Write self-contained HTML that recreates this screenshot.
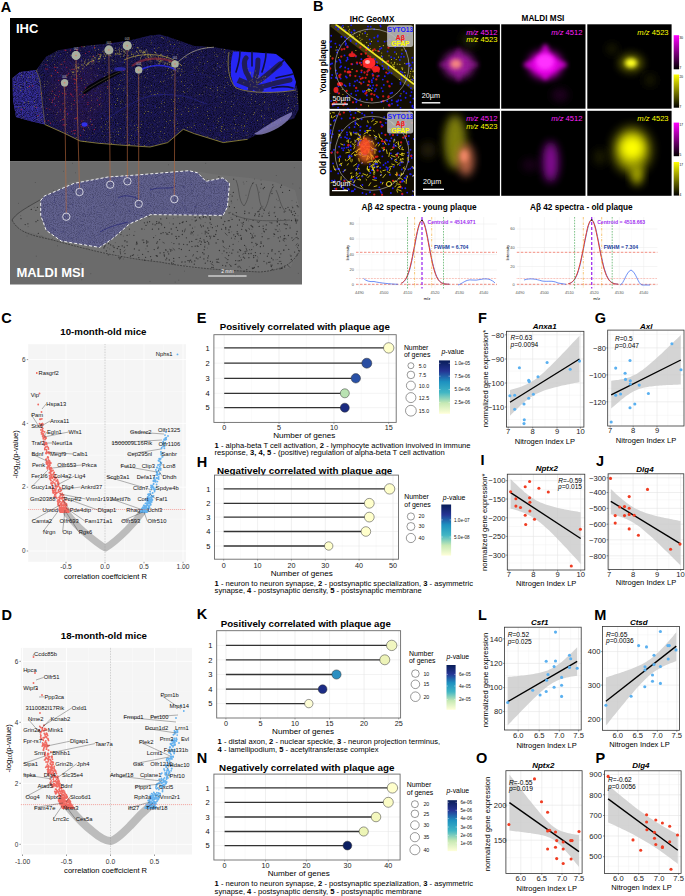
<!DOCTYPE html>
<html><head><meta charset="utf-8"><title>Figure</title>
<style>
html,body{margin:0;padding:0;background:#fff;width:685px;height:896px;overflow:hidden}
svg{display:block;font-family:"Liberation Sans",sans-serif}
</style></head><body>
<svg width="685" height="896" viewBox="0 0 685 896">
<defs>
<filter id="blur1" x="-50%" y="-50%" width="200%" height="200%"><feGaussianBlur stdDeviation="0.6"/></filter>
<filter id="blur2" x="-50%" y="-50%" width="200%" height="200%"><feGaussianBlur stdDeviation="2"/></filter>
<filter id="blur4" x="-50%" y="-50%" width="200%" height="200%"><feGaussianBlur stdDeviation="4"/></filter>
<filter id="blur6" x="-50%" y="-50%" width="200%" height="200%"><feGaussianBlur stdDeviation="6"/></filter>
<filter id="texb" x="0" y="0" width="100%" height="100%" color-interpolation-filters="sRGB"><feTurbulence type="fractalNoise" baseFrequency="0.9" numOctaves="2" seed="3"/><feColorMatrix type="matrix" values="0 0 0 0 0.12  0 0 0 0 0.10  0 0 0 0 0.40  2.2 0 0 0 -1.0"/></filter>
<filter id="texy" x="0" y="0" width="100%" height="100%" color-interpolation-filters="sRGB"><feTurbulence type="fractalNoise" baseFrequency="1.3" numOctaves="1" seed="8"/><feColorMatrix type="matrix" values="0 0 0 0 0.50  0 0 0 0 0.46  0 0 0 0 0.20  0 14 0 0 -9.4"/></filter>
<filter id="texd" x="0" y="0" width="100%" height="100%" color-interpolation-filters="sRGB"><feTurbulence type="fractalNoise" baseFrequency="1.1" numOctaves="1" seed="5"/><feColorMatrix type="matrix" values="0 0 0 0 0.02  0 0 0 0 0.02  0 0 0 0 0.08  0 0 2.5 0 -1.0"/></filter>
<linearGradient id="ylgnbu" x1="0" y1="0" x2="0" y2="1">
<stop offset="0" stop-color="#081d58"/><stop offset="0.2" stop-color="#253494"/><stop offset="0.4" stop-color="#1d91c0"/>
<stop offset="0.6" stop-color="#41b6c4"/><stop offset="0.8" stop-color="#c7e9b4"/><stop offset="1" stop-color="#ffffd9"/>
</linearGradient>
<linearGradient id="magbar" x1="0" y1="0" x2="0" y2="1"><stop offset="0" stop-color="#ff00ff"/><stop offset="0.5" stop-color="#800080"/><stop offset="1" stop-color="#000"/></linearGradient>
<linearGradient id="yelbar" x1="0" y1="0" x2="0" y2="1"><stop offset="0" stop-color="#ffff00"/><stop offset="0.5" stop-color="#808000"/><stop offset="1" stop-color="#000"/></linearGradient>
<radialGradient id="gmag"><stop offset="0" stop-color="#ff40ff"/><stop offset="0.5" stop-color="#c000c0" stop-opacity="0.8"/><stop offset="1" stop-color="#000" stop-opacity="0"/></radialGradient>
<radialGradient id="gyel"><stop offset="0" stop-color="#ffff00"/><stop offset="0.5" stop-color="#c0c000" stop-opacity="0.8"/><stop offset="1" stop-color="#000" stop-opacity="0"/></radialGradient>
</defs>
<text x="0.8" y="12.0" font-size="14.5" font-weight="bold" fill="#000">A</text>
<rect x="10.0" y="18.0" width="292.0" height="143.5" fill="#000" stroke="none" stroke-width="1"/>
<rect x="10.0" y="161.5" width="292.0" height="123.0" fill="#6b6b6b" stroke="none" stroke-width="1"/>
<path d="M12.5,78.0 L20.0,72.0 L36.3,69.9 L46.1,56.7 L58.2,50.2 L86.6,45.8 L108.5,43.6 L130.4,40.3 L150.0,35.5 L160.0,34.5 L172.2,38.3 L194.4,46.1 L214.3,47.2 L234.3,50.5 L256.5,52.7 L274.3,53.8 L283.1,60.5 L292.0,71.6 L297.5,89.3 L298.7,109.3 L294.2,118.2 L283.0,122.0 L262.0,132.0 L247.6,139.3 L223.2,142.6 L194.4,133.7 L183.3,129.3 L167.7,142.6 L150.0,147.0 L119.5,145.0 L97.6,143.2 L80.0,141.0 L64.7,133.4 L45.0,124.6 L40.7,123.5 L30.0,121.0 L16.0,117.0 L13.0,100.0 Z" fill="#1b174e" stroke="none" stroke-width="1"/>
<path d="M12.5,78.0 L20.0,72.0 L36.3,69.9 L40.0,80.0 L42.0,100.0 L45.0,124.6 L40.7,123.5 L30.0,121.0 L16.0,117.0 L13.0,100.0 Z" fill="#3830a0" stroke="none" stroke-width="1"/>
<clipPath id="brainclip"><path d="M12.5,78.0 L20.0,72.0 L36.3,69.9 L46.1,56.7 L58.2,50.2 L86.6,45.8 L108.5,43.6 L130.4,40.3 L150.0,35.5 L160.0,34.5 L172.2,38.3 L194.4,46.1 L214.3,47.2 L234.3,50.5 L256.5,52.7 L274.3,53.8 L283.1,60.5 L292.0,71.6 L297.5,89.3 L298.7,109.3 L294.2,118.2 L283.0,122.0 L262.0,132.0 L247.6,139.3 L223.2,142.6 L194.4,133.7 L183.3,129.3 L167.7,142.6 L150.0,147.0 L119.5,145.0 L97.6,143.2 L80.0,141.0 L64.7,133.4 L45.0,124.6 L40.7,123.5 L30.0,121.0 L16.0,117.0 L13.0,100.0 Z"/></clipPath>
<g clip-path="url(#brainclip)"><rect x="10" y="30" width="292" height="122" filter="url(#texd)"/><rect x="10" y="30" width="292" height="122" filter="url(#texb)"/><rect x="10" y="30" width="292" height="122" filter="url(#texy)" opacity="0.8"/></g>
<ellipse cx="76" cy="95" rx="28" ry="38" fill="#3a1850" opacity="0.3" filter="url(#blur6)"/>
<path d="M32.8 95.1h0M178.9 106.8h0M71.1 111.6h0M102.2 100.8h0M82.1 99.5h0M263.2 117.2h0M102.0 113.3h0M35.1 85.2h0M91.9 81.3h0M79.0 89.3h0M132.2 76.1h0M285.5 112.7h0M241.0 78.7h0M84.4 73.6h0M167.9 37.1h0M211.8 63.8h0M59.9 122.0h0M224.3 59.8h0M236.5 119.5h0M63.2 124.0h0M200.6 73.9h0M290.6 108.1h0M249.1 58.1h0M96.1 61.4h0M273.2 74.3h0M132.7 138.6h0M241.4 53.6h0M220.1 97.4h0M91.5 122.0h0M139.2 103.8h0M159.0 113.0h0M285.4 79.4h0M58.3 83.2h0M109.3 56.3h0M107.1 105.1h0M28.5 112.5h0M259.6 85.7h0M170.7 139.6h0M247.0 83.3h0M251.5 78.8h0M194.5 80.1h0M32.3 118.5h0M92.9 61.6h0M143.9 52.0h0M289.1 69.3h0M78.8 100.8h0M264.3 78.4h0M242.9 128.2h0M191.7 111.6h0M226.8 91.3h0M153.8 77.6h0M95.5 92.9h0M178.9 50.2h0M153.1 85.4h0M52.4 73.2h0M95.2 76.4h0M115.5 82.8h0M83.6 64.3h0M147.5 73.2h0M86.7 108.8h0M227.2 81.1h0M162.4 77.0h0M162.5 100.4h0M287.7 114.3h0M75.6 120.7h0M202.7 77.2h0M269.9 72.7h0M286.9 104.3h0M217.7 70.1h0M122.9 62.6h0M233.8 103.2h0M21.7 97.0h0M155.1 114.9h0M96.3 98.6h0M178.0 71.2h0M118.8 132.7h0M70.5 63.1h0M211.6 80.7h0M100.3 142.7h0M174.6 74.7h0M128.6 134.6h0M37.6 104.9h0M156.8 50.6h0M126.7 93.0h0M99.9 81.9h0M134.2 109.1h0M231.1 122.9h0M222.5 122.7h0M27.6 91.4h0M71.8 64.0h0M164.3 106.5h0M262.5 97.3h0M297.0 105.8h0M180.1 109.7h0M54.9 104.2h0M236.5 79.8h0M15.3 107.5h0M112.5 107.6h0M62.1 69.3h0M254.4 119.0h0M88.3 97.1h0M238.3 93.6h0M283.1 119.1h0M20.9 81.1h0M13.3 90.0h0M240.7 55.0h0M111.6 128.8h0M192.2 74.5h0M79.0 86.5h0M178.2 48.4h0M240.1 117.6h0M155.6 106.1h0M52.7 102.8h0M224.7 137.5h0M176.7 119.4h0M207.0 107.1h0M192.7 62.5h0M142.6 104.9h0M161.0 45.5h0M167.3 115.8h0M195.5 128.5h0M224.8 141.2h0M74.8 125.4h0M244.3 106.3h0M246.2 87.4h0M113.8 131.0h0M120.0 62.9h0M98.6 88.7h0M194.9 109.2h0M68.6 113.0h0M146.1 50.5h0M253.2 76.7h0M109.2 132.2h0M72.5 83.6h0M171.0 128.2h0M249.6 80.0h0M199.9 124.3h0M103.0 68.1h0M219.4 135.0h0M274.3 108.8h0M248.1 123.7h0M86.0 68.4h0M293.5 88.2h0M192.4 114.9h0M151.6 40.8h0M53.6 124.9h0M197.1 105.8h0M237.2 98.6h0M213.8 128.3h0M250.6 102.5h0M135.0 135.2h0M87.5 82.2h0M111.5 43.7h0M233.6 60.5h0M161.8 88.3h0M213.2 75.4h0M238.0 51.8h0M260.6 89.4h0M87.1 122.8h0M30.4 102.2h0M286.5 110.3h0M206.3 68.1h0M192.3 85.6h0M261.9 64.4h0M108.0 53.1h0M149.0 66.6h0M28.5 116.8h0M163.1 55.2h0M273.7 58.9h0M37.1 103.4h0M215.1 126.5h0M148.8 133.4h0M65.4 128.8h0M58.9 76.3h0M13.3 93.3h0M246.3 132.7h0M285.8 90.4h0M17.1 102.3h0M47.3 90.3h0M92.3 47.9h0M21.9 107.1h0M206.7 65.2h0M277.3 104.8h0M159.5 64.6h0M49.7 67.5h0M215.9 86.5h0M187.9 87.5h0M81.5 59.3h0M171.8 90.0h0M231.7 100.8h0M288.3 99.2h0M120.9 85.6h0M219.5 67.4h0M171.4 77.8h0M237.9 130.9h0M139.4 55.0h0M53.6 99.6h0M25.6 98.4h0M276.1 122.2h0M160.5 112.1h0M114.7 101.8h0M284.0 111.1h0M40.4 76.7h0M288.8 89.5h0M132.8 51.8h0M130.1 123.8h0M99.4 130.0h0M203.7 56.4h0M104.6 115.6h0M271.4 100.4h0M173.2 47.1h0M86.8 136.6h0M159.2 95.9h0M174.9 69.4h0M43.3 98.1h0M217.7 66.2h0M207.1 109.7h0M83.3 130.5h0M58.5 56.6h0M251.4 122.5h0M212.4 82.8h0M213.7 125.9h0M29.0 74.8h0M81.4 92.8h0M280.6 74.1h0M203.3 102.2h0M68.6 114.0h0M44.4 71.0h0M173.8 46.4h0M136.6 55.6h0M234.3 129.7h0M103.9 76.0h0M283.2 90.4h0M57.2 68.2h0M159.7 82.0h0M96.9 84.5h0M206.1 103.4h0M150.0 107.8h0M66.2 111.4h0M36.5 109.3h0M178.7 81.5h0M164.3 62.7h0M171.0 59.8h0M44.4 92.5h0M138.1 132.4h0M182.6 58.3h0M185.3 45.4h0M277.6 111.0h0M65.2 97.2h0M60.7 75.2h0M177.6 78.2h0M13.7 100.0h0M204.6 65.1h0M155.5 63.9h0M194.1 75.4h0M112.6 96.8h0M29.3 72.4h0M295.7 88.9h0M81.9 60.8h0M262.0 85.7h0M100.5 116.8h0M114.5 122.3h0M151.1 136.5h0M244.3 133.8h0M51.2 55.5h0M191.8 72.1h0M183.6 63.3h0M245.6 82.2h0M292.5 85.7h0M29.3 91.2h0M155.2 106.5h0M241.8 86.5h0M29.2 98.3h0M192.0 59.5h0M259.7 133.1h0M227.7 127.8h0M58.4 111.8h0M72.2 134.7h0M156.9 60.4h0M151.9 49.5h0M265.5 117.4h0M24.4 92.0h0M209.5 108.5h0M262.9 115.8h0M123.1 77.9h0M256.9 92.2h0M192.7 118.7h0" stroke="#2e2aa8" stroke-width="1.0" stroke-linecap="round" stroke-opacity="0.8" fill="none"/>
<path d="M104.9 51.2h0M76.1 105.5h0M177.6 79.2h0M98.0 124.6h0M152.3 38.5h0M231.4 99.3h0M178.4 86.0h0M283.1 88.0h0M29.4 114.0h0M93.7 78.0h0M83.1 78.6h0M265.5 127.4h0M270.2 122.9h0M110.3 64.2h0M256.7 125.9h0M86.4 112.9h0M140.4 140.8h0M253.2 88.7h0M125.6 79.8h0M280.0 83.5h0M160.8 97.3h0M173.2 120.6h0M165.1 88.5h0M212.7 133.9h0M86.5 97.8h0M204.1 123.4h0M56.3 115.6h0M133.2 137.9h0M86.2 51.0h0M101.5 68.8h0M110.4 128.9h0M253.4 133.2h0M227.4 109.0h0M251.7 135.7h0M162.3 91.5h0M268.2 111.9h0M251.9 97.7h0M208.2 121.4h0M54.3 62.9h0M204.9 112.9h0M145.8 47.5h0M143.7 127.5h0M247.4 92.0h0M213.9 60.4h0M277.9 115.3h0M251.6 66.6h0M66.5 76.6h0M265.8 126.6h0M222.2 85.4h0M58.4 57.7h0M154.7 59.1h0M86.1 98.9h0M156.5 105.8h0M126.7 84.8h0M21.3 114.9h0M124.4 139.7h0M161.9 111.8h0M219.1 107.8h0M236.5 60.5h0M84.3 106.5h0M98.5 86.5h0M18.3 90.8h0M132.5 63.3h0M109.0 81.9h0M68.8 124.9h0M156.9 57.4h0M76.1 81.5h0M124.9 58.3h0M29.3 78.8h0M265.6 117.5h0M92.3 74.1h0M71.5 74.7h0M147.9 76.5h0M67.4 75.5h0M20.7 80.8h0M276.1 63.3h0M275.0 106.3h0M148.4 143.1h0M242.3 118.2h0M103.7 75.3h0M79.2 81.5h0M205.5 119.3h0M202.7 47.8h0M82.4 51.5h0M244.0 108.5h0M41.4 88.1h0M291.2 100.5h0M86.6 122.7h0M42.4 102.0h0M101.6 57.2h0M125.5 96.7h0M116.4 56.5h0M270.8 82.3h0M170.3 107.0h0M152.8 125.7h0M150.5 40.1h0M123.3 137.1h0M248.6 52.3h0M75.7 80.1h0M47.3 62.2h0M184.1 96.7h0M293.8 90.1h0M269.3 65.3h0M53.2 91.3h0M64.3 52.4h0M240.9 64.2h0M177.7 75.1h0M138.9 54.2h0M84.8 106.9h0M39.5 106.8h0M15.5 96.8h0M52.8 56.7h0M157.5 107.1h0M23.1 72.2h0M211.5 130.4h0M86.7 60.9h0M272.5 105.9h0M146.7 129.7h0M258.1 83.8h0M210.8 106.3h0M181.5 75.4h0M245.0 106.3h0M85.7 66.2h0M117.6 70.6h0M156.6 131.1h0M233.9 73.5h0M166.4 58.7h0M70.0 120.9h0M238.1 113.5h0M71.2 64.0h0M155.8 77.2h0M228.5 119.8h0M254.0 109.5h0M60.7 84.0h0M98.5 114.2h0M106.2 55.6h0M126.5 124.2h0M77.6 116.3h0M234.2 113.8h0M132.4 123.2h0M64.5 108.6h0M123.6 89.8h0M208.4 78.7h0M132.1 81.9h0M72.8 48.7h0M173.3 59.8h0M113.3 106.8h0M169.4 48.3h0M53.0 60.6h0M111.4 51.4h0M239.2 53.1h0M186.6 123.1h0M268.6 123.8h0M224.9 84.0h0M155.0 95.5h0M146.3 98.1h0M187.0 111.8h0M158.5 89.3h0M21.7 115.9h0M148.2 93.9h0M90.0 91.7h0M276.5 103.4h0M238.5 137.7h0M189.0 105.5h0M203.4 86.2h0M103.4 83.1h0M123.1 101.5h0M218.5 61.6h0M234.1 115.3h0M279.6 63.0h0M16.2 108.2h0M221.3 52.9h0M177.0 84.0h0M122.7 123.6h0M208.5 102.6h0M251.1 126.5h0M176.1 65.2h0M243.6 112.0h0M240.9 56.8h0M279.4 60.7h0M85.1 119.6h0M143.9 44.0h0M119.3 46.1h0M283.6 121.5h0M26.6 97.5h0M143.5 142.0h0M85.8 98.4h0M140.7 52.2h0M113.0 136.9h0M237.7 114.9h0M53.6 120.1h0M278.2 59.1h0M248.2 88.4h0M56.7 64.9h0M69.9 75.5h0M40.0 67.0h0M51.6 54.5h0M90.6 57.5h0M222.3 80.5h0M108.2 130.0h0M153.5 35.8h0M160.0 47.8h0M216.1 77.5h0M51.3 101.5h0M54.3 99.3h0M59.2 128.2h0M123.6 81.9h0M162.9 79.1h0M108.2 83.7h0M242.9 138.1h0M160.5 143.2h0M83.5 82.1h0M234.9 140.8h0M244.3 134.8h0M161.3 83.4h0M94.5 68.8h0M46.5 101.7h0M168.8 129.7h0M123.3 84.1h0M108.7 74.2h0M188.9 130.9h0M160.6 118.2h0M230.0 88.2h0M236.9 133.5h0M104.9 130.1h0M173.1 99.4h0M110.5 94.4h0M61.0 70.3h0M268.7 112.6h0M64.4 105.8h0M170.8 64.3h0M162.0 127.8h0M267.6 100.4h0M257.3 69.9h0M246.2 68.6h0M287.5 90.5h0M81.7 78.4h0M75.5 69.2h0M139.2 129.3h0M57.7 74.2h0M141.9 48.9h0M117.6 62.1h0M233.5 77.9h0M256.2 70.6h0M272.9 122.3h0M130.4 109.1h0M273.9 117.7h0M252.9 99.0h0M85.1 83.6h0M82.2 46.7h0M211.4 78.9h0M283.6 82.3h0M210.5 118.2h0M173.7 72.0h0M197.0 105.6h0M65.3 106.7h0M237.2 128.7h0M105.8 55.0h0M23.8 98.6h0M247.3 114.4h0M253.3 131.5h0M134.1 66.3h0M137.9 109.9h0M104.9 86.5h0M169.3 46.8h0M124.5 53.5h0M215.0 82.6h0M261.9 53.2h0M110.0 121.1h0M119.1 118.0h0M67.4 84.9h0M263.2 95.4h0M55.3 91.2h0M64.3 127.3h0M254.5 78.8h0M106.5 58.7h0M17.9 86.4h0M163.6 143.1h0M21.8 97.9h0M262.4 122.3h0M240.3 133.5h0M207.5 68.7h0M224.2 92.0h0M281.0 72.8h0M59.2 64.6h0M198.0 56.4h0M263.3 106.9h0M72.9 71.2h0M198.2 80.2h0M28.1 104.0h0M180.9 97.3h0M184.7 71.7h0M86.0 115.1h0M234.7 69.3h0M14.6 88.2h0M234.2 75.3h0M197.2 79.8h0M70.3 120.5h0M107.1 89.4h0M142.0 100.0h0M109.4 138.7h0M113.5 90.6h0M112.3 58.5h0M169.5 112.7h0M103.3 81.8h0M277.8 63.0h0M211.2 71.0h0M169.5 70.0h0" stroke="#0e0c30" stroke-width="1.0" stroke-linecap="round" stroke-opacity="0.8" fill="none"/>
<path d="M28.6 91.8h0M136.5 42.0h0M133.8 128.3h0M95.1 50.4h0M100.5 127.0h0M169.2 41.2h0M132.0 120.3h0M18.5 86.6h0M55.3 54.1h0M189.2 111.1h0M41.7 106.3h0M58.6 72.8h0M41.1 75.5h0M262.9 104.0h0M150.9 43.8h0M284.9 94.2h0M235.6 71.6h0M286.1 75.6h0M77.1 56.4h0M220.0 53.4h0M86.4 81.8h0M164.6 93.7h0M138.3 54.9h0M42.5 97.9h0M46.9 84.4h0M171.0 84.2h0M42.1 64.3h0M235.6 64.8h0M175.8 113.8h0M194.1 125.4h0M49.1 94.1h0M95.2 91.0h0M222.4 96.8h0M148.3 140.5h0M291.1 96.4h0M148.2 91.3h0M219.8 107.3h0M222.6 126.6h0M50.2 75.1h0M223.5 62.8h0M88.2 117.1h0M99.4 98.7h0M141.0 64.6h0M151.5 36.8h0M227.5 129.7h0M169.6 116.0h0M197.0 66.6h0M172.0 79.0h0M52.1 55.9h0M110.1 44.4h0M74.0 64.9h0M255.6 133.5h0M147.8 100.9h0M83.3 46.4h0M143.3 96.9h0M197.3 68.6h0M76.2 102.5h0M148.4 60.8h0M277.5 59.9h0M101.5 127.5h0M285.2 90.5h0M279.4 71.5h0M280.6 119.1h0M107.2 53.3h0M247.9 83.3h0M153.6 139.8h0M228.1 62.2h0M223.8 56.7h0M296.8 91.8h0M74.5 76.0h0M199.0 57.2h0M105.9 111.3h0M169.3 41.2h0M161.6 139.5h0M250.0 54.9h0M173.4 120.4h0M189.6 89.8h0M63.5 87.9h0M48.9 83.1h0M138.8 92.2h0M222.1 126.9h0M238.3 140.1h0M112.7 120.2h0M207.1 136.1h0M159.1 136.1h0M77.2 108.5h0M42.5 74.7h0M179.5 101.2h0M191.1 88.1h0M280.8 61.8h0M281.0 117.6h0M164.5 80.3h0M236.7 115.6h0M224.9 85.6h0M74.3 134.3h0M264.6 71.5h0M175.7 69.1h0M278.6 73.3h0M247.2 135.6h0M193.3 66.8h0M40.1 120.3h0M103.6 82.3h0M282.9 66.3h0M212.8 90.8h0M125.3 135.5h0M112.0 71.2h0M266.0 61.1h0M56.4 51.8h0M105.7 93.5h0M68.3 106.7h0M71.2 78.3h0M101.8 105.6h0M22.9 95.9h0M129.8 142.1h0M90.7 79.6h0M113.1 64.2h0M219.2 66.1h0M272.0 123.4h0M250.6 106.2h0M200.3 62.5h0M171.3 64.2h0M52.0 90.2h0M194.8 106.5h0M194.2 123.4h0M183.1 111.6h0M41.3 107.5h0M243.7 66.3h0M246.2 135.2h0M206.5 87.0h0M66.3 55.9h0M127.5 93.0h0M111.0 93.2h0M105.0 63.3h0M150.1 53.2h0M53.1 111.3h0M217.8 56.2h0M52.1 85.0h0M53.0 59.3h0M216.8 97.1h0M103.3 137.0h0M268.9 110.2h0M243.6 72.9h0M216.2 56.4h0M164.3 95.3h0M83.9 127.2h0M39.7 113.7h0M162.1 114.1h0M261.6 115.7h0M235.0 72.6h0M116.6 94.5h0M136.3 91.5h0M165.2 50.9h0M94.7 61.7h0M175.6 108.1h0M122.0 100.8h0M113.2 132.3h0M233.6 52.1h0M262.1 84.2h0M287.3 118.2h0M215.4 138.3h0M134.4 137.8h0M249.1 92.4h0M158.8 91.6h0M176.9 80.9h0M57.0 120.6h0M60.6 64.4h0M141.1 78.0h0M138.2 104.7h0M151.0 124.4h0M61.8 74.9h0M122.7 80.0h0M112.8 61.9h0M93.4 61.0h0M202.6 72.9h0M89.4 129.2h0M120.2 143.3h0M284.9 91.6h0M73.0 133.5h0M155.6 67.9h0M101.3 59.8h0M192.5 54.7h0M101.2 106.8h0M249.8 66.1h0M192.3 85.6h0M195.0 96.0h0M69.8 69.4h0M214.9 110.4h0M169.4 120.7h0M231.9 128.8h0M95.0 75.1h0M116.2 53.2h0M199.3 62.7h0M118.0 128.8h0M35.0 112.4h0M139.2 144.6h0M23.5 84.1h0M111.9 56.3h0M189.9 126.5h0M110.6 134.9h0M174.1 79.2h0M35.0 80.5h0M217.1 120.3h0M173.6 122.3h0M80.0 76.4h0M178.9 46.9h0M209.2 77.4h0M124.7 88.2h0M175.2 68.5h0M179.4 43.1h0M74.7 79.6h0M288.4 102.5h0M106.5 44.7h0M52.9 121.5h0M162.2 141.3h0M77.5 120.3h0M116.9 51.0h0M223.7 139.0h0M87.3 83.5h0M74.2 98.9h0M235.8 132.4h0M55.3 117.9h0M60.4 111.8h0M239.3 112.6h0M63.4 112.1h0M223.9 91.1h0M62.9 64.2h0M171.7 75.3h0M120.2 61.4h0M237.0 137.6h0" stroke="#8a7e30" stroke-width="0.8" stroke-linecap="round" stroke-opacity="0.6" fill="none"/>
<path d="M65.8 93.9h0M52.5 102.0h0M63.0 103.5h0M55.8 95.5h0M74.1 69.6h0M94.4 129.5h0M41.6 93.6h0M74.8 89.3h0M71.8 131.2h0M79.8 94.2h0M48.2 120.6h0M66.7 67.2h0M85.7 87.8h0M99.5 104.6h0M87.8 125.7h0M45.0 121.1h0M93.1 56.4h0M77.8 54.6h0M81.3 78.2h0M77.2 87.1h0M21.4 109.6h0M107.4 86.8h0M38.1 115.6h0M74.4 58.9h0M62.7 93.4h0M54.4 67.1h0M58.7 80.4h0M81.9 46.7h0M77.1 50.4h0M92.3 61.6h0M67.1 75.1h0M55.9 67.5h0M74.0 104.2h0M63.2 124.9h0M75.6 118.7h0M88.0 102.5h0M66.3 86.2h0M73.9 79.1h0M66.5 82.9h0M55.4 105.3h0M76.3 80.8h0M54.4 98.8h0M80.5 135.3h0M64.7 111.2h0M51.5 75.6h0M89.1 51.6h0M70.7 93.9h0M52.4 91.2h0M94.6 47.4h0M52.4 100.1h0M50.5 123.1h0M74.7 83.6h0M32.7 85.9h0M76.2 90.7h0M36.5 107.3h0M67.5 113.9h0M65.8 108.2h0M73.0 96.5h0M73.7 56.0h0M99.4 54.5h0M85.5 53.2h0M70.5 50.1h0M46.8 108.3h0M65.0 50.1h0M49.9 109.3h0M81.8 121.0h0M77.0 76.1h0M62.7 93.2h0M123.8 70.5h0M72.0 69.4h0M64.7 124.9h0M82.7 96.7h0M68.7 73.3h0M91.7 124.7h0M45.9 68.9h0M71.7 94.9h0M75.6 79.8h0M49.7 99.3h0M74.6 79.0h0M73.8 130.5h0M58.6 96.7h0M84.8 94.6h0M74.9 83.0h0M55.4 70.4h0M63.7 119.0h0M62.7 119.6h0M97.4 100.1h0M29.6 86.4h0M81.8 126.7h0M87.9 104.5h0M76.8 49.6h0M74.5 100.5h0M64.7 61.8h0M90.4 119.5h0M59.2 91.3h0M57.6 72.4h0M46.0 64.6h0M75.3 130.4h0M61.4 64.2h0M76.5 117.9h0M74.8 133.4h0M47.3 69.0h0M83.5 129.2h0M65.9 50.3h0M60.4 109.7h0" stroke="#d02030" stroke-width="1.1" stroke-linecap="round" stroke-opacity="0.85" fill="none"/>
<path d="M77.6 67.4h0M95.2 57.7h0M135.7 57.0h0M107.8 53.8h0M160.8 58.5h0M73.0 72.7h0M95.1 59.0h0M121.8 49.1h0M148.9 57.6h0M92.6 60.3h0M171.4 66.6h0M109.6 51.1h0M174.8 68.2h0M162.8 60.3h0M82.8 68.3h0M169.5 62.4h0M175.2 66.8h0M173.1 74.5h0M145.0 54.3h0M120.6 56.8h0M91.8 59.2h0M78.5 67.3h0M132.4 48.2h0M124.8 52.8h0M81.7 64.9h0M133.0 54.2h0M144.4 55.1h0M171.3 71.9h0M164.9 63.1h0M83.1 65.3h0M124.4 51.5h0M124.1 55.0h0M125.6 53.1h0M116.0 54.4h0M99.9 56.2h0M174.1 64.6h0M125.6 48.3h0M146.9 59.0h0M88.5 63.6h0M112.4 52.9h0M171.0 65.8h0M93.6 56.1h0M150.5 55.9h0M137.4 52.2h0M137.1 47.8h0M110.0 51.7h0M177.4 66.3h0M115.6 53.5h0M98.1 54.1h0M87.6 64.3h0M93.8 63.0h0M181.8 69.4h0M119.5 52.0h0M170.1 61.0h0M90.1 56.7h0M160.3 60.7h0M113.1 60.6h0M144.6 52.4h0M166.5 58.0h0M154.7 52.0h0M131.5 54.3h0M158.2 56.4h0M169.9 67.1h0M88.8 64.0h0M100.2 56.3h0M91.6 61.1h0M128.4 49.5h0M145.3 58.2h0M155.3 52.5h0M160.3 60.9h0M143.6 51.2h0M138.5 48.0h0M72.0 71.8h0M84.9 62.6h0M135.1 53.1h0M92.1 64.1h0M138.6 53.8h0M100.5 54.3h0M143.8 52.3h0M150.3 55.6h0M91.0 68.2h0M112.0 59.8h0M139.9 50.8h0M128.8 50.9h0M180.5 75.3h0M89.5 62.4h0M93.5 60.7h0M159.4 62.0h0M78.2 64.1h0M123.4 56.2h0M168.0 63.1h0M133.5 55.2h0M109.2 50.6h0M108.9 53.0h0M167.6 65.0h0M181.9 71.4h0M143.3 53.2h0M156.2 53.8h0M155.1 57.2h0M91.8 62.1h0M84.8 61.5h0M73.8 72.0h0M140.5 57.8h0M100.9 55.6h0M175.0 65.6h0M140.4 58.9h0M147.9 53.0h0M85.3 60.1h0M156.9 59.8h0M128.8 50.6h0M152.8 58.3h0M77.1 71.3h0M178.0 68.5h0M107.0 55.0h0M105.5 55.8h0M98.2 59.3h0M175.9 70.5h0M165.6 66.7h0M141.2 50.6h0M88.5 59.8h0M130.3 47.8h0M98.1 61.8h0M128.3 55.6h0M100.1 56.9h0M159.1 59.2h0M173.3 69.1h0M75.6 66.3h0M141.4 56.7h0M82.8 69.0h0M173.9 65.7h0M151.0 61.8h0M150.8 58.7h0M158.1 60.6h0M163.2 62.1h0M145.4 52.9h0M110.9 55.9h0M128.4 48.4h0M131.7 54.1h0M104.0 53.0h0M164.7 64.3h0M148.1 56.8h0M168.9 59.2h0M143.0 52.3h0M147.1 51.2h0M104.8 58.6h0M160.8 62.0h0M99.3 61.6h0M178.0 66.9h0M151.8 57.1h0M110.6 55.2h0M86.8 64.7h0M115.9 50.5h0M76.8 68.4h0M94.7 57.4h0M106.2 54.1h0M158.9 63.7h0M158.7 59.2h0M159.0 58.4h0M121.0 54.1h0M148.1 54.2h0M125.8 50.7h0M170.2 62.4h0M172.3 75.7h0M78.4 67.8h0M119.4 48.1h0M120.2 53.7h0M115.2 54.8h0M148.8 55.7h0M92.9 58.8h0M97.1 55.8h0M177.0 62.5h0M170.7 61.4h0M78.9 68.6h0M164.6 58.4h0M99.6 58.8h0M142.4 52.8h0M77.8 71.6h0M170.0 61.5h0M84.2 66.8h0M148.5 59.4h0M171.3 62.2h0M161.6 61.0h0M131.1 51.8h0M104.6 58.8h0M155.3 52.4h0M118.9 49.6h0M160.4 58.2h0M74.1 74.8h0M117.6 53.9h0M156.2 58.4h0M167.1 63.6h0M103.2 51.1h0M123.2 50.4h0M100.3 56.8h0M82.1 64.9h0M90.4 61.5h0M140.0 50.1h0M79.2 66.9h0M119.8 54.4h0M149.3 59.3h0M145.4 54.8h0M169.4 64.5h0M99.6 58.4h0M115.5 48.2h0M140.4 52.2h0M86.6 65.5h0M77.9 70.3h0M173.2 70.6h0M168.9 61.6h0M100.7 58.0h0M159.1 61.5h0M150.4 59.8h0M88.4 62.3h0M161.3 54.3h0M74.1 69.0h0M157.2 59.9h0M136.5 51.2h0M75.9 68.0h0M119.0 53.3h0M76.8 66.0h0M124.1 54.9h0M93.3 60.7h0M175.2 68.8h0M81.6 60.9h0M165.5 63.0h0M104.8 54.4h0M141.7 51.8h0M73.8 72.2h0M144.3 52.5h0M118.3 54.2h0M145.6 51.0h0M162.1 55.9h0M153.1 56.1h0M159.1 63.9h0M93.9 60.4h0M148.3 57.3h0M109.1 55.5h0M123.4 51.8h0M173.0 61.2h0M179.4 68.6h0M98.5 58.4h0M101.2 54.8h0M108.1 50.2h0M169.0 60.6h0M84.3 63.5h0M137.6 55.4h0M177.9 71.7h0M136.5 51.7h0M119.3 50.7h0M177.9 70.0h0M103.4 56.3h0M98.5 49.4h0M87.5 63.3h0M146.5 49.8h0M98.8 58.8h0M147.1 56.6h0M174.1 65.8h0M139.7 51.0h0M105.7 56.3h0M72.7 72.3h0" stroke="#c8b848" stroke-width="0.9" stroke-linecap="round" stroke-opacity="0.75" fill="none"/>
<path d="M132,66 C142,58 160,56 176,63" fill="none" stroke="#8a2a3a" stroke-width="2.2" opacity="0.7"/>
<path d="M140,70 C152,64 166,64 176,70" fill="none" stroke="#2a2ae0" stroke-width="1.6" opacity="0.9"/>
<path d="M124,60 C140,52 168,52 182,66" fill="none" stroke="#c8b040" stroke-width="0.8" opacity="0.8"/>
<path d="M82.0,93.0 L88.0,86.0 L100.0,79.0 L114.0,72.5 L122.0,70.5 L120.0,73.5 L106.0,81.0 L92.0,89.0 L85.0,94.0 Z" fill="#020208" stroke="none" stroke-width="1"/>
<path d="M82,93 C95,84 110,76 122,71" fill="none" stroke="#a09860" stroke-width="0.5" opacity="0.6"/>
<ellipse cx="84.5" cy="124.5" rx="3" ry="2.2" fill="#3030e8"/>
<ellipse cx="120" cy="69" rx="6" ry="2" fill="#3030d0" opacity="0.6"/>
<path d="M45,124.6 L64.7,133.4 L80,141 L97.6,143.2 L119.5,145 L150,147 L167.7,142.6 L183.3,129.3 L194.4,133.7 L223.2,142.6 L247.6,139.3" fill="none" stroke="#c8b840" stroke-width="0.7" opacity="0.85"/>
<path d="M36.3,69.9 L40,80 L42,100 L45,124.6" fill="none" stroke="#a89830" stroke-width="0.6" opacity="0.7"/>
<path d="M176,64 C186,54 196,48 214,47.2" fill="none" stroke="#d8d0a0" stroke-width="0.7" opacity="0.8"/>
<path d="M105,120 C118,112 130,102 150,96 C170,92 190,96 205,104" fill="none" stroke="#2a2890" stroke-width="1" opacity="0.6"/>
<path d="M233,51.5 L256,52.5 L276,54 L284,60 L292,70 L296,82 L294,90 L280,92 L262,92.5 L244,90 L234,86 L231,76 L231,62 Z" fill="#2626f6"/>
<path d="M250,92 C252,84 250,78 246,72 C244,66 244,60 246,58 M252,86 C256,78 258,70 258,60 M254,84 C262,80 270,72 280,64 M256,88 C266,86 278,82 290,80" fill="none" stroke="#201c58" stroke-width="5" stroke-linecap="round"/>
<path d="M238,80 C246,84 256,86 262,92" fill="none" stroke="#201c58" stroke-width="6"/>
<path d="M240,51 C240,58 238,66 236,72 M252,52 C252,56 252,62 252,66 M266,53 C266,60 264,66 262,72 M284,60 C280,64 276,68 272,72 M293,74 C288,76 282,76 276,78 M293,88 C286,86 280,86 272,88" fill="none" stroke="#101040" stroke-width="1.6" stroke-linecap="round"/>
<path d="M263.1 85.3h0M268.0 78.0h0M254.0 91.9h0M257.6 82.9h0M253.3 86.8h0M252.8 72.9h0M255.5 76.9h0M262.7 77.4h0M257.0 78.5h0M258.7 75.6h0M264.8 70.0h0M252.9 75.0h0M261.2 80.3h0M259.9 77.7h0M250.3 72.2h0M253.3 76.3h0M258.2 82.5h0M263.8 79.3h0M250.0 72.6h0M256.5 82.5h0M271.6 81.3h0M270.1 93.1h0M247.6 88.5h0M265.1 89.4h0M255.9 86.7h0M252.2 79.5h0M256.2 92.5h0M254.3 86.7h0M256.5 75.0h0M257.9 84.6h0M250.3 84.4h0M250.3 73.9h0M257.8 78.4h0M248.1 68.6h0M256.2 81.7h0M252.3 81.3h0M243.8 82.7h0M259.3 81.9h0M251.1 80.6h0M257.0 87.5h0M258.2 81.8h0M250.2 86.0h0M265.4 76.5h0M261.1 82.2h0M255.6 71.0h0M270.1 66.9h0M258.4 77.4h0M265.2 77.0h0M256.3 84.3h0M259.6 76.4h0M261.4 82.7h0M263.9 76.4h0M255.6 77.3h0M249.3 81.8h0M259.3 89.9h0M253.4 82.7h0M265.1 79.2h0M256.5 80.9h0M250.5 73.1h0M264.9 81.2h0" stroke="#a09030" stroke-width="0.8" stroke-linecap="round" stroke-opacity="0.7" fill="none"/>
<path d="M229,52 C227,64 228,80 236,88 C250,94 280,93 296,90" fill="none" stroke="#a09040" stroke-width="0.7"/>
<path d="M254,134 C266,126 282,116 292,112 C293,116 286,124 274,130 C266,134 258,136 254,134 Z" fill="#8a82c0" opacity="0.8"/>
<circle cx="64.6" cy="82.8" r="3.60" fill="#aab0a0" stroke="none" stroke-width="1" opacity="0.9"/>
<circle cx="64.6" cy="82.8" r="0.80" fill="#d88070" stroke="none" stroke-width="1"/>
<text x="64.6" y="78.0" font-size="2.8" text-anchor="middle" fill="#ccc">006</text>
<circle cx="76.0" cy="55.5" r="4.40" fill="#aab0a0" stroke="none" stroke-width="1" opacity="0.9"/>
<circle cx="76.0" cy="55.5" r="0.80" fill="#d88070" stroke="none" stroke-width="1"/>
<text x="76.0" y="49.9" font-size="2.8" text-anchor="middle" fill="#ccc">002</text>
<circle cx="108.9" cy="50.0" r="4.40" fill="#aab0a0" stroke="none" stroke-width="1" opacity="0.9"/>
<circle cx="108.9" cy="50.0" r="0.80" fill="#d88070" stroke="none" stroke-width="1"/>
<text x="108.9" y="44.4" font-size="2.8" text-anchor="middle" fill="#ccc">005</text>
<circle cx="127.2" cy="45.7" r="4.40" fill="#aab0a0" stroke="none" stroke-width="1" opacity="0.9"/>
<circle cx="127.2" cy="45.7" r="0.80" fill="#d88070" stroke="none" stroke-width="1"/>
<text x="127.2" y="40.1" font-size="2.8" text-anchor="middle" fill="#ccc">003</text>
<circle cx="138.7" cy="70.0" r="3.60" fill="#aab0a0" stroke="none" stroke-width="1" opacity="0.9"/>
<circle cx="138.7" cy="70.0" r="0.80" fill="#d88070" stroke="none" stroke-width="1"/>
<text x="138.7" y="65.2" font-size="2.8" text-anchor="middle" fill="#ccc">004</text>
<circle cx="175.0" cy="64.0" r="3.60" fill="#aab0a0" stroke="none" stroke-width="1" opacity="0.9"/>
<circle cx="175.0" cy="64.0" r="0.80" fill="#d88070" stroke="none" stroke-width="1"/>
<text x="175.0" y="59.2" font-size="2.8" text-anchor="middle" fill="#ccc">001</text>
<path d="M12.0,220.0 L20.0,212.0 L40.0,200.0 L70.0,182.0 L110.0,176.0 L150.0,174.0 L190.0,170.0 L212.0,174.0 L230.0,176.0 L250.0,178.0 L275.0,182.0 L295.0,190.0 L300.0,210.0 L300.0,250.0 L290.0,268.0 L260.0,272.0 L220.0,270.0 L190.0,268.0 L160.0,262.0 L120.0,258.0 L90.0,250.0 L60.0,242.0 L40.0,235.0 L20.0,230.0 Z" fill="#717171" stroke="none" stroke-width="1"/>
<path d="M225.7 227.5h0M225.7 265.9h0M272.8 184.8h0M217.4 179.5h0M59.6 233.3h0M284.2 211.9h0M159.7 177.0h0M128.8 213.5h0M114.1 247.5h0M61.9 220.8h0M207.0 182.3h0M181.8 186.8h0M166.1 250.1h0M162.5 201.4h0M149.9 194.0h0M192.0 246.6h0M240.6 250.5h0M38.3 233.3h0M174.9 179.6h0M80.9 194.0h0M165.6 249.9h0M221.1 189.5h0M272.5 187.6h0M203.1 194.3h0M25.2 224.6h0M281.2 268.3h0M164.5 256.1h0M31.3 209.4h0M84.3 243.2h0M234.4 207.6h0M190.6 199.0h0M228.7 255.5h0M35.9 210.3h0M233.7 179.2h0M252.6 183.3h0M232.8 214.1h0M288.4 235.5h0M82.9 193.6h0M110.1 185.5h0M257.1 261.3h0M117.1 208.0h0M120.7 176.2h0M268.3 253.7h0M84.4 241.7h0M207.3 241.3h0M263.3 228.7h0M263.3 188.7h0M68.5 218.4h0M271.9 251.0h0M264.4 231.8h0M204.0 188.0h0M248.9 257.7h0M280.6 187.2h0M106.4 250.9h0M173.7 258.4h0M133.9 235.3h0M207.5 180.1h0M233.3 192.4h0M98.9 182.4h0M157.3 185.0h0M285.0 219.6h0M182.7 180.4h0M128.0 205.5h0M113.1 245.9h0M127.5 214.9h0M170.3 211.3h0M196.4 220.2h0M86.6 207.5h0M260.0 209.3h0M193.7 176.5h0M137.0 209.9h0M215.7 184.0h0M185.3 203.4h0M173.6 180.1h0M122.2 245.9h0M280.4 236.8h0M298.3 245.6h0M280.8 253.8h0M139.1 250.2h0M222.8 240.8h0M154.2 249.6h0M200.8 196.3h0M167.9 251.8h0M195.7 208.2h0M21.0 218.7h0M219.4 250.5h0M281.5 185.2h0M156.0 203.4h0M258.9 216.2h0M227.0 190.8h0M128.5 183.1h0M147.4 222.2h0M122.7 228.7h0M286.0 245.3h0M261.1 243.4h0M182.0 261.9h0M266.3 224.9h0M191.8 241.4h0M221.6 229.2h0M272.0 193.6h0M177.6 230.3h0M37.8 220.3h0M108.3 254.8h0M205.3 263.2h0M282.6 192.3h0M215.8 214.5h0M27.9 223.8h0M136.7 242.3h0M126.5 186.8h0M88.2 243.5h0M127.2 245.6h0M156.7 221.6h0M148.3 180.0h0M218.4 259.1h0M117.3 248.5h0M294.7 215.6h0M218.9 176.8h0M68.0 225.2h0M181.5 189.7h0M156.8 223.5h0M237.5 225.1h0M279.4 224.3h0M72.7 217.2h0M223.7 187.9h0M195.2 246.2h0M291.3 259.5h0M224.8 221.5h0M138.4 213.5h0M192.1 185.6h0M206.6 236.3h0M37.4 207.3h0M159.1 222.2h0M174.4 197.1h0M288.0 207.3h0M201.4 226.8h0M203.8 216.6h0M208.9 244.1h0M148.0 186.7h0M198.1 246.3h0M60.8 224.1h0M170.7 179.1h0M189.8 179.2h0M237.2 231.6h0M229.4 206.7h0M251.1 225.5h0M57.3 198.1h0M223.3 190.3h0M145.6 257.3h0M227.0 262.7h0M212.6 210.5h0M158.9 223.2h0M114.5 188.2h0M223.3 242.0h0M195.3 220.9h0M178.8 189.1h0M207.7 260.8h0M123.5 180.9h0M178.5 185.8h0M176.3 227.5h0M118.8 220.6h0M197.6 246.0h0M170.7 251.0h0M254.3 267.4h0M36.0 221.7h0M98.0 218.4h0M239.7 249.7h0M124.8 200.5h0M285.9 224.5h0M149.0 184.4h0M194.3 264.2h0M201.5 241.9h0M169.3 260.0h0M125.0 253.6h0M264.4 187.4h0M232.2 196.1h0M67.4 225.1h0M249.1 213.0h0M181.4 249.5h0M155.1 185.4h0M92.7 233.3h0M90.7 240.1h0M243.3 222.5h0M219.7 207.9h0M245.8 230.0h0M261.4 184.1h0M189.7 186.3h0M289.4 209.9h0M252.7 268.5h0M239.4 220.0h0M255.9 243.3h0M56.1 231.2h0M88.6 210.4h0M137.3 208.6h0M260.8 208.0h0M289.5 190.4h0M179.8 223.5h0M88.1 210.9h0M246.6 231.0h0M280.1 207.5h0M236.6 216.5h0M231.3 201.1h0M190.7 260.1h0M50.4 222.2h0M241.0 238.8h0M80.0 199.6h0M69.7 203.3h0M119.9 222.0h0M291.9 237.8h0M80.0 208.7h0M160.6 209.3h0M106.6 181.7h0M235.3 264.4h0M211.2 224.3h0M146.6 243.0h0M277.3 222.0h0M237.9 252.1h0M252.1 226.4h0M115.1 224.7h0M253.2 237.7h0M262.1 216.2h0M116.8 229.4h0M275.4 216.3h0M113.7 251.7h0M112.1 222.3h0M231.0 266.2h0M178.9 236.5h0M101.4 228.8h0M144.6 260.2h0M241.4 259.9h0M204.0 254.0h0M121.1 232.0h0M155.1 224.8h0M246.5 220.0h0M161.7 224.8h0M272.1 249.7h0M193.5 231.6h0M187.2 244.7h0M271.8 222.9h0M197.9 258.8h0M127.1 235.3h0M298.1 238.7h0M173.4 263.8h0M277.9 231.3h0M120.3 249.6h0M246.8 269.6h0M230.3 226.5h0M200.6 225.1h0M186.4 237.8h0M282.0 268.4h0M284.9 238.5h0M292.7 214.7h0M283.8 249.8h0M273.9 233.9h0M298.1 206.8h0M268.8 262.4h0M171.7 263.0h0M138.8 257.7h0M191.0 233.8h0M244.8 211.2h0M295.5 220.5h0M171.9 234.0h0M213.2 267.3h0M288.8 249.3h0M109.1 241.3h0M214.6 236.3h0M296.4 234.0h0M167.0 234.3h0M216.1 243.0h0M182.3 222.5h0M159.7 239.6h0M210.4 219.5h0M106.0 216.1h0M165.9 259.8h0M277.3 221.5h0M255.0 235.9h0M205.2 242.3h0M231.8 253.2h0M263.1 226.1h0M108.7 243.7h0M229.1 220.7h0M104.0 239.1h0M223.2 224.5h0M186.4 221.3h0M133.1 217.7h0M262.2 236.7h0M241.7 229.3h0M260.4 246.7h0M229.1 232.5h0M210.2 218.3h0M294.6 252.1h0M204.2 249.7h0M115.5 228.4h0M97.6 236.1h0M273.1 259.8h0M242.4 226.1h0M142.6 254.3h0M156.2 255.6h0M166.7 258.2h0M212.5 262.1h0M297.1 231.5h0M297.2 205.7h0M274.8 207.1h0M206.8 232.2h0M252.8 227.1h0M207.8 257.9h0M253.1 220.3h0M148.1 251.6h0M251.7 249.6h0M185.9 256.3h0M232.1 219.4h0M204.7 246.9h0M244.4 218.8h0M158.7 229.0h0M114.7 229.4h0M244.6 245.4h0M130.5 256.2h0M118.9 257.6h0M146.6 241.0h0M287.4 224.8h0M248.7 253.7h0M210.0 222.8h0M97.7 228.1h0M160.8 218.9h0M279.4 224.1h0M131.8 222.5h0M213.6 236.2h0M157.5 241.8h0M253.7 255.7h0M257.2 244.3h0M192.5 228.1h0M284.7 267.1h0M143.8 242.5h0M266.0 229.5h0M197.2 251.6h0M134.4 248.9h0M133.5 254.8h0M103.4 224.2h0M203.3 217.2h0M257.9 211.7h0M222.7 265.3h0M120.9 220.2h0M251.8 237.9h0M286.1 228.7h0M277.7 219.0h0M253.7 257.5h0M291.5 212.2h0M255.6 255.6h0M160.1 252.9h0M179.2 257.6h0M173.8 261.2h0M191.7 261.9h0M156.7 243.2h0M100.2 239.2h0M233.8 234.8h0M291.1 210.8h0M239.3 255.9h0M284.4 235.7h0M217.0 262.0h0M284.3 223.9h0M279.0 251.5h0M95.7 234.3h0M267.4 256.2h0M196.1 239.4h0M124.8 240.9h0M259.4 214.2h0M274.6 234.4h0M149.6 221.7h0M189.3 250.3h0M211.8 267.3h0M199.9 240.9h0M297.7 220.1h0M98.4 228.0h0M283.8 238.9h0M275.2 253.8h0M244.6 258.1h0M156.8 256.0h0M137.2 243.8h0M217.0 259.3h0M129.4 229.1h0M264.0 261.3h0M295.5 213.3h0M243.4 257.2h0M227.9 259.6h0M200.8 244.4h0M283.8 250.4h0M229.5 246.2h0M196.3 258.0h0M182.3 234.5h0M183.6 244.3h0M169.2 232.4h0M182.5 231.0h0M294.2 211.3h0M176.0 236.4h0M216.3 230.7h0M153.6 237.6h0M278.0 263.6h0M144.4 222.8h0M238.1 260.8h0M191.3 232.1h0M272.0 265.1h0M118.4 246.6h0M297.0 255.1h0M231.5 238.1h0M215.7 234.5h0M244.7 213.5h0M141.9 229.0h0M212.4 227.7h0M185.1 261.9h0M132.3 255.4h0M290.1 227.9h0M179.1 248.6h0M225.8 229.0h0M209.9 217.0h0M157.8 248.3h0M279.6 241.1h0M147.2 246.0h0M151.5 259.8h0M127.0 223.3h0M128.9 218.5h0M122.0 220.0h0M163.1 232.7h0M250.7 233.3h0M192.4 232.8h0M253.7 268.2h0M202.7 252.7h0M173.2 224.0h0M168.7 253.9h0M189.5 241.9h0M137.4 217.4h0M163.9 252.7h0M240.7 235.3h0M109.1 223.2h0M207.8 227.9h0M146.0 225.4h0M152.4 229.2h0M257.1 260.2h0M238.1 266.9h0M229.1 212.9h0M104.1 216.5h0M147.9 242.0h0M263.5 246.0h0M183.1 221.9h0M296.3 222.9h0M268.8 213.2h0M228.9 229.9h0M277.2 225.8h0M115.7 218.9h0M226.8 252.7h0M152.8 224.1h0M103.9 247.9h0M166.7 218.1h0M145.8 216.5h0M224.0 251.0h0M199.7 217.6h0M274.2 212.8h0M130.7 221.9h0M200.3 238.3h0M208.5 255.9h0M278.3 237.8h0M98.8 227.3h0M124.3 247.2h0M255.3 214.0h0M236.3 212.6h0M235.7 260.6h0M230.1 227.3h0M122.4 216.5h0M173.9 243.6h0M208.2 233.3h0M259.0 211.1h0M272.2 269.5h0M251.9 242.5h0M256.4 245.1h0M119.1 222.9h0M161.0 233.5h0M239.7 260.7h0M258.2 266.7h0M251.1 253.5h0M171.2 229.0h0M189.4 261.8h0M164.6 227.5h0M200.2 257.2h0M276.0 229.7h0M237.2 233.3h0M271.6 258.2h0M208.8 230.4h0M259.2 226.4h0M112.4 218.7h0M292.7 207.7h0M261.0 242.0h0M208.6 242.8h0M179.1 244.0h0M232.9 249.9h0M260.4 253.5h0M285.8 208.6h0M97.2 221.6h0M254.7 215.7h0M203.9 258.9h0M127.0 241.9h0M279.7 257.3h0M176.6 238.5h0M255.4 252.6h0M157.4 256.2h0M194.8 260.9h0M235.4 236.5h0M210.4 261.3h0M241.4 239.3h0M269.2 215.4h0M164.2 255.0h0M263.8 231.1h0M298.8 250.4h0M110.7 244.9h0M161.0 223.3h0M281.3 263.7h0M209.5 236.1h0M158.2 247.2h0M291.0 255.9h0M264.3 210.3h0M120.4 229.2h0M120.9 234.6h0M291.5 220.5h0M203.3 226.0h0M233.1 244.3h0M217.5 226.0h0M245.6 253.2h0M241.4 238.0h0M190.1 225.0h0M103.2 237.6h0M221.3 218.0h0M271.3 266.5h0M270.0 262.1h0M195.1 217.3h0M150.6 256.6h0" stroke="#262626" stroke-width="1.3" stroke-linecap="round" stroke-opacity="0.85" fill="none"/>
<path d="M155.7 235.6h0M184.4 271.2h0M78.6 220.2h0M286.0 222.1h0M191.2 189.0h0M129.0 204.2h0M85.8 217.5h0M50.8 225.7h0M276.3 175.5h0M95.0 197.7h0M263.4 213.4h0M257.2 259.8h0M201.9 233.4h0M79.6 207.0h0M192.0 219.6h0M207.6 248.1h0M78.5 214.7h0M71.1 212.1h0M272.0 190.9h0M115.3 242.6h0M290.1 255.0h0M197.2 239.2h0M98.2 193.7h0M185.3 265.0h0M87.9 248.3h0M35.3 182.5h0M153.6 185.6h0M211.9 209.2h0M216.3 259.5h0M179.9 175.9h0M196.5 245.9h0M100.8 200.9h0M27.1 236.1h0M162.2 206.5h0M103.3 220.2h0M41.4 217.7h0M145.9 248.9h0M104.2 183.7h0M249.3 266.6h0M274.8 212.3h0M277.7 259.5h0M222.1 253.6h0M254.5 179.0h0M255.7 264.7h0M181.4 262.5h0M151.4 213.0h0M47.2 272.7h0M182.4 214.9h0M136.7 208.7h0M169.6 223.0h0M275.0 229.2h0M262.9 206.4h0M52.7 238.7h0M91.0 213.4h0M146.8 174.1h0M109.7 249.0h0M79.7 193.7h0M61.9 235.4h0M69.6 233.3h0M228.3 248.5h0M57.8 212.2h0M113.8 238.6h0M171.7 242.5h0M258.0 257.9h0M207.4 203.8h0M154.8 206.6h0M112.5 226.8h0M123.3 236.1h0M91.0 202.9h0M57.5 245.8h0M53.6 190.4h0M136.9 186.2h0M264.1 253.4h0M294.3 167.6h0M63.5 236.1h0M292.2 206.3h0M55.2 205.1h0M28.1 226.6h0M20.7 215.7h0M177.9 217.2h0M284.6 266.1h0M243.6 257.3h0M205.1 231.4h0M120.2 195.3h0M240.7 257.6h0M230.7 194.5h0M90.8 273.7h0M231.7 231.8h0M181.1 214.3h0M36.3 256.2h0M134.8 231.6h0M231.0 217.7h0M280.7 219.9h0M273.9 236.5h0M234.6 238.7h0M276.0 259.7h0M117.6 229.5h0M181.9 182.5h0M51.7 232.9h0M93.4 238.5h0M286.3 239.1h0M186.4 199.0h0M81.8 279.7h0M158.2 177.2h0M205.0 245.1h0M298.7 244.4h0M292.0 200.6h0M69.8 184.5h0M291.3 211.6h0M53.9 206.7h0M243.3 182.2h0M168.6 164.8h0M133.6 191.4h0M63.5 171.3h0M133.8 200.0h0M99.5 201.9h0M198.9 181.8h0M159.1 183.2h0M298.3 273.4h0M205.2 222.5h0M178.7 280.2h0M220.7 204.8h0M195.7 181.6h0M205.7 163.4h0M261.9 233.6h0M108.8 207.8h0M203.6 185.3h0M95.2 211.2h0M248.4 220.9h0M99.9 206.1h0M238.5 241.6h0M28.7 206.3h0M290.0 226.0h0M89.3 221.5h0M270.7 264.9h0M134.9 186.1h0M119.6 177.3h0M138.5 210.7h0M231.8 203.0h0M78.7 233.3h0M197.9 235.2h0M131.8 206.6h0M259.4 192.2h0M246.0 195.3h0M150.0 281.4h0M121.3 190.3h0M236.6 264.1h0M123.3 259.0h0M72.6 163.3h0M158.3 197.7h0M260.7 188.1h0M114.8 203.3h0M127.6 182.4h0M252.3 208.0h0M197.9 179.3h0M207.8 228.5h0M292.2 261.7h0M41.9 236.4h0M269.2 215.8h0M210.7 226.9h0M18.6 203.4h0M298.0 215.8h0M279.3 229.3h0M261.0 180.2h0M229.5 252.4h0M163.1 181.5h0M147.8 223.8h0M251.9 229.3h0M192.6 178.1h0M40.2 212.4h0M166.9 215.8h0M237.5 199.8h0M77.2 231.7h0M299.8 188.1h0M230.5 212.4h0M137.8 255.2h0M269.5 211.9h0M173.3 218.4h0M82.1 229.9h0M34.2 207.3h0M49.0 199.0h0M222.2 187.5h0M139.1 202.0h0M108.6 178.4h0M63.1 210.4h0M131.3 177.7h0M137.2 190.4h0M104.3 240.6h0M161.6 214.0h0M271.2 191.6h0M276.5 199.3h0M42.7 199.2h0M75.5 172.8h0M80.9 263.8h0M129.4 234.7h0M44.3 224.1h0M269.8 195.9h0M41.3 220.1h0M119.6 246.5h0M199.6 211.3h0M160.5 185.6h0M290.8 256.3h0M226.4 248.8h0M218.9 189.8h0M245.8 246.5h0M246.7 181.5h0M216.4 231.8h0M193.2 234.9h0M107.7 247.8h0M198.2 242.5h0M292.8 183.9h0M257.4 256.6h0M125.6 240.5h0M104.7 235.8h0M253.6 246.7h0M253.7 233.3h0M191.0 170.9h0M184.5 176.9h0M270.6 192.7h0M120.9 198.5h0M189.8 202.8h0M280.2 231.0h0M175.2 282.1h0M144.4 229.3h0M194.9 227.0h0M215.4 226.5h0M105.4 233.4h0M244.0 184.0h0M235.5 275.3h0M89.5 222.2h0M169.9 274.4h0M99.0 247.1h0M235.2 239.0h0M296.6 202.3h0M278.1 200.6h0" stroke="#484848" stroke-width="0.9" stroke-linecap="round" stroke-opacity="0.8" fill="none"/>
<path d="M295.0 221.3l2.4 0.0M169.2 249.1l3.4 1.2M165.2 232.4l3.3 2.1M216.7 262.1l2.8 0.6M245.1 271.1l-1.7 0.3M150.2 216.5l-2.1 0.4M211.0 235.6l-0.9 3.7M287.5 265.0l2.5 2.6M103.6 238.7l-2.1 0.4M172.7 248.2l2.4 2.2M229.2 220.4l-1.6 0.4M237.9 234.9l1.5 0.7M190.8 260.3l-3.8 0.4M205.4 230.7l-0.2 3.9M244.6 253.2l-2.2 1.2M210.7 263.4l3.0 2.1M104.9 245.6l-0.4 1.8M282.6 240.0l2.1 1.4M217.1 239.5l1.7 0.0M241.2 222.5l2.4 2.5M270.6 265.3l1.3 0.8M249.3 249.1l0.6 1.4M185.4 228.5l-1.1 3.8M141.5 219.3l-1.0 1.4M144.1 240.0l-2.3 0.1M162.5 242.1l2.2 1.2M238.7 233.5l-1.6 1.2M120.1 250.7l0.6 3.8M120.8 257.5l-1.2 2.1M125.4 249.9l-1.9 1.8M193.6 254.1l-0.9 2.4M136.8 241.4l-0.6 3.7M297.0 246.7l1.1 1.8M224.8 257.1l2.3 2.3M297.8 237.3l-2.5 0.5M229.1 264.4l1.9 1.4M294.9 218.7l1.5 2.2M247.5 250.9l-3.1 0.7M100.3 219.1l2.6 0.3M105.4 245.0l-0.8 1.8M269.5 238.6l-2.4 0.3M222.8 245.9l2.3 2.5M100.8 229.2l2.0 3.1M199.1 217.1l1.8 2.4M260.1 221.2l-1.9 1.6M203.8 239.0l0.8 3.9M282.0 267.3l-2.2 2.4M128.0 217.0l-2.7 1.6M224.9 232.8l2.5 2.8M205.3 216.1l1.1 2.1M278.8 261.4l2.5 0.0M122.1 256.4l-2.9 2.0M256.8 221.9l1.7 0.1M266.8 262.3l-0.1 2.1M269.7 221.9l0.8 1.3M294.6 238.7l-2.6 2.3M253.4 267.8l-1.7 0.2M248.6 227.9l1.2 2.0M295.7 218.4l0.4 1.8M297.5 243.3l-1.7 2.3M251.9 234.2l0.9 3.2M239.1 265.6l2.0 3.0M246.0 247.7l0.8 2.8M115.2 220.5l1.0 1.5" stroke="#303030" stroke-width="0.8" fill="none" opacity="0.8"/>
<path d="M12,220 C20,236 40,236 60,242 C90,250 120,258 160,262 C190,268 220,270 260,272 C280,270 292,266 300,250" fill="none" stroke="#2a2a2a" stroke-width="0.8" opacity="0.8" stroke-dasharray="2,1"/>
<path d="M12,220 C16,214 22,210 40,200" fill="none" stroke="#2a2a2a" stroke-width="0.7" opacity="0.8"/>
<g fill="none" stroke="#4a4a4a" stroke-width="0.8" opacity="0.9"><path d="M236,180 C240,190 238,200 244,206 C250,198 248,188 254,182"/><path d="M256,184 C260,194 258,204 264,210 C270,202 268,192 274,186"/><path d="M276,190 C280,198 280,206 286,212"/><path d="M232,214 C244,220 262,222 290,220"/></g>
<path d="M40.7,200.5 L44.1,196.2 L73.9,183.4 L108.0,177.0 L137.9,174.9 L189.0,170.7 L197.6,172.8 L206.0,181.3 L223.0,177.9 L229.5,183.4 L227.4,206.9 L223.1,215.4 L150.7,214.6 L129.4,224.0 L112.3,238.9 L99.5,247.4 L61.2,241.0 L46.2,230.3 L40.7,215.4 Z" fill="#62628f" stroke="none" stroke-width="1"/>
<clipPath id="regclip"><path d="M40.7,200.5 L44.1,196.2 L73.9,183.4 L108.0,177.0 L137.9,174.9 L189.0,170.7 L197.6,172.8 L206.0,181.3 L223.0,177.9 L229.5,183.4 L227.4,206.9 L223.1,215.4 L150.7,214.6 L129.4,224.0 L112.3,238.9 L99.5,247.4 L61.2,241.0 L46.2,230.3 L40.7,215.4 Z"/></clipPath>
<g clip-path="url(#regclip)"><rect x="38" y="168" width="195" height="82" filter="url(#texd)" opacity="0.3"/></g>
<path d="M49.3 225.9h0M79.1 226.3h0M83.2 214.0h0M115.0 191.0h0M68.2 237.5h0M72.7 190.6h0M97.4 212.1h0M82.2 221.3h0M89.2 199.8h0M89.4 189.0h0M101.6 202.3h0M108.4 195.3h0M180.3 208.4h0M211.1 205.7h0M79.0 234.0h0M135.2 213.8h0M62.3 194.9h0M54.4 230.0h0M72.6 197.0h0M78.1 237.1h0M89.4 214.8h0M167.9 188.2h0M112.5 177.8h0M191.4 184.4h0M65.8 191.7h0M183.0 186.4h0M141.6 183.2h0M85.9 181.5h0M54.6 197.3h0M152.4 211.3h0M55.3 230.3h0M85.7 216.0h0M140.6 196.5h0M219.8 200.9h0M120.4 212.1h0M186.2 212.0h0M184.4 186.9h0M148.0 204.3h0M83.9 231.0h0M82.0 225.4h0M133.0 203.3h0M192.0 190.6h0M167.1 208.7h0M218.7 204.9h0M129.3 211.5h0M132.0 175.5h0M72.6 204.6h0M106.1 209.0h0M140.7 200.3h0M93.4 197.4h0M100.7 227.9h0M79.2 198.8h0M115.9 200.1h0M223.5 204.3h0M197.4 196.1h0M141.5 215.4h0M52.7 228.1h0M111.0 220.2h0M93.9 241.6h0M110.1 191.5h0M209.8 187.4h0M91.5 208.0h0M80.0 232.1h0M54.3 202.3h0M190.7 179.1h0M209.1 197.8h0M194.7 206.8h0M209.4 207.3h0M89.0 181.8h0M71.2 238.2h0M68.7 207.5h0M129.0 178.4h0M90.1 241.9h0M177.5 209.7h0M71.3 188.7h0M66.0 209.9h0M150.7 205.9h0M129.3 181.0h0M176.4 211.9h0M98.7 235.0h0M113.8 205.1h0M88.8 228.0h0M211.9 180.8h0M208.9 205.2h0M59.9 205.6h0M75.3 191.8h0M156.1 177.4h0M182.6 203.0h0M215.8 187.4h0M206.7 187.8h0M54.5 200.3h0M224.7 197.7h0M176.2 172.7h0M138.0 212.1h0M58.6 215.2h0M124.8 195.5h0M63.6 231.8h0M184.8 206.9h0M64.6 217.6h0M224.8 190.4h0M90.2 237.6h0M61.2 231.8h0M210.4 213.9h0M186.5 210.3h0M164.1 176.2h0M60.3 189.6h0M191.3 212.6h0M150.4 188.6h0M110.0 203.9h0M161.3 184.1h0M150.6 195.1h0M43.8 209.6h0M99.7 216.7h0M195.9 206.4h0M159.7 192.5h0M88.6 209.8h0M141.2 187.4h0M185.4 209.0h0M107.6 189.8h0M218.3 189.3h0M53.5 219.3h0M169.0 196.3h0M123.9 223.3h0M70.4 198.5h0M151.2 178.1h0M81.3 190.0h0M46.0 219.9h0M129.1 210.4h0M93.4 206.2h0M218.0 208.0h0M77.6 218.6h0M136.8 207.1h0M164.0 209.0h0M46.8 205.2h0M211.9 212.5h0M71.3 225.1h0" stroke="#34346e" stroke-width="1.1" stroke-linecap="round" stroke-opacity="0.8" fill="none"/>
<path d="M118,198 C124,194 134,196 140,200 M150,190 C160,186 170,190 176,186 M100,232 C110,226 120,224 128,222" fill="none" stroke="#2a2a78" stroke-width="1" opacity="0.8"/>
<path d="M40.7,200.5 L44.1,196.2 L73.9,183.4 L108.0,177.0 L137.9,174.9 L189.0,170.7 L197.6,172.8 L206.0,181.3 L223.0,177.9 L229.5,183.4 L227.4,206.9 L223.1,215.4 L150.7,214.6 L129.4,224.0 L112.3,238.9 L99.5,247.4 L61.2,241.0 L46.2,230.3 L40.7,215.4 Z" fill="none" stroke="#ffffff" stroke-width="0.9" stroke-dasharray="3,2"/>
<line x1="64.6" y1="86.4" x2="66.3" y2="213.1" stroke="#bc6a3c" stroke-width="0.6"/>
<line x1="76.0" y1="59.9" x2="79.5" y2="188.4" stroke="#bc6a3c" stroke-width="0.6"/>
<line x1="108.9" y1="54.4" x2="110.2" y2="181.1" stroke="#bc6a3c" stroke-width="0.6"/>
<line x1="127.2" y1="50.1" x2="127.4" y2="177.7" stroke="#bc6a3c" stroke-width="0.6"/>
<line x1="138.7" y1="73.6" x2="138.7" y2="200.3" stroke="#bc6a3c" stroke-width="0.6"/>
<line x1="175.0" y1="67.6" x2="174.3" y2="195.6" stroke="#bc6a3c" stroke-width="0.6"/>
<circle cx="66.3" cy="216.7" r="3.70" fill="none" stroke="#ffffff" stroke-width="0.7"/>
<circle cx="79.5" cy="192.0" r="3.70" fill="none" stroke="#ffffff" stroke-width="0.7"/>
<circle cx="110.2" cy="184.7" r="3.70" fill="none" stroke="#ffffff" stroke-width="0.7"/>
<circle cx="127.4" cy="181.3" r="3.70" fill="none" stroke="#ffffff" stroke-width="0.7"/>
<circle cx="138.7" cy="203.9" r="3.70" fill="none" stroke="#ffffff" stroke-width="0.7"/>
<circle cx="174.3" cy="199.2" r="3.70" fill="none" stroke="#ffffff" stroke-width="0.7"/>
<circle cx="64.6" cy="82.8" r="3.60" fill="#aab0a0" stroke="none" stroke-width="1" opacity="0.9"/>
<circle cx="64.6" cy="82.8" r="0.80" fill="#d88070" stroke="none" stroke-width="1"/>
<circle cx="76.0" cy="55.5" r="4.40" fill="#aab0a0" stroke="none" stroke-width="1" opacity="0.9"/>
<circle cx="76.0" cy="55.5" r="0.80" fill="#d88070" stroke="none" stroke-width="1"/>
<circle cx="108.9" cy="50.0" r="4.40" fill="#aab0a0" stroke="none" stroke-width="1" opacity="0.9"/>
<circle cx="108.9" cy="50.0" r="0.80" fill="#d88070" stroke="none" stroke-width="1"/>
<circle cx="127.2" cy="45.7" r="4.40" fill="#aab0a0" stroke="none" stroke-width="1" opacity="0.9"/>
<circle cx="127.2" cy="45.7" r="0.80" fill="#d88070" stroke="none" stroke-width="1"/>
<circle cx="138.7" cy="70.0" r="3.60" fill="#aab0a0" stroke="none" stroke-width="1" opacity="0.9"/>
<circle cx="138.7" cy="70.0" r="0.80" fill="#d88070" stroke="none" stroke-width="1"/>
<circle cx="175.0" cy="64.0" r="3.60" fill="#aab0a0" stroke="none" stroke-width="1" opacity="0.9"/>
<circle cx="175.0" cy="64.0" r="0.80" fill="#d88070" stroke="none" stroke-width="1"/>
<text x="15.9" y="32.6" font-size="13" font-weight="bold" fill="#fff">IHC</text>
<text x="16.4" y="276.8" font-size="13" font-weight="bold" fill="#fff">MALDI MSI</text>
<line x1="208.2" y1="276.0" x2="246.6" y2="276.0" stroke="#fff" stroke-width="1.2"/>
<text x="227.4" y="273.2" font-size="5" text-anchor="middle" fill="#fff">2 mm</text>
<text x="313.0" y="11.2" font-size="14.5" font-weight="bold" fill="#000">B</text>
<text x="349.8" y="21.5" font-size="8.2" font-weight="bold" fill="#000">IHC GeoMX</text>
<text x="543.0" y="21.3" font-size="8.2" font-weight="bold" text-anchor="middle" fill="#000">MALDI MSI</text>
<text transform="translate(326.3,66.5) rotate(-90)" font-size="8.2" font-weight="bold" text-anchor="middle">Young plaque</text>
<text transform="translate(326.3,153.5) rotate(-90)" font-size="8.2" font-weight="bold" text-anchor="middle">Old plaque</text>
<defs><clipPath id="clt00"><rect x="329.6" y="24.3" width="84.4" height="84.4"/></clipPath><clipPath id="clt01"><rect x="415.6" y="24.3" width="84.3" height="84.4"/></clipPath><clipPath id="clt02"><rect x="501.2" y="24.3" width="84.3" height="84.4"/></clipPath><clipPath id="clt03"><rect x="587.3" y="24.3" width="84.3" height="84.4"/></clipPath><clipPath id="clt10"><rect x="329.6" y="110.8" width="84.4" height="85.0"/></clipPath><clipPath id="clt11"><rect x="415.6" y="110.8" width="84.3" height="85.0"/></clipPath><clipPath id="clt12"><rect x="501.2" y="110.8" width="84.3" height="85.0"/></clipPath><clipPath id="clt13"><rect x="587.3" y="110.8" width="84.3" height="85.0"/></clipPath></defs>
<rect x="329.6" y="24.3" width="84.4" height="84.4" fill="#000" stroke="none" stroke-width="1"/>
<rect x="415.6" y="24.3" width="84.3" height="84.4" fill="#000" stroke="none" stroke-width="1"/>
<rect x="501.2" y="24.3" width="84.3" height="84.4" fill="#000" stroke="none" stroke-width="1"/>
<rect x="587.3" y="24.3" width="84.3" height="84.4" fill="#000" stroke="none" stroke-width="1"/>
<rect x="329.6" y="110.8" width="84.4" height="85.0" fill="#000" stroke="none" stroke-width="1"/>
<rect x="415.6" y="110.8" width="84.3" height="85.0" fill="#000" stroke="none" stroke-width="1"/>
<rect x="501.2" y="110.8" width="84.3" height="85.0" fill="#000" stroke="none" stroke-width="1"/>
<rect x="587.3" y="110.8" width="84.3" height="85.0" fill="#000" stroke="none" stroke-width="1"/>
<g clip-path="url(#clt00)">
<rect x="329.6" y="24.3" width="84.4" height="84.4" fill="#120d04" stroke="none" stroke-width="1"/>
<path d="M335.6,24.3 L414.0,84.3 L414.0,24.3 Z" fill="#2a2408"/>
<path d="M331.6,24.3 L414.0,88.3" stroke="#6a6014" stroke-width="5" fill="none" opacity="0.6" filter="url(#blur1)"/>
<path d="M367.8 71.5h0M407.6 63.6h0M372.5 73.9h0M345.2 67.5h0M382.8 91.2h0M337.5 49.9h0M337.3 92.6h0M388.1 27.8h0M412.5 105.7h0M384.8 76.3h0M342.9 25.6h0M374.2 29.3h0M345.7 44.7h0M332.1 63.5h0M366.8 95.4h0M373.4 78.3h0M371.8 80.2h0M368.2 47.8h0M413.8 108.3h0M400.5 84.0h0M356.2 43.7h0M354.0 30.2h0M394.3 58.1h0M401.1 56.9h0M410.5 95.8h0M329.6 42.0h0M406.4 64.0h0M412.3 57.8h0M335.8 77.4h0M395.3 47.1h0M337.0 52.4h0M411.0 88.3h0M339.6 45.1h0M338.1 29.4h0M396.9 39.3h0M376.8 62.1h0M345.7 86.1h0M340.7 78.6h0M339.4 59.8h0M347.6 47.1h0M411.5 92.1h0M355.3 99.0h0M347.4 57.6h0M401.7 78.5h0M338.1 107.8h0M347.6 46.1h0M394.8 52.1h0M354.6 30.5h0M337.2 73.5h0M350.1 75.0h0M361.0 62.6h0M410.6 65.1h0M378.1 97.4h0M345.0 37.3h0M406.3 93.3h0M350.7 40.3h0M392.0 103.7h0M346.2 104.5h0M404.1 75.2h0M365.2 33.1h0M332.9 105.6h0M349.7 83.8h0M351.3 93.8h0M379.9 49.1h0M344.4 85.1h0M335.4 43.6h0M376.8 96.2h0M381.4 48.0h0M407.0 41.5h0M331.0 47.0h0M367.2 29.4h0M344.5 55.4h0M377.9 35.4h0M360.2 99.5h0M412.4 79.7h0M387.9 73.6h0M341.4 27.3h0M331.1 101.1h0M388.8 105.6h0M331.4 78.0h0M370.3 86.0h0M356.5 108.6h0M336.0 70.4h0M391.8 100.3h0M391.8 83.7h0M396.6 101.5h0M359.3 82.1h0M405.6 97.8h0M364.8 91.0h0M402.5 72.6h0M382.3 56.6h0M378.8 75.7h0M336.4 78.3h0M413.4 98.6h0M391.1 57.1h0M391.6 73.3h0M366.8 95.1h0M336.7 87.6h0M332.1 75.0h0M370.2 43.7h0M388.5 66.3h0M381.5 102.0h0M351.2 25.3h0M355.0 81.5h0M346.7 38.6h0M406.0 80.0h0M366.9 99.6h0M357.2 80.5h0M346.4 60.7h0M397.6 101.5h0M403.9 56.7h0M378.8 51.0h0M341.1 66.2h0M400.3 95.9h0M389.6 104.5h0M353.0 38.6h0M367.6 47.5h0M347.7 59.2h0M382.4 66.0h0M356.2 95.1h0M412.5 62.5h0M335.9 27.0h0M403.3 27.8h0M389.4 72.5h0M355.7 91.1h0M331.2 35.8h0M368.0 26.4h0M399.6 44.3h0M341.5 28.3h0M382.7 62.0h0M382.8 79.6h0M397.7 105.2h0M387.4 41.1h0M369.7 39.4h0M330.5 64.2h0M389.9 39.4h0M352.6 53.5h0M388.5 68.2h0M381.5 88.1h0M362.8 91.1h0M406.1 31.7h0M408.3 85.3h0M340.6 62.6h0M382.4 101.1h0M361.4 72.3h0M403.8 91.5h0M409.3 63.4h0M384.6 41.6h0M390.5 93.4h0M383.8 84.9h0M347.6 100.3h0M412.4 106.8h0M374.9 91.0h0M356.6 101.1h0M401.8 53.7h0M336.6 61.5h0M376.0 89.1h0M370.7 26.7h0M397.9 29.7h0M397.1 38.9h0M357.9 90.8h0M341.5 36.8h0M373.2 85.4h0M400.5 82.5h0M409.4 65.9h0M409.7 31.6h0M348.3 68.8h0M354.1 85.8h0M383.5 68.4h0M400.8 71.6h0M355.9 56.5h0M400.9 100.3h0M347.2 96.1h0M411.3 68.5h0M378.0 41.3h0M374.8 66.8h0M380.7 26.6h0M411.4 67.9h0M363.4 91.9h0M377.1 65.7h0M387.9 29.9h0M375.1 59.2h0M410.4 102.2h0M352.3 64.2h0M340.3 60.9h0M398.4 100.3h0M369.8 51.1h0M345.8 76.5h0M407.7 35.2h0M395.4 26.2h0M346.0 43.5h0M387.6 51.5h0M359.6 76.6h0M338.5 86.0h0M340.0 67.4h0M350.7 41.0h0M374.4 61.2h0M361.3 59.2h0M374.3 37.8h0M346.8 77.6h0M383.5 69.0h0M401.4 75.9h0M401.9 43.9h0M392.1 92.7h0M405.8 51.0h0M356.2 102.2h0M348.0 108.6h0M404.5 35.6h0M349.8 85.6h0M351.5 32.5h0M399.8 59.9h0M396.3 34.9h0M363.6 82.1h0M331.1 41.3h0M387.2 101.2h0M411.3 34.0h0M372.3 88.3h0M372.0 82.2h0M345.6 30.3h0M338.6 27.5h0M376.2 67.8h0M377.6 36.7h0M345.2 41.5h0M400.5 107.9h0M407.8 32.3h0M334.8 104.6h0M368.6 88.8h0M357.2 63.7h0M373.1 60.6h0M380.3 25.4h0" stroke="#1c1cf0" stroke-width="1.9" stroke-linecap="round" fill="none"/>
<path d="M371.7 99.0h0M340.5 74.6h0M374.0 71.6h0M341.3 56.6h0M360.4 47.3h0M383.2 96.3h0M371.9 100.0h0M367.4 71.5h0M365.6 77.8h0M388.6 96.5h0M345.1 103.2h0M374.3 94.8h0M378.5 71.6h0M383.4 101.2h0M371.3 94.2h0M375.5 71.6h0M373.0 50.7h0M350.1 75.6h0M330.2 68.5h0M367.9 85.2h0M343.5 105.2h0M369.6 67.4h0M369.2 81.8h0M361.6 70.6h0M389.6 86.4h0M371.7 93.8h0M388.4 47.7h0M366.5 92.4h0M345.0 71.4h0M332.6 58.5h0M352.1 52.4h0M344.7 102.8h0M362.6 78.0h0M387.6 81.7h0M389.3 86.1h0M378.2 51.1h0M365.5 93.7h0M332.3 104.3h0M339.2 75.7h0M339.7 77.2h0M366.3 50.0h0M386.3 72.6h0M361.2 83.6h0M351.5 64.1h0M368.9 81.3h0M346.6 91.0h0M347.4 47.2h0M344.3 49.0h0M339.0 93.4h0M353.0 102.3h0M374.5 49.4h0M388.9 105.2h0M334.0 102.8h0M355.4 76.1h0M388.0 61.5h0M361.0 104.8h0M373.0 75.5h0M388.3 97.3h0M365.8 53.5h0M367.1 74.7h0M341.8 49.5h0M361.3 54.1h0M356.2 88.0h0M356.9 62.7h0M364.5 72.5h0M376.3 79.4h0M389.5 105.7h0M373.7 61.2h0M336.4 102.0h0M376.7 85.3h0M363.6 61.1h0M371.7 68.4h0M369.4 70.1h0M373.4 59.0h0M360.8 78.8h0M377.5 76.3h0M355.6 55.8h0M361.4 64.9h0M370.2 56.9h0M368.1 56.1h0M356.8 71.2h0M368.4 70.1h0M363.9 66.3h0M359.9 62.9h0M373.2 75.3h0" stroke="#e01a1a" stroke-width="2.3" stroke-linecap="round" stroke-opacity="0.9" fill="none"/>
<path d="M335.6,24.3 L414.0,84.3" stroke="#f0e828" stroke-width="1.8" fill="none"/>
<path d="M346.2 22.4h0M389.0 55.8h0M396.7 69.3h0M359.5 34.9h0M402.7 68.1h0M417.0 78.5h0M366.8 36.2h0M409.6 77.2h0M370.2 48.5h0M405.4 75.2h0M345.8 23.6h0M375.9 50.3h0M391.2 62.9h0M347.5 21.0h0M353.1 36.1h0M360.7 40.8h0M393.5 66.5h0M349.6 29.2h0M364.2 45.1h0M348.2 26.8h0M398.5 57.1h0M412.7 76.2h0M413.2 71.1h0M362.0 39.3h0M367.3 34.3h0M410.7 71.4h0M357.3 36.2h0M366.7 42.6h0M368.4 45.6h0M381.3 56.1h0M404.7 63.3h0M381.4 55.8h0M349.9 34.3h0M365.1 31.3h0M341.8 19.6h0M380.5 57.8h0M415.1 77.2h0M345.9 21.1h0M378.8 56.6h0M343.5 27.2h0M394.6 66.9h0M386.2 61.2h0M347.0 32.7h0M360.1 32.1h0M353.3 37.0h0M399.9 64.4h0M371.5 41.4h0M396.4 53.9h0M379.9 46.5h0M392.5 65.0h0M413.0 71.6h0M391.5 59.5h0M404.9 72.4h0M411.7 69.1h0M413.5 78.0h0M394.7 62.4h0M401.8 68.0h0M348.8 30.7h0M397.2 64.1h0M348.9 34.1h0M354.3 33.0h0M413.0 80.7h0M340.9 27.0h0M388.1 61.0h0M397.0 70.1h0M372.7 50.3h0M382.2 58.2h0M344.6 30.1h0M350.6 34.7h0M394.4 63.9h0M382.6 59.5h0M359.9 38.1h0M349.3 34.5h0M381.7 53.0h0M402.4 69.6h0M405.5 77.1h0M409.8 75.9h0M414.4 76.7h0M373.6 53.0h0M411.0 79.6h0M401.7 68.0h0M379.0 51.4h0M362.4 33.8h0M354.6 38.1h0M339.9 20.4h0M398.7 71.3h0M393.2 64.9h0M349.2 32.0h0M361.3 43.0h0M383.3 45.6h0M383.4 108.1h0M352.1 69.4h0M342.3 89.3h0M329.7 93.6h0M401.0 93.7h0M336.6 47.1h0M390.1 32.5h0M370.1 63.9h0M410.2 73.8h0M402.0 49.9h0M396.2 59.5h0M407.0 32.0h0M399.3 41.9h0M375.5 68.7h0M342.9 94.5h0M355.9 50.5h0M336.0 50.1h0M369.0 84.7h0M360.0 82.3h0M338.5 57.6h0M368.6 105.9h0M399.6 79.5h0M330.6 56.1h0M389.5 44.3h0M377.2 63.0h0" stroke="#d8d020" stroke-width="1.1" stroke-linecap="round" fill="none"/>
<ellipse cx="369" cy="63" rx="6.5" ry="5.5" fill="#ff2a2a"/><ellipse cx="367.5" cy="62" rx="2.5" ry="2" fill="#ffc0c0"/><ellipse cx="376" cy="69" rx="4" ry="3" fill="#f02020"/><ellipse cx="352" cy="55" rx="3.5" ry="2" fill="#e02020"/><ellipse cx="349" cy="72" rx="2.5" ry="1.6" fill="#e02020"/><ellipse cx="340" cy="84" rx="3" ry="2" fill="#e02020"/><ellipse cx="336" cy="90" rx="2.5" ry="3" fill="#e02020"/><path d="M366,91 l3,-2 l3,2 M369,89 l0,3" stroke="#d8d020" stroke-width="0.9" fill="none"/><circle cx="372" cy="66" r="37" fill="none" stroke="#e0e0e0" stroke-width="0.5"/><rect x="387.1" y="25.3" width="26" height="21.7" rx="2.5" fill="#c0c0c0" opacity="0.85"/><text x="400.4" y="32.1" font-size="6.8" font-weight="bold" fill="#2020ff" text-anchor="middle">SYTO13</text><text x="400.4" y="39.6" font-size="6.8" font-weight="bold" fill="#ff1010" text-anchor="middle">Aβ</text><text x="400.4" y="46.3" font-size="6.8" font-weight="bold" fill="#ffff00" text-anchor="middle">GFAP</text><text x="332.4" y="100.5" font-size="7.2" fill="#fff">50µm</text><line x1="332" y1="104.1" x2="348" y2="104.1" stroke="#fff" stroke-width="1.4"/></g>
<g clip-path="url(#clt10)">
<rect x="329.6" y="110.8" width="84.4" height="85.0" fill="#120d04" stroke="none" stroke-width="1"/>
<path d="M369.7 166.7h0M385.8 122.9h0M330.5 142.7h0M352.7 179.7h0M387.9 161.9h0M376.7 167.0h0M341.9 148.2h0M343.3 187.8h0M334.6 180.4h0M335.9 169.2h0M358.0 145.2h0M400.7 112.4h0M334.7 188.6h0M372.6 118.5h0M412.9 191.3h0M339.1 146.8h0M341.0 137.4h0M382.1 124.7h0M388.4 115.2h0M344.1 180.1h0M363.4 146.4h0M379.9 151.3h0M362.1 113.4h0M390.9 193.0h0M412.0 167.2h0M359.7 141.7h0M387.8 168.1h0M339.2 130.8h0M360.3 154.3h0M398.0 153.3h0M332.0 180.7h0M365.9 154.9h0M348.4 147.1h0M362.4 176.4h0M338.3 157.5h0M344.6 170.0h0M332.7 134.3h0M358.6 164.9h0M334.0 149.8h0M347.2 134.8h0M369.8 192.3h0M370.2 192.1h0M343.7 189.4h0M360.3 126.9h0M392.8 188.3h0M330.2 133.6h0M394.6 139.9h0M350.0 111.5h0M333.0 163.4h0M412.6 195.7h0M372.1 112.8h0M356.8 177.7h0M399.8 165.1h0M349.0 155.6h0M369.9 164.1h0M351.8 191.3h0M405.1 124.6h0M354.2 185.0h0M353.1 191.0h0M373.1 170.0h0M389.1 129.0h0M353.7 132.5h0M387.3 169.8h0M340.7 186.1h0M365.1 131.3h0M366.3 194.1h0M376.9 163.9h0M407.2 192.6h0M393.8 146.3h0M379.3 187.4h0M396.2 160.1h0M358.9 142.1h0M391.7 158.7h0M331.0 171.2h0M405.9 178.6h0M405.3 188.2h0M374.7 177.9h0M361.6 119.2h0M359.4 137.3h0M408.4 169.4h0M375.3 163.7h0M340.1 156.2h0M388.7 144.3h0M350.3 145.4h0M356.9 169.0h0M341.6 118.5h0M356.0 169.9h0M393.7 166.8h0M408.5 141.9h0M332.1 152.3h0M367.0 126.0h0M385.9 139.8h0M349.7 138.6h0M409.3 111.5h0M360.0 134.6h0M346.6 147.6h0M348.2 188.9h0M371.9 170.1h0M343.3 150.3h0M380.8 182.4h0M350.7 149.9h0M401.7 181.5h0M348.8 156.5h0M393.9 144.4h0M386.4 167.2h0M411.7 157.9h0M387.1 140.6h0M391.4 138.2h0M371.8 141.5h0M355.5 122.4h0M348.6 157.1h0M350.9 114.7h0M397.4 135.1h0M408.6 161.7h0M362.4 185.0h0M405.3 138.1h0M340.2 165.3h0M400.7 162.5h0M395.8 145.9h0M381.7 133.2h0M363.9 143.1h0M362.1 144.8h0M397.7 125.2h0M346.9 132.4h0M411.6 155.2h0M334.1 181.8h0M403.3 180.6h0M359.9 173.2h0M355.4 122.5h0M402.6 181.6h0M347.4 185.6h0M331.7 137.0h0M330.7 125.3h0M343.4 171.6h0M354.6 127.0h0M345.1 137.3h0M402.4 162.4h0M338.2 169.0h0M374.9 148.9h0M374.1 166.2h0M397.2 153.7h0M383.2 150.5h0M383.1 143.8h0M364.6 154.7h0M389.9 134.5h0M407.7 152.6h0M401.8 169.5h0M410.3 168.8h0M365.6 145.3h0M380.9 174.9h0M400.4 121.8h0M334.9 120.0h0M336.7 115.6h0M330.3 132.0h0M339.2 169.0h0M381.6 192.9h0M410.7 174.3h0M409.7 113.2h0M348.8 189.5h0M369.7 128.4h0M393.5 146.8h0M375.4 137.7h0M350.0 118.2h0M380.8 191.8h0M412.9 175.8h0M408.4 141.6h0M354.8 189.3h0M380.3 167.7h0M330.7 130.2h0M370.3 172.9h0M399.3 175.2h0M358.3 143.2h0M402.4 194.9h0M370.5 127.4h0M382.3 156.4h0M360.1 130.4h0M362.1 162.9h0M340.3 156.8h0M410.0 174.1h0M350.9 146.4h0M338.2 173.4h0M382.9 125.5h0M375.9 161.4h0M378.3 143.0h0M355.8 141.0h0M413.8 138.9h0M372.0 149.9h0M344.2 144.8h0M346.9 138.2h0M360.6 140.5h0M408.8 136.0h0M357.7 166.7h0M363.1 154.6h0M384.3 117.1h0M386.3 119.4h0M350.7 179.6h0M413.1 168.1h0M344.1 148.1h0M353.5 182.3h0M349.3 127.5h0M383.5 165.0h0M379.4 151.5h0M410.5 149.8h0M408.7 144.1h0M368.9 141.3h0M390.0 174.7h0M349.8 155.5h0M390.9 153.4h0M385.5 163.2h0M389.9 141.0h0M355.5 112.9h0M404.7 177.9h0M362.5 193.0h0M405.8 123.7h0M400.2 146.6h0M356.1 132.8h0M364.5 115.2h0M333.9 120.7h0M355.5 124.3h0M339.9 181.5h0M361.6 152.5h0M380.3 190.1h0M341.9 130.2h0M402.2 188.1h0M408.2 155.7h0M360.6 126.8h0M406.5 175.9h0M376.2 178.1h0M351.6 156.2h0M406.1 120.0h0" stroke="#1c1cf0" stroke-width="1.9" stroke-linecap="round" fill="none"/>
<path d="M381.7 126.6h0M400.3 182.1h0M384.0 147.9h0M331.4 152.8h0M359.9 144.8h0M336.2 189.0h0M373.7 158.5h0M400.7 187.0h0M376.0 157.0h0M401.1 142.5h0M405.6 112.9h0M396.8 155.7h0M382.1 195.0h0M348.2 145.4h0M397.1 174.3h0M373.8 176.8h0M386.8 184.7h0M384.5 141.7h0M353.8 117.8h0M340.0 114.4h0M411.9 122.8h0M380.5 122.2h0M411.1 156.1h0M344.5 181.1h0M402.2 193.9h0M348.5 145.0h0M385.4 134.8h0M377.6 170.4h0M393.0 180.8h0M393.0 135.1h0M393.4 147.7h0M343.9 112.6h0M382.1 141.2h0M337.5 152.5h0M364.6 138.4h0M377.4 156.6h0M374.3 194.7h0M406.0 136.2h0M403.2 137.6h0M408.7 115.7h0" stroke="#e01a1a" stroke-width="2.3" stroke-linecap="round" stroke-opacity="0.9" fill="none"/>
<path d="M355.4 179.8L353.5 183.2M368.6 158.7L366.8 159.0M373.3 164.2L370.2 166.3M386.4 149.5L387.3 154.0M366.6 155.9L362.2 156.4M357.7 137.8L359.6 139.2M370.7 152.3L371.0 156.8M379.9 143.7L378.3 146.4M371.2 130.3L366.9 130.5M357.6 134.4L360.3 136.0M358.2 153.8L360.6 155.5M372.3 167.5L374.8 171.5M359.9 135.1L360.5 137.9M377.2 185.7L373.7 186.7M362.2 144.6L361.9 146.7M357.8 168.0L359.8 169.2M365.3 135.6L363.3 136.4M390.7 167.7L389.4 171.2M361.2 149.1L358.0 149.4M370.6 146.5L372.8 149.0M365.7 179.1L367.0 180.4M373.1 161.2L368.8 161.9M357.8 138.8L362.0 139.4M371.2 156.5L372.1 160.8M368.5 156.4L367.0 156.8M364.7 143.4L366.0 145.2M342.4 163.0L339.4 164.6M371.1 154.9L373.6 158.2M367.2 148.4L369.5 152.4M367.4 155.0L370.3 158.3M362.7 173.6L366.1 175.0M375.4 166.8L372.3 170.0M333.4 165.6L334.7 170.1M402.1 125.5L404.5 126.3M356.3 123.0L359.1 126.0M364.2 152.0L365.7 152.4M370.9 182.4L368.6 186.1M377.4 143.5L375.3 146.5M365.1 145.9L363.1 146.6M350.2 157.7L347.3 160.7M362.7 162.2L361.6 163.5M372.9 142.1L373.7 144.5M363.5 143.2L365.1 143.9M378.2 166.3L376.6 166.4M354.3 154.0L355.8 156.2M375.2 160.6L376.4 161.9M385.7 174.2L382.7 177.9M372.9 130.3L374.4 131.5M384.8 149.1L383.5 150.7M368.8 134.9L370.9 135.6M381.5 147.8L383.3 148.3M366.0 137.9L366.1 140.0M371.9 165.7L372.4 167.8M372.8 164.0L374.5 164.6M363.5 151.2L360.8 154.3M356.6 118.2L359.1 119.6M362.8 154.4L361.2 155.1M384.8 149.7L383.0 149.8M391.6 128.5L388.9 130.7M359.3 138.3L356.2 139.9M355.0 146.2L353.6 149.4M384.2 141.5L386.2 144.8M367.6 166.0L367.2 169.9M370.6 154.5L373.6 156.4M374.7 167.2L372.0 168.3M368.3 169.2L369.1 172.1M372.8 169.0L375.0 173.2M350.1 151.9L345.5 153.0M391.1 155.5L395.5 157.0M369.3 140.2L367.2 142.9M349.6 156.0L350.2 159.6M366.4 148.9L364.8 152.3M376.1 138.1L375.8 140.1M372.3 179.6L376.7 180.5M374.7 160.9L374.1 162.4M345.3 159.2L346.1 161.2M391.4 163.9L394.9 165.1M360.0 141.5L359.4 145.2M369.4 161.9L367.2 162.4M354.5 151.7L351.2 154.5M367.6 131.5L367.3 133.4M355.6 144.3L353.6 146.3M375.9 160.8L373.1 162.4M363.1 147.1L364.9 148.6M361.3 152.5L358.7 152.9M374.9 150.3L374.9 153.8M370.2 146.3L365.9 146.7M348.2 149.3L349.3 151.0M398.0 153.8L395.1 154.8M355.6 141.7L354.5 143.3M366.7 141.6L365.7 145.0M373.8 135.1L377.3 137.3M357.1 163.4L353.2 166.2M375.3 159.6L377.7 163.2M346.1 169.5L343.7 171.3M366.3 130.5L368.7 131.4M380.5 170.7L381.3 173.1M357.1 111.0L360.5 112.6M370.3 175.1L367.4 178.0M361.6 148.0L359.8 148.9M338.4 133.8L340.5 136.1M357.5 132.7L359.0 135.2M379.5 137.5L382.7 139.5M376.9 136.4L374.6 137.2M359.4 178.5L360.8 179.9M381.8 174.6L379.9 175.8M365.9 142.0L365.3 143.5M348.3 139.4L348.3 143.0M376.9 161.6L374.7 163.3M367.0 132.0L363.7 134.2M359.7 175.6L357.2 177.2M363.9 136.5L363.3 139.1M357.7 154.3L354.3 155.4M354.9 139.8L355.1 141.9M357.4 138.4L358.9 141.3M378.9 165.9L376.8 167.7M383.1 182.0L382.2 184.4M377.5 160.4L380.9 163.2M363.7 140.1L364.3 141.9M369.8 169.1L367.1 170.2M372.9 148.8L377.0 150.2M358.7 158.1L359.3 161.6M367.6 156.8L366.5 160.3M360.8 148.3L358.1 149.6M340.4 143.7L343.3 145.0M349.9 160.4L351.7 162.0M366.9 167.9L369.6 171.6M378.7 133.6L379.9 137.7M348.2 140.9L346.3 141.2M367.5 120.5L368.3 123.1M390.4 157.4L391.7 158.4M379.5 159.1L377.0 162.8M365.3 146.0L361.0 146.9M376.7 122.9L373.4 124.8M367.1 149.0L365.5 149.0M352.1 158.9L352.1 161.5M356.0 150.6L355.1 152.1M356.1 168.0L356.3 169.7M339.5 158.2L339.2 162.1M341.2 176.3L340.9 180.4M349.8 131.6L351.3 135.9M392.9 149.4L390.2 150.2M354.1 176.2L351.1 178.0M364.4 150.3L364.1 152.1M357.9 149.4L357.2 151.4M356.6 172.2L356.1 174.2M368.0 149.9L369.0 153.6M351.7 141.8L349.9 142.4M357.3 150.0L356.4 152.9M351.2 132.3L351.2 135.2M396.6 189.6L397.7 192.6M401.0 185.9L396.9 188.3M399.8 162.9L397.0 165.2M394.4 138.8L393.7 142.4M395.2 181.1L392.9 182.0M407.6 175.7L407.0 178.4M398.5 185.8L400.2 187.9M402.3 152.7L401.8 155.8M403.2 158.2L399.6 160.2M398.1 141.2L398.9 145.9M403.9 180.9L404.8 182.4M397.2 189.3L401.6 191.2M392.6 166.1L388.8 167.3M401.9 149.6L404.0 149.7M397.8 143.3L398.4 144.9M399.0 156.1L398.0 158.3M400.3 158.4L401.6 162.5M397.0 142.1L395.5 143.2M406.3 180.1L406.2 183.9M397.8 178.0L399.8 179.0M401.0 153.3L404.9 153.9M395.9 183.9L400.3 184.4M403.5 167.8L405.3 169.7M404.8 166.7L402.9 168.3M399.3 154.1L403.7 155.6M412.3 190.8L414.9 192.9M402.1 159.1L404.1 159.1M396.8 171.8L396.9 176.2M394.8 161.4L397.7 162.7M399.9 177.8L402.8 179.7M408.2 156.9L407.3 158.7M401.5 145.0L398.3 147.2M396.9 158.8L394.0 160.4M396.4 185.2L394.6 187.2M403.9 173.4L399.8 175.6M394.9 174.2L396.6 175.4M402.4 146.8L401.7 149.6M394.9 180.6L397.6 182.3M402.6 160.8L403.3 162.7M398.2 146.7L400.1 149.5M340.7 163.6L341.7 165.9M401.2 172.7L401.6 175.1M374.0 164.6L371.3 167.2M331.4 124.3L328.0 124.3M374.6 119.2L371.3 121.8M354.5 133.6L357.0 134.1M371.9 148.8L373.8 148.8M351.7 181.2L347.3 181.7M373.1 141.0L369.3 142.3M385.8 170.0L382.5 170.7M352.3 172.9L350.0 173.4M362.8 175.1L361.3 176.1M396.9 131.1L398.5 131.8M366.9 148.2L370.2 150.4M346.6 189.7L343.9 189.7M331.6 115.4L331.3 118.1M394.6 144.8L396.1 146.3M413.9 174.8L412.7 176.7M367.6 173.9L366.5 176.2M357.4 179.4L361.0 180.1M389.6 152.4L388.8 156.9M358.2 173.2L355.7 176.2M334.9 168.8L335.7 170.7M406.1 132.1L406.4 134.7M339.7 133.8L338.4 137.3M391.3 122.1L394.1 125.4M373.7 172.1L374.1 175.1M334.2 181.7L330.5 182.9M348.5 163.3L347.2 165.4M360.2 185.1L362.6 187.7M332.3 112.6L334.8 112.9M408.0 158.9L408.1 160.9M375.3 121.5L378.0 122.1M351.7 175.5L351.0 179.1M351.9 143.7L354.3 144.6M412.5 166.1L414.3 169.3M406.6 178.7L406.4 180.8M335.7 115.7L332.3 117.9M387.1 171.5L390.3 173.0M330.7 112.7L330.1 114.3" stroke="#f0e020" stroke-width="0.8" fill="none"/><ellipse cx="366" cy="150" rx="9" ry="13" fill="#ff6a20" opacity="0.7" filter="url(#blur2)"/><ellipse cx="365" cy="147" rx="5" ry="8" fill="#ff4a2a" opacity="0.7" filter="url(#blur1)"/><ellipse cx="389" cy="184" rx="2.5" ry="2.5" fill="#000" stroke="#e8e020" stroke-width="1"/><path d="M340,110.8 C334,122 331,136 330,150" stroke="#ddd" stroke-width="0.5" fill="none"/><circle cx="372" cy="153.3" r="37" fill="none" stroke="#e0e0e0" stroke-width="0.5"/><rect x="387.1" y="111.8" width="26" height="21.7" rx="2.5" fill="#c0c0c0" opacity="0.85"/><text x="400.4" y="118.6" font-size="6.8" font-weight="bold" fill="#2020ff" text-anchor="middle">SYTO13</text><text x="400.4" y="126.1" font-size="6.8" font-weight="bold" fill="#ff1010" text-anchor="middle">Aβ</text><text x="400.4" y="132.8" font-size="6.8" font-weight="bold" fill="#ffff00" text-anchor="middle">GFAP</text><text x="332.4" y="185.7" font-size="7.2" fill="#fff">50µm</text><line x1="332" y1="190.6" x2="348" y2="190.6" stroke="#fff" stroke-width="1.4"/></g>
<g clip-path="url(#clt01)"><ellipse cx="458.6" cy="64.7" rx="15" ry="13" fill="#b020b0" opacity="0.95" filter="url(#blur4)"/></g>
<g clip-path="url(#clt01)"><ellipse cx="458.6" cy="64.7" rx="20" ry="4" fill="#901890" opacity="0.7" filter="url(#blur2)"/></g>
<g clip-path="url(#clt01)"><ellipse cx="458.6" cy="64.7" rx="4" ry="17" fill="#901890" opacity="0.7" filter="url(#blur2)"/></g>
<g clip-path="url(#clt01)"><ellipse cx="456" cy="64" rx="6" ry="5" fill="#ff9080" opacity="0.9" filter="url(#blur2)"/></g>
<g clip-path="url(#clt01)"><ellipse cx="470" cy="40" rx="8" ry="8" fill="#303010" opacity="0.6" filter="url(#blur4)"/></g>
<g clip-path="url(#clt02)"><ellipse cx="545.3" cy="64.7" rx="16" ry="13" fill="#ff00ff" opacity="1.0" filter="url(#blur4)"/></g>
<g clip-path="url(#clt02)"><ellipse cx="545.3" cy="64.7" rx="22" ry="5" fill="#e000e0" opacity="0.8" filter="url(#blur2)"/></g>
<g clip-path="url(#clt02)"><ellipse cx="545.3" cy="62" rx="5" ry="18" fill="#e000e0" opacity="0.8" filter="url(#blur2)"/></g>
<g clip-path="url(#clt02)"><ellipse cx="545" cy="62" rx="9" ry="8" fill="#ff30ff" opacity="1.0" filter="url(#blur2)"/></g>
<g clip-path="url(#clt02)"><ellipse cx="560" cy="95" rx="8" ry="6" fill="#300030" opacity="0.8" filter="url(#blur4)"/></g>
<g clip-path="url(#clt03)"><ellipse cx="631" cy="63" rx="12" ry="9" fill="#707000" opacity="0.9" filter="url(#blur4)"/></g>
<g clip-path="url(#clt03)"><ellipse cx="631" cy="63" rx="6" ry="4.5" fill="#ffff20" opacity="1.0" filter="url(#blur2)"/></g>
<g clip-path="url(#clt03)"><ellipse cx="612" cy="49" rx="5" ry="5" fill="#303000" opacity="0.7" filter="url(#blur4)"/></g>
<g clip-path="url(#clt03)"><ellipse cx="650" cy="80" rx="6" ry="6" fill="#282800" opacity="0.7" filter="url(#blur4)"/></g>
<g clip-path="url(#clt11)"><ellipse cx="455" cy="142" rx="11" ry="27" fill="#8a8a10" opacity="0.9" filter="url(#blur4)"/></g>
<g clip-path="url(#clt11)"><ellipse cx="466" cy="160" rx="8" ry="16" fill="#d07050" opacity="0.9" filter="url(#blur4)"/></g>
<g clip-path="url(#clt11)"><ellipse cx="428" cy="150" rx="8" ry="8" fill="#302a08" opacity="0.7" filter="url(#blur4)"/></g>
<g clip-path="url(#clt11)"><ellipse cx="464" cy="156" rx="4" ry="6" fill="#ff9070" opacity="0.8" filter="url(#blur2)"/></g>
<g clip-path="url(#clt12)"><ellipse cx="550.6" cy="161.9" rx="8" ry="20" fill="#9010a0" opacity="0.9" filter="url(#blur4)"/></g>
<g clip-path="url(#clt12)"><ellipse cx="530" cy="165" rx="8" ry="6" fill="#300030" opacity="0.6" filter="url(#blur4)"/></g>
<g clip-path="url(#clt13)"><ellipse cx="632" cy="150" rx="18" ry="22" fill="#b0b000" opacity="0.95" filter="url(#blur6)"/></g>
<g clip-path="url(#clt13)"><ellipse cx="632" cy="148" rx="11" ry="11" fill="#ffff00" opacity="1.0" filter="url(#blur4)"/></g>
<g clip-path="url(#clt13)"><ellipse cx="637" cy="175" rx="6" ry="10" fill="#c0c000" opacity="0.9" filter="url(#blur4)"/></g>
<g clip-path="url(#clt13)"><ellipse cx="600" cy="157" rx="6" ry="8" fill="#303000" opacity="0.6" filter="url(#blur4)"/></g>
<text x="497.4" y="34.8" font-size="7.6" fill="#ff20ff" text-anchor="end"><tspan font-style="italic">m/z</tspan> 4512</text>
<text x="497.4" y="42.2" font-size="7.6" fill="#ffff00" text-anchor="end"><tspan font-style="italic">m/z</tspan> 4523</text>
<text x="582.5" y="34.8" font-size="7.6" fill="#ff20ff" text-anchor="end"><tspan font-style="italic">m/z</tspan> 4512</text>
<text x="668.6" y="34.8" font-size="7.6" fill="#ffff00" text-anchor="end"><tspan font-style="italic">m/z</tspan> 4523</text>
<text x="421.8" y="97.5" font-size="7.2" fill="#fff">20µm</text>
<line x1="421.8" y1="102.8" x2="440.3" y2="102.8" stroke="#fff" stroke-width="1.4"/>
<text x="497.4" y="121.3" font-size="7.6" fill="#ff20ff" text-anchor="end"><tspan font-style="italic">m/z</tspan> 4512</text>
<text x="497.4" y="128.7" font-size="7.6" fill="#ffff00" text-anchor="end"><tspan font-style="italic">m/z</tspan> 4523</text>
<text x="582.5" y="121.3" font-size="7.6" fill="#ff20ff" text-anchor="end"><tspan font-style="italic">m/z</tspan> 4512</text>
<text x="668.6" y="121.3" font-size="7.6" fill="#ffff00" text-anchor="end"><tspan font-style="italic">m/z</tspan> 4523</text>
<text x="423.0" y="184.0" font-size="7.2" fill="#fff">20µm</text>
<line x1="423.0" y1="189.3" x2="444.0" y2="189.3" stroke="#fff" stroke-width="1.4"/>
<rect x="673.7" y="35.2" width="5.4" height="34.1" fill="url(#magbar)" stroke="none" stroke-width="1"/>
<text x="679.6" y="38.7" font-size="3.2" fill="#000">30</text>
<text x="679.6" y="69.3" font-size="3.2" fill="#000">7</text>
<rect x="673.7" y="74.5" width="5.4" height="33.2" fill="url(#yelbar)" stroke="none" stroke-width="1"/>
<text x="679.6" y="78.0" font-size="3.2" fill="#000">20</text>
<text x="679.6" y="107.7" font-size="3.2" fill="#000">7</text>
<rect x="673.7" y="122.6" width="5.4" height="33.6" fill="url(#magbar)" stroke="none" stroke-width="1"/>
<text x="679.6" y="126.1" font-size="3.2" fill="#000">17</text>
<text x="679.6" y="156.2" font-size="3.2" fill="#000">5</text>
<rect x="673.7" y="162.0" width="5.4" height="33.6" fill="url(#yelbar)" stroke="none" stroke-width="1"/>
<text x="679.6" y="165.5" font-size="3.2" fill="#000">17</text>
<text x="679.6" y="195.6" font-size="3.2" fill="#000">4</text>
<text x="361.5" y="209.6" font-size="8.25" font-weight="bold" fill="#000">Aβ 42 spectra - young plaque</text>
<rect x="356.0" y="217.0" width="141.0" height="71.5" fill="#fff" stroke="none" stroke-width="1"/>
<line x1="359.4" y1="217.0" x2="359.4" y2="288.5" stroke="#ebebeb" stroke-width="0.5"/>
<line x1="384.0" y1="217.0" x2="384.0" y2="288.5" stroke="#ebebeb" stroke-width="0.5"/>
<line x1="407.8" y1="217.0" x2="407.8" y2="288.5" stroke="#ebebeb" stroke-width="0.5"/>
<line x1="435.0" y1="217.0" x2="435.0" y2="288.5" stroke="#ebebeb" stroke-width="0.5"/>
<line x1="459.5" y1="217.0" x2="459.5" y2="288.5" stroke="#ebebeb" stroke-width="0.5"/>
<line x1="483.7" y1="217.0" x2="483.7" y2="288.5" stroke="#ebebeb" stroke-width="0.5"/>
<line x1="371.7" y1="217.0" x2="371.7" y2="288.5" stroke="#f4f4f4" stroke-width="0.3"/>
<line x1="395.9" y1="217.0" x2="395.9" y2="288.5" stroke="#f4f4f4" stroke-width="0.3"/>
<line x1="421.4" y1="217.0" x2="421.4" y2="288.5" stroke="#f4f4f4" stroke-width="0.3"/>
<line x1="447.2" y1="217.0" x2="447.2" y2="288.5" stroke="#f4f4f4" stroke-width="0.3"/>
<line x1="471.6" y1="217.0" x2="471.6" y2="288.5" stroke="#f4f4f4" stroke-width="0.3"/>
<line x1="356.0" y1="285.0" x2="497.0" y2="285.0" stroke="#ebebeb" stroke-width="0.5"/>
<line x1="356.0" y1="270.0" x2="497.0" y2="270.0" stroke="#ebebeb" stroke-width="0.5"/>
<line x1="356.0" y1="254.6" x2="497.0" y2="254.6" stroke="#ebebeb" stroke-width="0.5"/>
<line x1="356.0" y1="239.0" x2="497.0" y2="239.0" stroke="#ebebeb" stroke-width="0.5"/>
<line x1="356.0" y1="224.0" x2="497.0" y2="224.0" stroke="#ebebeb" stroke-width="0.5"/>
<text x="359.4" y="294.3" font-size="4.0" text-anchor="middle" fill="#555">4490</text>
<text x="384.0" y="294.3" font-size="4.0" text-anchor="middle" fill="#555">4500</text>
<text x="407.8" y="294.3" font-size="4.0" text-anchor="middle" fill="#555">4510</text>
<text x="435.0" y="294.3" font-size="4.0" text-anchor="middle" fill="#555">4520</text>
<text x="459.5" y="294.3" font-size="4.0" text-anchor="middle" fill="#555">4530</text>
<text x="483.7" y="294.3" font-size="4.0" text-anchor="middle" fill="#555">4540</text>
<text x="354.0" y="286.4" font-size="4.0" text-anchor="end" fill="#555">0</text>
<text x="354.0" y="271.4" font-size="4.0" text-anchor="end" fill="#555">20</text>
<text x="354.0" y="256.0" font-size="4.0" text-anchor="end" fill="#555">40</text>
<text x="354.0" y="240.4" font-size="4.0" text-anchor="end" fill="#555">60</text>
<text x="354.0" y="225.4" font-size="4.0" text-anchor="end" fill="#555">80</text>
<line x1="356.0" y1="252.3" x2="497.0" y2="252.3" stroke="#e8402a" stroke-width="0.6" stroke-dasharray="2.5,1.5"/>
<line x1="356.0" y1="284.3" x2="497.0" y2="284.3" stroke="#e8402a" stroke-width="0.6" stroke-dasharray="2.5,1.5"/>
<line x1="356.0" y1="278.5" x2="497.0" y2="278.5" stroke="#e8402a" stroke-width="0.5" stroke-dasharray="0.6,0.9"/>
<path d="M363.6,278.5 C366,281 370,282 374,281.5 C380,283 390,284 398,284.3" fill="none" stroke="#3060f0" stroke-width="0.7"/>
<path d="M458,285 C462,284 466,279 472,280 C478,281 482,278 488,279 C492,280 494,282 495,283" fill="none" stroke="#3060f0" stroke-width="0.7"/>
<path d="M401.5,283.2 L402.3,282.8 L403.1,282.3 L403.9,281.6 L404.7,280.7 L405.5,279.7 L406.3,278.4 L407.1,276.8 L407.9,274.9 L408.7,272.7 L409.5,270.2 L410.3,267.3 L411.1,264.0 L411.9,260.4 L412.7,256.6 L413.5,252.5 L414.3,248.3 L415.1,244.0 L415.9,239.7 L416.7,235.6 L417.5,231.8 L418.3,228.4 L419.1,225.5 L419.9,223.2 L420.7,221.5 L421.5,220.7 L422.3,220.6 L423.1,221.2 L423.9,222.7 L424.7,224.8 L425.5,227.6 L426.3,230.9 L427.1,234.7 L427.9,238.7 L428.7,242.9 L429.5,247.2 L430.3,251.5 L431.1,255.6 L431.9,259.5 L432.7,263.2 L433.5,266.5 L434.3,269.5 L435.1,272.1 L435.9,274.4 L436.7,276.4 L437.5,278.0 L438.3,279.4 L439.1,280.5 L439.9,281.4 L440.7,282.1 L441.5,282.7 L442.3,283.1 L443.1,283.4 L443.9,283.7 L444.7,283.9 L445.5,284.0 L446.3,284.1 L447.1,284.2 L447.9,284.2 L448.7,284.2 L449.5,284.3" fill="none" stroke="#3060f0" stroke-width="0.8"/>
<path d="M401.2,283.2 L402.0,282.8 L402.8,282.3 L403.6,281.6 L404.4,280.7 L405.2,279.7 L406.0,278.4 L406.8,276.8 L407.6,274.9 L408.4,272.7 L409.2,270.2 L410.0,267.3 L410.8,264.0 L411.6,260.4 L412.4,256.6 L413.2,252.5 L414.0,248.3 L414.8,244.0 L415.6,239.7 L416.4,235.6 L417.2,231.8 L418.0,228.4 L418.8,225.5 L419.6,223.2 L420.4,221.5 L421.2,220.7 L422.0,220.6 L422.8,221.2 L423.6,222.7 L424.4,224.8 L425.2,227.6 L426.0,230.9 L426.8,234.7 L427.6,238.7 L428.4,242.9 L429.2,247.2 L430.0,251.5 L430.8,255.6 L431.6,259.5 L432.4,263.2 L433.2,266.5 L434.0,269.5 L434.8,272.1 L435.6,274.4 L436.4,276.4 L437.2,278.0 L438.0,279.4 L438.8,280.5 L439.6,281.4 L440.4,282.1 L441.2,282.7 L442.0,283.1 L442.8,283.4 L443.6,283.7 L444.4,283.9 L445.2,284.0 L446.0,284.1 L446.8,284.2 L447.6,284.2 L448.4,284.2 L449.2,284.3" fill="none" stroke="#e8402a" stroke-width="1.0"/>
<line x1="407.5" y1="217.0" x2="407.5" y2="288.5" stroke="#2a9a3a" stroke-width="0.6" stroke-dasharray="1.6,1.2"/>
<line x1="443.5" y1="217.0" x2="443.5" y2="288.5" stroke="#2a9a3a" stroke-width="0.6" stroke-dasharray="1.6,1.2"/>
<line x1="414.6" y1="217.0" x2="414.6" y2="288.5" stroke="#f0a020" stroke-width="0.6" stroke-dasharray="2.5,1.2,0.6,1.2"/>
<line x1="431.7" y1="217.0" x2="431.7" y2="288.5" stroke="#f0a020" stroke-width="0.6" stroke-dasharray="2.5,1.2,0.6,1.2"/>
<line x1="422.0" y1="217.0" x2="422.0" y2="288.5" stroke="#a030f0" stroke-width="1.3" stroke-dasharray="3,2"/>
<circle cx="422.0" cy="220.5" r="0.80" fill="#000" stroke="none" stroke-width="1"/>
<text x="427.5" y="224.1" font-size="5.1" font-weight="bold" fill="#a030f0">Centroid = 4514.971</text>
<text x="434.0" y="249.2" font-size="5.1" font-weight="bold" fill="#2040a0">FWHM = 6.704</text>
<text transform="translate(348.5,252.8) rotate(-90)" font-size="4.2" text-anchor="middle">Intensity</text>
<text x="427.0" y="299.5" font-size="4.2" text-anchor="middle" fill="#000">m/z</text>
<text x="530.0" y="209.6" font-size="8.25" font-weight="bold" fill="#000">Aβ 42 spectra - old plaque</text>
<rect x="516.8" y="217.0" width="140.6" height="71.5" fill="#fff" stroke="none" stroke-width="1"/>
<line x1="520.0" y1="217.0" x2="520.0" y2="288.5" stroke="#ebebeb" stroke-width="0.5"/>
<line x1="544.4" y1="217.0" x2="544.4" y2="288.5" stroke="#ebebeb" stroke-width="0.5"/>
<line x1="569.4" y1="217.0" x2="569.4" y2="288.5" stroke="#ebebeb" stroke-width="0.5"/>
<line x1="594.3" y1="217.0" x2="594.3" y2="288.5" stroke="#ebebeb" stroke-width="0.5"/>
<line x1="619.3" y1="217.0" x2="619.3" y2="288.5" stroke="#ebebeb" stroke-width="0.5"/>
<line x1="643.7" y1="217.0" x2="643.7" y2="288.5" stroke="#ebebeb" stroke-width="0.5"/>
<line x1="532.2" y1="217.0" x2="532.2" y2="288.5" stroke="#f4f4f4" stroke-width="0.3"/>
<line x1="556.9" y1="217.0" x2="556.9" y2="288.5" stroke="#f4f4f4" stroke-width="0.3"/>
<line x1="581.8" y1="217.0" x2="581.8" y2="288.5" stroke="#f4f4f4" stroke-width="0.3"/>
<line x1="606.8" y1="217.0" x2="606.8" y2="288.5" stroke="#f4f4f4" stroke-width="0.3"/>
<line x1="631.5" y1="217.0" x2="631.5" y2="288.5" stroke="#f4f4f4" stroke-width="0.3"/>
<line x1="516.8" y1="285.0" x2="657.4" y2="285.0" stroke="#ebebeb" stroke-width="0.5"/>
<line x1="516.8" y1="266.5" x2="657.4" y2="266.5" stroke="#ebebeb" stroke-width="0.5"/>
<line x1="516.8" y1="247.5" x2="657.4" y2="247.5" stroke="#ebebeb" stroke-width="0.5"/>
<line x1="516.8" y1="229.0" x2="657.4" y2="229.0" stroke="#ebebeb" stroke-width="0.5"/>
<text x="520.0" y="294.3" font-size="4.0" text-anchor="middle" fill="#555">4490</text>
<text x="544.4" y="294.3" font-size="4.0" text-anchor="middle" fill="#555">4500</text>
<text x="569.4" y="294.3" font-size="4.0" text-anchor="middle" fill="#555">4510</text>
<text x="594.3" y="294.3" font-size="4.0" text-anchor="middle" fill="#555">4520</text>
<text x="619.3" y="294.3" font-size="4.0" text-anchor="middle" fill="#555">4530</text>
<text x="643.7" y="294.3" font-size="4.0" text-anchor="middle" fill="#555">4540</text>
<text x="514.8" y="286.4" font-size="4.0" text-anchor="end" fill="#555">0</text>
<text x="514.8" y="267.9" font-size="4.0" text-anchor="end" fill="#555">20</text>
<text x="514.8" y="248.9" font-size="4.0" text-anchor="end" fill="#555">40</text>
<text x="514.8" y="230.4" font-size="4.0" text-anchor="end" fill="#555">60</text>
<line x1="516.8" y1="252.3" x2="657.4" y2="252.3" stroke="#e8402a" stroke-width="0.6" stroke-dasharray="2.5,1.5"/>
<line x1="516.8" y1="284.3" x2="657.4" y2="284.3" stroke="#e8402a" stroke-width="0.6" stroke-dasharray="2.5,1.5"/>
<line x1="516.8" y1="278.5" x2="657.4" y2="278.5" stroke="#e8402a" stroke-width="0.5" stroke-dasharray="0.6,0.9"/>
<path d="M524,280 C530,278 536,279 542,281 C548,282 552,280 558,283 L566,284.3" fill="none" stroke="#3060f0" stroke-width="0.7"/>
<path d="M620,285 C624,284 626,272 631,270 C636,272 638,284 642,285 L650,285" fill="none" stroke="#3060f0" stroke-width="0.7"/>
<path d="M568.6,283.7 L569.4,283.5 L570.3,283.2 L571.1,282.8 L571.9,282.3 L572.7,281.6 L573.6,280.8 L574.4,279.8 L575.2,278.5 L576.0,276.9 L576.9,275.1 L577.7,273.0 L578.5,270.5 L579.3,267.6 L580.2,264.4 L581.0,260.9 L581.8,257.1 L582.7,253.1 L583.5,248.9 L584.3,244.6 L585.1,240.4 L586.0,236.2 L586.8,232.4 L587.6,228.8 L588.4,225.8 L589.3,223.3 L590.1,221.5 L590.9,220.3 L591.7,220.0 L592.6,220.4 L593.4,221.6 L594.2,223.5 L595.1,226.1 L595.9,229.2 L596.7,232.8 L597.5,236.7 L598.4,240.9 L599.2,245.1 L600.0,249.4 L600.8,253.6 L601.7,257.6 L602.5,261.3 L603.3,264.8 L604.1,268.0 L605.0,270.8 L605.8,273.2 L606.6,275.3 L607.5,277.1 L608.3,278.6 L609.1,279.9 L609.9,280.9 L610.8,281.7 L611.6,282.4 L612.4,282.9 L613.2,283.2 L614.1,283.5 L614.9,283.7 L615.7,283.9 L616.5,284.0 L617.4,284.1 L618.2,284.2" fill="none" stroke="#3060f0" stroke-width="0.8"/>
<path d="M568.3,283.7 L569.1,283.5 L570.0,283.2 L570.8,282.8 L571.6,282.3 L572.4,281.6 L573.3,280.8 L574.1,279.8 L574.9,278.5 L575.7,276.9 L576.6,275.1 L577.4,273.0 L578.2,270.5 L579.0,267.6 L579.9,264.4 L580.7,260.9 L581.5,257.1 L582.4,253.1 L583.2,248.9 L584.0,244.6 L584.8,240.4 L585.7,236.2 L586.5,232.4 L587.3,228.8 L588.1,225.8 L589.0,223.3 L589.8,221.5 L590.6,220.3 L591.4,220.0 L592.3,220.4 L593.1,221.6 L593.9,223.5 L594.8,226.1 L595.6,229.2 L596.4,232.8 L597.2,236.7 L598.1,240.9 L598.9,245.1 L599.7,249.4 L600.5,253.6 L601.4,257.6 L602.2,261.3 L603.0,264.8 L603.8,268.0 L604.7,270.8 L605.5,273.2 L606.3,275.3 L607.2,277.1 L608.0,278.6 L608.8,279.9 L609.6,280.9 L610.5,281.7 L611.3,282.4 L612.1,282.9 L612.9,283.2 L613.8,283.5 L614.6,283.7 L615.4,283.9 L616.2,284.0 L617.1,284.1 L617.9,284.2" fill="none" stroke="#e8402a" stroke-width="1.0"/>
<line x1="574.6" y1="217.0" x2="574.6" y2="288.5" stroke="#2a9a3a" stroke-width="0.6" stroke-dasharray="1.6,1.2"/>
<line x1="612.2" y1="217.0" x2="612.2" y2="288.5" stroke="#2a9a3a" stroke-width="0.6" stroke-dasharray="1.6,1.2"/>
<line x1="583.3" y1="217.0" x2="583.3" y2="288.5" stroke="#f0a020" stroke-width="0.6" stroke-dasharray="2.5,1.2,0.6,1.2"/>
<line x1="601.7" y1="217.0" x2="601.7" y2="288.5" stroke="#f0a020" stroke-width="0.6" stroke-dasharray="2.5,1.2,0.6,1.2"/>
<line x1="591.7" y1="217.0" x2="591.7" y2="288.5" stroke="#a030f0" stroke-width="1.3" stroke-dasharray="3,2"/>
<circle cx="591.7" cy="220.0" r="0.80" fill="#000" stroke="none" stroke-width="1"/>
<text x="597.2" y="223.6" font-size="5.1" font-weight="bold" fill="#a030f0">Centroid = 4518.663</text>
<text x="603.7" y="249.2" font-size="5.1" font-weight="bold" fill="#2040a0">FWHM = 7.304</text>
<text transform="translate(509.3,252.8) rotate(-90)" font-size="4.2" text-anchor="middle">Intensity</text>
<text x="596.7" y="299.5" font-size="4.2" text-anchor="middle" fill="#000">m/z</text>
<text x="1.2" y="323.4" font-size="14.5" font-weight="bold" fill="#000">C</text>
<rect x="28.2" y="344.2" width="157.8" height="217.6" fill="#f5f5f5" stroke="none" stroke-width="1"/>
<line x1="46.5" y1="344.2" x2="46.5" y2="561.8" stroke="#fafafa" stroke-width="0.5"/>
<line x1="85.5" y1="344.2" x2="85.5" y2="561.8" stroke="#fafafa" stroke-width="0.5"/>
<line x1="124.5" y1="344.2" x2="124.5" y2="561.8" stroke="#fafafa" stroke-width="0.5"/>
<line x1="163.5" y1="344.2" x2="163.5" y2="561.8" stroke="#fafafa" stroke-width="0.5"/>
<line x1="28.2" y1="519.1" x2="186.0" y2="519.1" stroke="#fafafa" stroke-width="0.5"/>
<line x1="28.2" y1="455.3" x2="186.0" y2="455.3" stroke="#fafafa" stroke-width="0.5"/>
<line x1="28.2" y1="391.5" x2="186.0" y2="391.5" stroke="#fafafa" stroke-width="0.5"/>
<line x1="66.0" y1="344.2" x2="66.0" y2="561.8" stroke="#ffffff" stroke-width="0.9"/>
<line x1="105.0" y1="344.2" x2="105.0" y2="561.8" stroke="#ffffff" stroke-width="0.9"/>
<line x1="144.0" y1="344.2" x2="144.0" y2="561.8" stroke="#ffffff" stroke-width="0.9"/>
<line x1="183.0" y1="344.2" x2="183.0" y2="561.8" stroke="#ffffff" stroke-width="0.9"/>
<line x1="28.2" y1="551.0" x2="186.0" y2="551.0" stroke="#ffffff" stroke-width="0.9"/>
<line x1="28.2" y1="487.2" x2="186.0" y2="487.2" stroke="#ffffff" stroke-width="0.9"/>
<line x1="28.2" y1="423.4" x2="186.0" y2="423.4" stroke="#ffffff" stroke-width="0.9"/>
<line x1="28.2" y1="359.6" x2="186.0" y2="359.6" stroke="#ffffff" stroke-width="0.9"/>
<text x="60.3" y="335.2" font-size="9.7" font-weight="bold" fill="#000">10-month-old mice</text>
<text x="66.0" y="569.0" font-size="6.7" text-anchor="middle" fill="#333">-0.5</text>
<line x1="66.0" y1="561.8" x2="66.0" y2="563.3" stroke="#333" stroke-width="0.5"/>
<text x="105.0" y="569.0" font-size="6.7" text-anchor="middle" fill="#333">0.0</text>
<line x1="105.0" y1="561.8" x2="105.0" y2="563.3" stroke="#333" stroke-width="0.5"/>
<text x="144.0" y="569.0" font-size="6.7" text-anchor="middle" fill="#333">0.5</text>
<line x1="144.0" y1="561.8" x2="144.0" y2="563.3" stroke="#333" stroke-width="0.5"/>
<text x="183.0" y="569.0" font-size="6.7" text-anchor="middle" fill="#333">1.00</text>
<line x1="183.0" y1="561.8" x2="183.0" y2="563.3" stroke="#333" stroke-width="0.5"/>
<text x="25.6" y="553.2" font-size="6.4" text-anchor="end" fill="#333">0</text>
<line x1="26.7" y1="551.0" x2="28.2" y2="551.0" stroke="#333" stroke-width="0.5"/>
<text x="25.6" y="489.4" font-size="6.4" text-anchor="end" fill="#333">2</text>
<line x1="26.7" y1="487.2" x2="28.2" y2="487.2" stroke="#333" stroke-width="0.5"/>
<text x="25.6" y="425.6" font-size="6.4" text-anchor="end" fill="#333">4</text>
<line x1="26.7" y1="423.4" x2="28.2" y2="423.4" stroke="#333" stroke-width="0.5"/>
<text x="25.6" y="361.8" font-size="6.4" text-anchor="end" fill="#333">6</text>
<line x1="26.7" y1="359.6" x2="28.2" y2="359.6" stroke="#333" stroke-width="0.5"/>
<text x="105.5" y="578.5" font-size="7.6" text-anchor="middle" fill="#000">correlation coeffcicient R</text>
<text transform="translate(18.4,454.4) rotate(-90)" font-size="7.6" text-anchor="middle">-log<tspan font-size="5" dy="1.5">10</tspan><tspan dy="-1.5">(p-value)</tspan></text>
<path d="M66.6,513 C72,520 77,526 83,531 C90,537 98,544 105.4,548 C112,544 120,537 127,530 C133,524 138,518 142.5,512" fill="none" stroke="#bcbcbc" stroke-width="7" stroke-linecap="round" stroke-linejoin="round"/>
<line x1="105.0" y1="344.2" x2="105.0" y2="561.8" stroke="#9a9a9a" stroke-width="0.6" stroke-dasharray="0.8,0.8"/>
<path d="M64.5 510.7h0M64.0 507.2h0M52.5 489.0h0M67.5 512.0h0M61.5 510.4h0M40.4 419.2h0M47.7 457.0h0M52.8 487.5h0M59.7 487.9h0M62.7 498.5h0M51.1 483.5h0M51.5 471.0h0M59.3 509.4h0M46.7 451.1h0M55.6 477.1h0M56.2 477.8h0M65.6 506.2h0M66.3 503.7h0M44.8 448.2h0M61.9 511.8h0M41.6 427.4h0M54.7 488.9h0M59.5 499.7h0M64.0 507.9h0M62.2 493.3h0M58.0 482.2h0M49.1 453.0h0M52.0 483.6h0M48.9 452.1h0M45.7 442.4h0M50.9 477.8h0M48.2 457.9h0M59.8 509.8h0M49.2 453.5h0M67.2 511.9h0M59.0 505.5h0M66.3 509.6h0M44.8 449.5h0M52.7 490.2h0M51.6 477.1h0M48.2 447.7h0M65.9 499.9h0M59.7 509.2h0M53.0 491.7h0M63.4 511.3h0M53.9 490.6h0M67.8 512.0h0M67.9 509.1h0M45.2 444.2h0M61.8 502.8h0M56.8 486.9h0M60.3 495.6h0M43.5 433.8h0M64.3 504.5h0M62.3 510.7h0M41.4 424.1h0M54.4 496.5h0M63.2 505.3h0M65.5 512.0h0M52.2 488.3h0M56.2 488.8h0M53.3 482.5h0M55.2 478.8h0M60.5 512.0h0M58.6 483.0h0M63.6 510.5h0M56.1 492.4h0M61.3 507.5h0M63.9 507.3h0M62.6 509.5h0M47.5 468.7h0M61.1 494.7h0M61.0 509.2h0M47.5 463.2h0M63.7 511.4h0M50.6 480.0h0M62.0 508.9h0M47.6 457.6h0M45.8 453.1h0M64.8 508.4h0M45.9 446.9h0M60.7 510.9h0M56.8 498.0h0M50.3 462.6h0M62.3 511.4h0M49.3 462.6h0M47.9 462.7h0M62.6 511.8h0M47.9 465.0h0M62.5 508.1h0M61.4 505.0h0M43.3 438.7h0M68.5 512.0h0M48.3 447.9h0M66.6 504.3h0M43.1 437.0h0M53.7 473.0h0M55.4 484.6h0M62.3 509.7h0M60.2 510.9h0M55.9 492.8h0M46.4 462.0h0M46.2 442.6h0M46.1 437.9h0M45.9 443.5h0M66.7 512.0h0M62.5 511.5h0M55.4 484.6h0M66.7 505.3h0M55.6 490.4h0M67.4 510.5h0M64.2 501.8h0M60.3 507.9h0M63.1 497.6h0M67.0 511.5h0M45.8 438.4h0M45.9 459.5h0M60.0 488.7h0M62.4 512.0h0M64.2 510.2h0M62.0 504.9h0M47.2 468.0h0M61.1 512.0h0M60.5 511.8h0M42.8 425.0h0M64.5 511.9h0M61.8 509.0h0M64.6 507.9h0M56.8 493.0h0M62.7 511.3h0M64.9 511.8h0M52.1 477.5h0M61.6 512.0h0M64.0 507.1h0M49.0 466.9h0M49.4 463.7h0M60.9 504.4h0M63.0 500.5h0M64.2 505.0h0M59.0 502.8h0M61.8 497.5h0M63.8 512.0h0M66.0 504.7h0M43.2 434.8h0M46.8 444.0h0M63.6 510.3h0M67.3 511.8h0M58.6 484.7h0M49.9 465.2h0M52.6 474.9h0M65.3 511.9h0M61.3 512.0h0M47.5 468.4h0M60.9 511.9h0M45.0 447.8h0M67.6 512.0h0M67.6 511.8h0M57.6 483.3h0M43.0 430.8h0M46.6 464.1h0M50.5 469.5h0M50.1 477.6h0M54.2 472.5h0M62.9 512.0h0M62.2 495.1h0M61.1 510.7h0M65.1 510.5h0M50.5 471.8h0M62.1 507.3h0M62.5 508.0h0M64.5 511.9h0M41.2 425.4h0M49.3 472.8h0M56.1 481.0h0M54.9 483.2h0M62.7 501.4h0M44.3 444.1h0M66.7 511.9h0M45.0 439.6h0M64.1 503.8h0M62.2 511.4h0M65.0 511.3h0M61.1 509.1h0M57.7 481.0h0M65.6 509.6h0M65.9 505.4h0M55.9 493.2h0M59.8 511.0h0M60.1 501.6h0M63.1 511.5h0M66.1 508.9h0M68.9 511.7h0M62.3 501.6h0M64.9 502.4h0M48.5 459.9h0M63.5 501.5h0M46.7 452.9h0M55.3 474.9h0M58.7 502.4h0M66.1 510.8h0M58.6 483.0h0M46.2 453.5h0M62.1 511.4h0M66.2 511.4h0M48.7 452.5h0M67.4 510.4h0M62.9 509.1h0M49.5 475.6h0M67.5 511.9h0M62.4 509.7h0M60.1 493.6h0M63.0 512.0h0M61.9 504.2h0M65.0 511.1h0M42.1 430.0h0M55.7 496.8h0M65.4 510.1h0M67.9 511.9h0M43.6 441.5h0M42.9 433.6h0M51.6 468.7h0M65.4 509.6h0M58.3 485.7h0M66.3 510.2h0M42.8 428.5h0M55.8 497.5h0M59.4 500.7h0M54.2 477.2h0M55.6 494.9h0M57.1 486.7h0M67.9 511.5h0M52.1 485.5h0M42.6 435.9h0M65.5 508.6h0M58.3 492.0h0M55.4 486.5h0M60.6 509.1h0M66.4 512.0h0M51.4 471.6h0M50.9 474.0h0M62.9 510.2h0M44.8 449.6h0M58.1 499.9h0M49.5 469.3h0M62.5 508.5h0M62.4 497.1h0M66.5 507.9h0M62.4 511.9h0M61.0 511.9h0M51.1 467.6h0M61.5 511.4h0M64.8 505.2h0M49.5 461.0h0M54.4 492.5h0M59.7 506.1h0M60.8 498.2h0M62.0 511.2h0M47.1 467.1h0M50.6 463.3h0M42.4 431.6h0M60.1 496.1h0M60.8 488.1h0M52.6 481.6h0M47.0 452.2h0M59.8 491.6h0M66.9 512.0h0M55.2 484.7h0M59.8 498.5h0M64.6 511.3h0M64.5 512.0h0M55.3 486.7h0M63.5 495.0h0M44.4 445.3h0M49.7 465.2h0M63.2 512.0h0M60.3 510.8h0M64.1 497.3h0M67.0 508.8h0M51.0 480.5h0M47.5 452.6h0M45.1 437.1h0M50.8 474.0h0M50.7 462.7h0M46.7 451.9h0M50.9 471.2h0M60.3 511.9h0M61.8 512.0h0M64.4 511.6h0M54.0 479.9h0M63.8 504.9h0M63.3 509.3h0M50.4 471.2h0M67.9 511.4h0M51.8 477.0h0M63.3 507.2h0M55.1 492.1h0M61.9 512.0h0M47.7 466.8h0M58.6 502.9h0M61.2 511.1h0M59.3 505.8h0M61.0 512.0h0M64.3 511.6h0M60.2 512.0h0M60.9 503.5h0M50.1 479.3h0M61.6 505.8h0M68.7 512.0h0M60.5 511.0h0M57.9 502.0h0M55.3 489.3h0M60.4 511.8h0M50.9 475.8h0M49.1 466.0h0M43.1 435.7h0M61.9 510.5h0M49.0 461.2h0M59.4 508.1h0M58.3 482.1h0M53.0 492.5h0M60.8 512.0h0M60.2 511.5h0M65.9 512.0h0M44.4 443.4h0M41.4 425.2h0M50.8 463.2h0M41.6 433.9h0M64.7 509.3h0M41.4 432.3h0M67.0 509.6h0M63.5 511.9h0M65.1 508.5h0M42.9 436.8h0M53.4 473.9h0M48.0 457.1h0M43.9 438.0h0M59.7 505.3h0M49.7 467.5h0M60.9 510.2h0M53.5 476.8h0M52.4 478.3h0M57.5 501.1h0M49.6 478.3h0M64.1 502.4h0M51.2 482.8h0M67.3 510.7h0M59.5 487.1h0M46.4 449.6h0M46.6 444.2h0M62.2 508.5h0M63.6 512.0h0M40.9 429.9h0M54.8 494.7h0M65.8 512.0h0M60.0 510.7h0M65.7 511.7h0M53.3 493.1h0M68.4 510.9h0M64.8 511.0h0M65.1 505.1h0M60.3 491.3h0M56.6 497.6h0M60.5 511.5h0M46.3 459.1h0M68.7 512.0h0M67.8 511.3h0M64.2 511.9h0M67.2 511.0h0M58.4 490.1h0M53.0 470.5h0M64.3 508.1h0M58.0 503.7h0M48.2 457.2h0M47.0 461.2h0M59.4 497.3h0M49.5 475.7h0M63.1 508.1h0M65.0 512.0h0M51.5 474.6h0M56.7 486.4h0M62.8 511.1h0M39.9 419.2h0M58.0 504.5h0M61.1 511.0h0M44.9 436.2h0M48.5 449.1h0M61.3 490.4h0M59.0 497.5h0M44.6 431.9h0M42.8 431.5h0M49.6 468.5h0M41.9 418.8h0M67.8 509.7h0M60.6 511.4h0M51.2 476.6h0M61.8 498.8h0M66.7 512.0h0M63.3 510.0h0M65.6 508.1h0M50.1 472.9h0M62.7 511.9h0M58.3 505.5h0M66.8 511.7h0M57.4 479.7h0M42.7 423.6h0M59.7 507.1h0M63.3 509.1h0M60.6 498.3h0M66.5 507.6h0M63.5 509.8h0M47.3 446.4h0M61.3 509.5h0M46.3 462.7h0M64.7 511.8h0M56.4 497.5h0M61.8 512.0h0M50.1 469.1h0M42.3 423.7h0M39.5 423.7h0M59.9 511.4h0M36.8 373.0h0M39.5 393.5h0M38.2 404.5h0M41.5 412.0h0" stroke="#f06a62" stroke-width="1.85" stroke-linecap="round" fill="none"/>
<path d="M145.5 505.8h0M144.3 512.0h0M142.7 511.9h0M146.6 510.8h0M144.7 506.4h0M143.5 512.0h0M152.7 493.0h0M162.6 453.5h0M141.9 510.8h0M157.7 478.4h0M150.9 501.9h0M147.9 499.1h0M140.8 511.6h0M154.6 491.5h0M161.2 454.7h0M155.4 489.3h0M158.6 470.5h0M146.5 506.5h0M141.9 511.6h0M156.3 487.4h0M148.8 499.4h0M145.1 508.6h0M157.5 472.1h0M162.7 444.0h0M145.2 509.6h0M148.9 506.6h0M160.7 468.4h0M148.0 494.3h0M150.5 497.4h0M146.3 503.1h0M156.6 484.5h0M145.2 511.9h0M145.8 508.1h0M162.6 456.7h0M150.1 491.5h0M160.9 451.9h0M148.3 507.7h0M143.4 509.6h0M164.6 446.0h0M144.3 509.5h0M142.1 510.3h0M147.9 510.8h0M142.1 512.0h0M141.3 511.4h0M150.7 500.8h0M159.7 466.6h0M155.9 469.9h0M148.0 510.3h0M142.4 512.0h0M146.1 503.3h0M146.1 499.5h0M147.7 511.0h0M146.9 511.8h0M147.6 511.6h0M153.9 488.4h0M141.0 511.8h0M154.4 478.3h0M146.5 511.5h0M158.5 460.4h0M163.9 443.7h0M143.1 507.7h0M149.5 507.4h0M142.1 510.3h0M141.5 511.8h0M148.4 508.6h0M141.9 512.0h0M164.4 448.2h0M164.1 439.5h0M148.7 508.6h0M149.3 503.2h0M141.6 509.6h0M147.2 508.8h0M157.3 475.2h0M147.6 504.3h0M147.2 505.3h0M157.5 467.5h0M153.6 495.8h0M158.0 465.0h0M165.0 443.1h0M142.5 511.6h0M141.1 511.4h0M164.5 439.9h0M158.6 460.8h0M146.6 512.0h0M159.9 473.5h0M153.6 487.2h0M154.2 477.4h0M148.9 499.8h0M144.8 511.8h0M145.2 509.4h0M144.5 508.0h0M146.3 508.5h0M166.2 439.4h0M161.3 462.6h0M148.2 510.2h0M142.0 510.5h0M150.0 502.3h0M146.4 508.9h0M148.1 510.3h0M147.0 504.8h0M151.9 500.4h0M165.3 438.1h0M147.8 505.4h0M143.5 512.0h0M160.6 465.1h0M146.5 512.0h0M149.4 507.6h0M143.6 508.2h0M152.3 499.3h0M149.4 505.8h0M153.5 484.3h0M145.0 509.9h0M145.2 507.1h0M154.6 490.7h0M147.9 496.6h0M143.5 511.2h0M148.8 494.1h0M142.8 512.0h0M141.4 510.3h0M152.4 500.0h0M150.9 500.3h0M160.3 468.2h0M161.4 453.4h0M151.0 487.5h0M159.9 459.5h0M150.5 503.7h0M142.6 510.2h0M159.0 469.0h0M140.7 512.0h0M141.9 508.7h0M157.4 467.6h0M143.9 510.4h0M148.0 501.7h0M152.6 492.9h0M143.9 505.6h0M165.4 439.7h0M143.6 512.0h0M158.7 479.0h0M140.6 512.0h0M147.2 503.5h0M162.1 456.9h0M144.6 509.2h0M153.0 496.8h0M143.5 511.4h0M145.0 511.9h0M147.0 512.0h0M149.4 500.9h0M142.1 512.0h0M150.1 504.1h0M147.7 499.9h0M165.5 439.1h0M146.7 500.6h0M147.7 510.0h0M144.3 511.8h0M150.4 493.7h0M158.7 477.0h0M160.7 463.4h0M141.2 511.4h0M145.4 505.8h0M146.9 511.4h0M146.6 511.2h0M161.5 448.5h0M161.3 453.3h0M142.1 511.3h0M144.0 512.0h0M148.4 507.6h0M156.8 467.5h0M145.4 507.0h0M142.4 511.6h0M146.0 510.6h0M142.6 509.0h0M144.0 511.2h0M148.0 498.1h0M152.2 485.6h0M153.6 488.8h0M145.9 511.6h0M146.3 507.3h0M151.6 495.6h0M143.7 505.3h0M159.0 474.5h0M148.6 502.9h0M147.5 510.5h0M151.8 487.2h0M160.6 469.9h0M148.9 508.8h0M145.4 503.3h0M153.6 483.6h0M155.6 481.8h0M144.2 511.9h0M159.4 464.6h0M152.0 499.9h0M146.9 505.1h0M152.6 496.8h0M141.4 511.4h0M156.5 478.0h0M147.7 509.9h0M160.7 458.7h0M166.3 437.6h0M154.5 479.8h0M145.3 512.0h0M154.4 481.4h0M148.2 503.6h0M145.9 510.8h0M149.0 498.3h0M144.4 511.9h0M146.7 509.5h0M143.4 511.6h0M143.6 511.4h0M147.4 497.3h0M143.9 512.0h0M144.3 511.4h0M141.4 511.6h0M152.4 500.0h0M160.1 461.6h0M143.0 507.2h0M143.4 510.4h0M161.7 447.7h0M163.1 446.4h0M145.0 505.7h0M163.0 443.3h0M150.1 497.6h0M142.3 511.4h0M166.0 438.3h0M157.4 481.6h0M145.5 511.9h0M154.3 479.4h0M150.7 504.6h0M147.0 509.3h0M145.3 511.7h0M144.7 510.5h0M148.4 508.0h0M155.6 480.2h0M153.0 487.0h0M156.6 471.9h0M150.0 499.6h0M142.7 507.5h0M145.2 511.6h0M146.1 511.3h0M151.7 502.1h0M160.4 465.1h0M142.5 508.0h0M151.5 498.7h0M161.0 451.8h0M147.5 511.7h0M155.3 480.9h0M153.3 481.0h0M150.6 499.6h0M148.6 495.1h0M145.0 511.8h0M159.2 458.7h0M141.1 512.0h0M156.5 474.7h0M150.8 504.7h0M149.5 494.4h0M151.0 485.5h0M146.2 510.3h0M140.9 511.6h0M147.4 501.3h0M163.2 441.5h0M157.1 472.3h0M157.5 471.8h0M151.8 489.1h0M144.0 511.1h0M156.8 472.5h0M143.8 511.1h0M142.7 511.9h0M150.4 497.5h0M149.3 495.6h0M140.7 512.0h0M143.1 509.0h0M148.3 497.8h0M156.8 477.9h0M154.1 489.6h0M148.2 501.1h0M141.9 509.7h0M157.4 473.4h0M147.0 511.9h0M151.2 496.8h0M144.1 505.5h0M165.0 435.1h0M177.5 354.4h0M166.0 432.0h0M168.0 436.0h0" stroke="#66b2ee" stroke-width="1.85" stroke-linecap="round" fill="none"/>
<line x1="28.2" y1="509.5" x2="186.0" y2="509.5" stroke="#f06a62" stroke-width="0.6" stroke-dasharray="1,1"/>
<line x1="42.0" y1="409.0" x2="46.3" y2="403.7" stroke="#222" stroke-width="0.35"/><line x1="40.0" y1="428.0" x2="31.2" y2="414.5" stroke="#222" stroke-width="0.35"/><line x1="43.0" y1="425.0" x2="50.0" y2="421.0" stroke="#222" stroke-width="0.35"/><line x1="44.0" y1="436.0" x2="47.0" y2="432.0" stroke="#222" stroke-width="0.35"/><line x1="44.0" y1="437.0" x2="68.6" y2="432.0" stroke="#222" stroke-width="0.35"/><line x1="47.0" y1="443.0" x2="52.0" y2="443.0" stroke="#222" stroke-width="0.35"/><line x1="47.0" y1="461.0" x2="31.5" y2="453.9" stroke="#222" stroke-width="0.35"/><line x1="48.0" y1="452.0" x2="72.6" y2="454.0" stroke="#222" stroke-width="0.35"/><line x1="52.0" y1="468.0" x2="81.8" y2="465.0" stroke="#222" stroke-width="0.35"/><line x1="55.0" y1="486.0" x2="74.5" y2="476.0" stroke="#222" stroke-width="0.35"/><line x1="48.0" y1="470.0" x2="31.2" y2="487.4" stroke="#222" stroke-width="0.35"/><line x1="58.0" y1="490.0" x2="80.7" y2="487.0" stroke="#222" stroke-width="0.35"/><line x1="60.0" y1="494.0" x2="85.7" y2="499.0" stroke="#222" stroke-width="0.35"/><line x1="63.0" y1="500.0" x2="69.7" y2="510.0" stroke="#222" stroke-width="0.35"/><line x1="62.0" y1="497.0" x2="97.8" y2="510.0" stroke="#222" stroke-width="0.35"/><line x1="60.0" y1="505.0" x2="31.8" y2="521.0" stroke="#222" stroke-width="0.35"/><line x1="66.0" y1="508.0" x2="84.8" y2="521.0" stroke="#222" stroke-width="0.35"/><line x1="59.0" y1="510.0" x2="42.9" y2="531.8" stroke="#222" stroke-width="0.35"/><line x1="65.0" y1="510.0" x2="62.6" y2="531.8" stroke="#222" stroke-width="0.35"/><line x1="66.0" y1="512.0" x2="78.7" y2="531.8" stroke="#222" stroke-width="0.35"/><line x1="164.0" y1="434.0" x2="130.0" y2="431.7" stroke="#222" stroke-width="0.35"/><line x1="162.0" y1="440.0" x2="111.5" y2="443.0" stroke="#222" stroke-width="0.35"/><line x1="161.0" y1="449.0" x2="127.3" y2="454.4" stroke="#222" stroke-width="0.35"/><line x1="157.0" y1="472.0" x2="120.6" y2="465.5" stroke="#222" stroke-width="0.35"/><line x1="160.0" y1="462.0" x2="163.0" y2="465.5" stroke="#222" stroke-width="0.35"/><line x1="152.0" y1="490.0" x2="106.5" y2="476.5" stroke="#222" stroke-width="0.35"/><line x1="158.0" y1="470.0" x2="162.5" y2="476.5" stroke="#222" stroke-width="0.35"/><line x1="143.0" y1="510.0" x2="111.5" y2="499.0" stroke="#222" stroke-width="0.35"/><line x1="150.0" y1="494.0" x2="155.8" y2="499.0" stroke="#222" stroke-width="0.35"/><line x1="143.0" y1="512.0" x2="121.3" y2="521.4" stroke="#222" stroke-width="0.35"/><line x1="144.0" y1="512.0" x2="147.4" y2="521.4" stroke="#222" stroke-width="0.35"/><text x="155.8" y="355.6" font-size="5.8" fill="#111">Nphs1</text><text x="38.5" y="375.0" font-size="5.8" fill="#111">Rasgrf2</text><text x="30.8" y="396.8" font-size="5.8" fill="#111">Vip</text><text x="46.3" y="405.7" font-size="5.8" fill="#111">Hspa13</text><text x="31.2" y="416.5" font-size="5.8" fill="#111">Pam</text><text x="50.0" y="423.0" font-size="5.8" fill="#111">Anxa11</text><text x="31.2" y="427.6" font-size="5.8" fill="#111">Stx6</text><text x="47.0" y="434.0" font-size="5.8" fill="#111">Egln1</text><text x="68.6" y="434.0" font-size="5.8" fill="#111">Wfs1</text><text x="31.5" y="445.0" font-size="5.8" fill="#111">Traf2</text><text x="52.0" y="445.0" font-size="5.8" fill="#111">Neurl1a</text><text x="31.5" y="455.9" font-size="5.8" fill="#111">Bdnf</text><text x="50.0" y="456.0" font-size="5.8" fill="#111">Megf9</text><text x="72.6" y="456.0" font-size="5.8" fill="#111">Calb1</text><text x="32.0" y="467.3" font-size="5.8" fill="#111">Penk</text><text x="57.2" y="467.0" font-size="5.8" fill="#111">Olfr653</text><text x="81.8" y="467.0" font-size="5.8" fill="#111">Prkca</text><text x="31.2" y="478.2" font-size="5.8" fill="#111">Fer1l6</text><text x="53.2" y="478.0" font-size="5.8" fill="#111">Col4a2</text><text x="74.5" y="478.0" font-size="5.8" fill="#111">Lig4</text><text x="31.2" y="489.4" font-size="5.8" fill="#111">Gucy1a1</text><text x="61.8" y="489.0" font-size="5.8" fill="#111">Dlg4</text><text x="80.7" y="489.0" font-size="5.8" fill="#111">Ankrd37</text><text x="30.0" y="501.0" font-size="5.8" fill="#111">Gm20388</text><text x="63.7" y="501.0" font-size="5.8" fill="#111">Pcp4l2</text><text x="85.7" y="501.0" font-size="5.8" fill="#111">Vmn1r191</text><text x="42.5" y="512.0" font-size="5.8" fill="#111">Umod</text><text x="69.7" y="512.0" font-size="5.8" fill="#111">Pde4dip</text><text x="97.8" y="512.0" font-size="5.8" fill="#111">Dlgap1</text><text x="31.8" y="523.0" font-size="5.8" fill="#111">Camta2</text><text x="59.6" y="523.0" font-size="5.8" fill="#111">Olfr693</text><text x="84.8" y="523.0" font-size="5.8" fill="#111">Fam171a1</text><text x="42.9" y="533.8" font-size="5.8" fill="#111">Nrgn</text><text x="62.6" y="533.8" font-size="5.8" fill="#111">Otp</text><text x="78.7" y="533.8" font-size="5.8" fill="#111">Rgs6</text><text x="130.0" y="433.7" font-size="5.8" fill="#111">Gsdmc2</text><text x="158.0" y="432.0" font-size="5.8" fill="#111">Olfr1325</text><text x="111.5" y="445.0" font-size="5.8" fill="#111">1500009L16Rik</text><text x="158.5" y="445.5" font-size="5.8" fill="#111">Olfr1106</text><text x="127.3" y="456.4" font-size="5.8" fill="#111">Cep295nl</text><text x="161.5" y="456.4" font-size="5.8" fill="#111">Sanbr</text><text x="120.6" y="467.5" font-size="5.8" fill="#111">Fut10</text><text x="141.7" y="467.5" font-size="5.8" fill="#111">Clip3</text><text x="163.0" y="467.5" font-size="5.8" fill="#111">Lcn8</text><text x="106.5" y="478.5" font-size="5.8" fill="#111">Scgb3a1</text><text x="136.7" y="478.5" font-size="5.8" fill="#111">Defa17</text><text x="162.5" y="478.5" font-size="5.8" fill="#111">Dhdh</text><text x="133.0" y="490.3" font-size="5.8" fill="#111">Cldn7</text><text x="155.8" y="490.3" font-size="5.8" fill="#111">Spdye4b</text><text x="111.5" y="501.0" font-size="5.8" fill="#111">Mettl7b</text><text x="137.4" y="501.0" font-size="5.8" fill="#111">Cort</text><text x="155.8" y="501.0" font-size="5.8" fill="#111">Faf1</text><text x="126.3" y="512.4" font-size="5.8" fill="#111">Rhag</text><text x="147.4" y="512.4" font-size="5.8" fill="#111">Uchl3</text><text x="121.3" y="523.4" font-size="5.8" fill="#111">Olfr593</text><text x="147.4" y="523.4" font-size="5.8" fill="#111">Olfr510</text>
<text x="1.5" y="619.7" font-size="14.5" font-weight="bold" fill="#000">D</text>
<rect x="20.9" y="647.9" width="171.1" height="206.6" fill="#f5f5f5" stroke="none" stroke-width="1"/>
<line x1="44.5" y1="647.9" x2="44.5" y2="854.5" stroke="#fafafa" stroke-width="0.5"/>
<line x1="88.5" y1="647.9" x2="88.5" y2="854.5" stroke="#fafafa" stroke-width="0.5"/>
<line x1="132.5" y1="647.9" x2="132.5" y2="854.5" stroke="#fafafa" stroke-width="0.5"/>
<line x1="176.5" y1="647.9" x2="176.5" y2="854.5" stroke="#fafafa" stroke-width="0.5"/>
<line x1="20.9" y1="813.8" x2="192.0" y2="813.8" stroke="#fafafa" stroke-width="0.5"/>
<line x1="20.9" y1="752.8" x2="192.0" y2="752.8" stroke="#fafafa" stroke-width="0.5"/>
<line x1="20.9" y1="691.8" x2="192.0" y2="691.8" stroke="#fafafa" stroke-width="0.5"/>
<line x1="22.5" y1="647.9" x2="22.5" y2="854.5" stroke="#ffffff" stroke-width="0.9"/>
<line x1="66.5" y1="647.9" x2="66.5" y2="854.5" stroke="#ffffff" stroke-width="0.9"/>
<line x1="110.5" y1="647.9" x2="110.5" y2="854.5" stroke="#ffffff" stroke-width="0.9"/>
<line x1="154.5" y1="647.9" x2="154.5" y2="854.5" stroke="#ffffff" stroke-width="0.9"/>
<line x1="20.9" y1="844.3" x2="192.0" y2="844.3" stroke="#ffffff" stroke-width="0.9"/>
<line x1="20.9" y1="783.3" x2="192.0" y2="783.3" stroke="#ffffff" stroke-width="0.9"/>
<line x1="20.9" y1="722.3" x2="192.0" y2="722.3" stroke="#ffffff" stroke-width="0.9"/>
<line x1="20.9" y1="661.3" x2="192.0" y2="661.3" stroke="#ffffff" stroke-width="0.9"/>
<text x="60.8" y="638.7" font-size="9.7" font-weight="bold" fill="#000">18-month-old mice</text>
<text x="22.5" y="863.6" font-size="6.7" text-anchor="middle" fill="#333">-1.00</text>
<line x1="22.5" y1="854.5" x2="22.5" y2="856.0" stroke="#333" stroke-width="0.5"/>
<text x="66.5" y="863.6" font-size="6.7" text-anchor="middle" fill="#333">-0.5</text>
<line x1="66.5" y1="854.5" x2="66.5" y2="856.0" stroke="#333" stroke-width="0.5"/>
<text x="110.5" y="863.6" font-size="6.7" text-anchor="middle" fill="#333">0.0</text>
<line x1="110.5" y1="854.5" x2="110.5" y2="856.0" stroke="#333" stroke-width="0.5"/>
<text x="154.5" y="863.6" font-size="6.7" text-anchor="middle" fill="#333">0.5</text>
<line x1="154.5" y1="854.5" x2="154.5" y2="856.0" stroke="#333" stroke-width="0.5"/>
<text x="18.3" y="846.5" font-size="6.4" text-anchor="end" fill="#333">0</text>
<line x1="19.4" y1="844.3" x2="20.9" y2="844.3" stroke="#333" stroke-width="0.5"/>
<text x="18.3" y="785.5" font-size="6.4" text-anchor="end" fill="#333">2</text>
<line x1="19.4" y1="783.3" x2="20.9" y2="783.3" stroke="#333" stroke-width="0.5"/>
<text x="18.3" y="724.5" font-size="6.4" text-anchor="end" fill="#333">4</text>
<line x1="19.4" y1="722.3" x2="20.9" y2="722.3" stroke="#333" stroke-width="0.5"/>
<text x="18.3" y="663.5" font-size="6.4" text-anchor="end" fill="#333">6</text>
<line x1="19.4" y1="661.3" x2="20.9" y2="661.3" stroke="#333" stroke-width="0.5"/>
<text x="105.6" y="872.5" font-size="7.6" text-anchor="middle" fill="#000">correlation coeffcicient R</text>
<text transform="translate(10.6,748.4) rotate(-90)" font-size="7.6" text-anchor="middle">-log<tspan font-size="5" dy="1.5">10</tspan><tspan dy="-1.5">(p-value)</tspan></text>
<path d="M69,808 C76,816 84,825 92,831 C99,837 105,841 110.5,841 C116,840 123,833 130,826 C137,818 143,812 150,806" fill="none" stroke="#bcbcbc" stroke-width="8" stroke-linecap="round" stroke-linejoin="round"/>
<line x1="110.5" y1="647.9" x2="110.5" y2="854.5" stroke="#9a9a9a" stroke-width="0.6" stroke-dasharray="0.8,0.8"/>
<path d="M57.8 783.8h0M53.3 762.3h0M55.1 770.1h0M67.6 808.0h0M45.3 736.7h0M42.8 744.7h0M59.4 796.4h0M59.7 791.0h0M64.6 808.0h0M71.4 805.0h0M47.1 766.5h0M46.1 762.0h0M51.8 784.3h0M72.5 808.0h0M63.9 806.6h0M45.0 728.7h0M71.8 804.7h0M61.0 791.3h0M72.6 806.7h0M57.6 776.3h0M44.5 746.0h0M61.2 802.1h0M62.5 807.4h0M67.4 804.3h0M70.1 808.0h0M63.3 803.1h0M48.5 758.7h0M65.7 803.9h0M48.3 774.6h0M39.2 730.3h0M54.0 768.7h0M71.5 808.0h0M65.9 801.9h0M62.6 808.0h0M72.9 807.0h0M70.4 806.8h0M48.1 739.3h0M63.7 802.8h0M62.8 792.5h0M70.8 807.7h0M52.5 762.0h0M73.3 808.0h0M66.0 807.8h0M59.9 785.0h0M70.4 803.0h0M56.9 790.9h0M62.1 803.8h0M63.7 807.9h0M57.9 776.5h0M62.2 807.3h0M42.4 727.8h0M61.0 800.0h0M59.5 786.6h0M61.7 797.2h0M73.0 808.0h0M67.9 808.0h0M45.0 755.5h0M55.8 771.2h0M58.0 783.0h0M67.1 807.8h0M71.8 807.4h0M65.7 804.5h0M44.0 725.2h0M42.3 730.1h0M64.1 795.1h0M59.6 795.8h0M60.0 800.1h0M70.3 801.4h0M44.3 733.4h0M59.3 794.4h0M65.2 807.8h0M53.1 764.2h0M68.4 802.1h0M51.7 765.2h0M56.6 779.4h0M67.4 802.0h0M66.3 804.9h0M51.9 766.0h0M71.5 804.6h0M55.3 781.0h0M68.6 808.0h0M68.9 805.7h0M65.9 796.8h0M57.5 781.2h0M67.0 802.7h0M54.3 770.4h0M69.3 802.6h0M48.5 750.2h0M46.0 730.1h0M60.5 793.0h0M71.6 807.2h0M44.2 737.8h0M55.2 776.2h0M48.4 771.3h0M50.5 764.4h0M53.2 779.2h0M58.1 783.7h0M57.1 782.3h0M63.9 808.0h0M64.7 798.1h0M69.4 806.4h0M50.5 782.9h0M59.1 796.2h0M63.6 808.0h0M62.2 803.8h0M61.9 806.8h0M61.0 796.6h0M56.6 784.9h0M71.8 806.0h0M66.9 808.0h0M65.4 805.0h0M71.8 807.7h0M59.4 801.6h0M51.6 784.7h0M57.1 790.9h0M61.5 787.8h0M48.0 758.7h0M50.1 759.5h0M60.8 801.8h0M56.8 786.4h0M47.1 733.9h0M54.3 785.2h0M42.2 746.1h0M68.7 807.7h0M52.0 784.5h0M59.0 783.1h0M64.0 801.5h0M64.7 806.3h0M41.9 730.8h0M46.4 733.1h0M53.7 786.4h0M42.4 729.0h0M61.7 799.5h0M42.2 728.4h0M66.1 804.8h0M69.3 807.7h0M60.7 798.0h0M52.7 764.2h0M68.4 808.0h0M71.7 805.1h0M47.5 764.2h0M62.6 805.3h0M40.6 727.4h0M55.6 785.2h0M55.7 781.5h0M47.4 769.6h0M48.5 767.3h0M57.7 791.8h0M66.6 804.5h0M60.8 796.7h0M51.8 769.4h0M65.0 808.0h0M67.3 797.2h0M46.7 747.1h0M71.3 808.0h0M64.3 798.9h0M53.7 774.2h0M66.3 795.6h0M63.3 801.0h0M45.2 753.3h0M70.1 804.5h0M72.0 807.9h0M52.3 775.8h0M69.7 804.8h0M42.6 742.9h0M62.4 795.8h0M59.3 794.5h0M68.7 807.4h0M45.1 759.7h0M70.9 806.2h0M50.9 762.8h0M70.7 808.0h0M46.2 729.5h0M48.3 775.0h0M45.6 754.9h0M59.1 781.4h0M48.7 773.6h0M71.2 804.6h0M69.0 807.4h0M60.0 799.6h0M50.8 783.8h0M66.4 807.7h0M62.6 807.9h0M59.7 788.3h0M43.8 748.7h0M61.2 798.7h0M55.9 786.0h0M43.3 737.6h0M70.3 808.0h0M69.3 807.4h0M65.2 793.9h0M59.6 790.1h0M67.3 805.4h0M69.8 805.6h0M56.3 793.1h0M65.5 806.1h0M48.2 770.5h0M53.7 773.5h0M69.9 807.9h0M63.4 807.8h0M53.6 786.6h0M46.6 749.0h0M69.3 803.6h0M70.7 808.0h0M63.8 808.0h0M45.1 735.0h0M62.6 806.3h0M44.0 730.8h0M45.5 758.4h0M53.8 783.6h0M65.1 806.1h0M54.1 784.7h0M60.3 801.0h0M49.5 756.7h0M48.5 760.9h0M47.8 753.3h0M57.0 786.7h0M50.1 770.0h0M62.3 807.8h0M61.9 806.7h0M46.1 746.8h0M45.7 767.3h0M66.5 796.3h0M54.7 784.1h0M57.9 796.6h0M63.6 807.4h0M63.5 801.5h0M43.9 748.4h0M64.2 805.6h0M65.1 807.3h0M66.8 806.1h0M73.1 808.0h0M69.9 801.8h0M54.9 776.6h0M67.1 796.2h0M69.9 807.7h0M68.4 804.6h0M48.4 771.5h0M61.7 806.7h0M62.1 806.2h0M69.5 800.3h0M62.8 802.0h0M59.8 796.5h0M53.5 771.1h0M64.5 807.3h0M58.0 778.5h0M53.9 781.4h0M39.0 730.2h0M71.3 807.9h0M58.7 799.8h0M63.8 790.6h0M58.5 792.9h0M62.8 807.8h0M45.8 745.1h0M41.0 738.2h0M61.6 805.9h0M59.2 800.5h0M65.7 805.6h0M60.8 804.2h0M73.7 808.0h0M67.6 807.0h0M64.5 800.2h0M65.7 807.9h0M68.4 807.7h0M45.8 740.9h0M45.2 752.5h0M68.5 808.0h0M62.4 795.2h0M66.2 801.4h0M55.7 771.9h0M65.5 804.1h0M46.1 757.4h0M65.6 807.7h0M71.2 807.9h0M47.0 758.5h0M62.8 807.6h0M62.0 805.9h0M64.3 798.8h0M61.7 805.8h0M48.3 775.1h0M64.8 806.7h0M60.2 801.6h0M61.5 799.3h0M51.2 768.4h0M47.2 745.6h0M51.1 767.4h0M66.6 798.1h0M58.8 780.3h0M53.5 771.6h0M70.3 805.3h0M60.3 801.2h0M64.0 807.9h0M68.8 805.4h0M61.3 804.8h0M50.8 766.8h0M62.6 808.0h0M66.1 807.6h0M50.9 752.0h0M53.0 784.8h0M61.9 798.8h0M60.0 803.3h0M60.0 787.5h0M47.8 771.8h0M56.1 792.0h0M51.8 774.0h0M46.6 737.6h0M65.6 807.7h0M45.0 742.1h0M62.6 798.5h0M54.2 766.3h0M64.5 791.9h0M52.2 786.4h0M48.1 759.4h0M73.7 808.0h0M68.9 808.0h0M66.0 795.6h0M61.1 800.7h0M63.0 805.1h0M56.4 789.4h0M48.2 768.6h0M62.3 802.5h0M44.8 728.7h0M48.6 753.6h0M60.1 800.3h0M48.2 756.6h0M64.0 808.0h0M70.5 807.8h0M43.5 744.9h0M47.8 762.0h0M56.9 777.2h0M58.3 783.7h0M59.1 801.5h0M61.4 793.5h0M66.2 807.0h0M60.4 803.8h0M64.6 804.0h0M64.2 795.9h0M69.7 800.4h0M52.4 759.2h0M54.6 776.0h0M62.4 791.5h0M66.1 802.1h0M53.7 777.6h0M61.5 804.8h0M66.2 807.9h0M59.5 787.8h0M50.3 773.4h0M42.9 739.4h0M48.0 773.2h0M52.2 768.3h0M46.5 734.0h0M56.4 776.6h0M52.2 770.2h0M67.5 806.6h0M44.0 745.6h0M43.0 730.4h0M58.6 800.7h0M60.7 800.8h0M58.3 780.6h0M46.4 743.0h0M60.0 801.0h0M53.6 776.5h0M50.9 773.3h0M44.1 747.3h0M63.4 804.2h0M59.3 783.8h0M69.2 807.2h0M47.6 766.4h0M68.8 807.9h0M51.5 756.8h0M50.8 771.6h0M63.8 799.0h0M44.1 744.0h0M67.7 804.9h0M40.7 732.0h0M63.4 808.0h0M59.0 789.4h0M63.8 807.0h0M57.7 786.5h0M55.3 776.3h0M67.8 807.9h0M52.0 756.1h0M70.0 803.8h0M58.9 781.4h0M69.4 806.2h0M47.8 755.1h0M64.2 807.8h0M62.8 807.3h0M69.1 807.4h0M71.0 807.8h0M54.3 770.6h0M51.0 761.0h0M48.5 740.4h0M59.9 783.5h0M63.1 807.8h0M64.4 807.9h0M64.3 801.5h0M55.8 777.5h0M66.8 807.9h0M57.6 791.0h0M69.0 807.7h0M66.9 801.5h0M66.3 794.6h0M40.7 736.3h0M52.4 767.4h0M61.8 804.5h0M60.3 795.8h0M55.2 770.4h0M62.2 801.2h0M63.3 794.4h0M50.2 763.2h0M64.3 804.5h0M47.9 753.9h0M67.0 808.0h0M69.0 806.0h0M65.2 807.9h0M67.6 807.8h0M42.5 728.3h0M69.5 801.0h0M66.2 807.8h0M44.6 759.9h0M48.9 766.5h0M65.0 808.0h0M61.2 797.1h0M55.4 793.1h0M72.8 806.4h0M62.7 798.0h0M65.3 807.9h0M45.0 734.4h0M55.8 793.7h0M67.5 800.7h0M64.3 798.5h0M46.9 744.5h0M50.3 782.4h0M71.2 808.0h0M68.1 799.7h0M51.9 757.6h0M70.4 801.4h0M54.1 767.9h0M71.1 807.4h0M68.9 799.2h0M39.8 726.3h0M61.0 799.2h0M59.8 796.4h0M50.2 779.1h0M67.1 807.2h0M66.5 807.9h0M49.0 745.4h0M61.7 806.8h0M52.2 757.1h0M52.4 786.1h0M72.0 806.0h0M40.7 737.8h0M66.6 807.0h0M69.7 805.3h0M68.0 801.6h0M67.9 807.4h0M44.2 730.3h0M63.3 807.8h0M53.5 781.6h0M64.6 801.8h0M61.5 787.7h0M67.8 805.9h0M67.2 805.4h0M48.0 771.2h0M64.1 795.6h0M71.3 808.0h0M63.7 799.4h0M58.7 785.0h0M68.0 808.0h0M66.6 808.0h0M59.8 802.8h0M65.6 804.4h0M58.5 780.4h0M65.2 801.7h0M56.4 773.5h0M47.6 735.4h0M62.3 804.3h0M41.3 738.9h0M65.5 797.7h0M58.5 792.2h0M43.3 740.3h0M61.9 790.3h0M66.0 807.5h0M62.0 794.7h0M66.8 806.6h0M63.0 807.9h0M61.3 802.9h0M41.3 731.8h0M69.9 805.1h0M48.8 769.9h0M49.4 757.0h0M65.9 800.9h0M64.1 805.8h0M46.3 749.1h0M43.4 745.4h0M62.4 807.5h0M51.7 770.1h0M62.5 808.0h0M48.4 757.8h0M43.3 750.0h0M52.5 787.1h0M53.0 772.5h0M52.9 784.8h0M40.9 735.6h0M70.2 807.9h0M62.7 807.8h0M64.1 797.0h0M47.9 746.3h0M69.7 807.9h0M44.8 754.7h0M48.3 768.1h0M60.4 804.4h0M50.6 767.6h0M45.5 744.5h0M64.3 807.3h0M72.0 805.4h0M62.4 806.6h0M60.4 802.5h0M64.9 799.0h0M51.2 780.9h0M67.7 807.5h0M52.7 776.7h0M61.5 788.5h0M64.9 807.5h0M61.7 794.7h0M46.3 744.9h0M53.3 779.6h0M52.7 763.9h0M61.7 804.6h0M65.1 805.5h0M44.4 746.8h0M56.5 783.1h0M40.6 734.1h0M48.6 765.9h0M69.5 807.8h0M48.5 754.5h0M73.6 808.0h0M66.1 801.1h0M49.5 772.2h0M62.0 799.9h0M62.7 807.8h0M51.2 773.1h0M43.5 750.3h0M62.4 804.3h0M46.4 736.7h0M46.0 745.6h0M66.9 807.8h0M61.5 806.3h0M55.6 789.2h0M68.0 807.7h0M48.0 738.7h0M57.9 796.6h0M46.6 766.1h0M54.8 791.5h0M42.4 727.7h0M60.6 798.3h0M63.5 790.4h0M60.1 798.9h0M64.9 793.2h0M33.5 657.0h0M35.0 673.0h0M33.5 683.0h0M37.0 689.0h0M42.0 695.0h0M40.0 713.0h0" stroke="#f06a62" stroke-width="1.85" stroke-linecap="round" fill="none"/>
<path d="M154.5 801.6h0M171.9 745.4h0M169.4 762.8h0M145.8 807.5h0M173.6 741.8h0M158.7 798.6h0M158.9 789.6h0M154.3 805.0h0M151.1 805.7h0M168.3 770.0h0M147.4 807.6h0M166.8 777.7h0M156.1 807.8h0M147.0 807.6h0M150.0 807.9h0M164.5 785.5h0M153.0 807.3h0M151.5 807.8h0M149.8 805.8h0M152.9 808.0h0M153.5 807.7h0M153.3 803.4h0M161.7 783.6h0M174.2 753.1h0M149.8 805.1h0M169.0 752.6h0M152.8 799.8h0M173.4 734.7h0M165.1 782.0h0M161.3 773.8h0M172.9 740.9h0M171.8 756.4h0M157.4 799.8h0M161.9 779.8h0M166.4 773.4h0M166.5 775.8h0M165.8 764.9h0M150.3 795.5h0M170.8 765.6h0M166.8 758.9h0M156.9 792.6h0M147.4 807.7h0M177.2 735.1h0M154.8 806.1h0M161.2 782.4h0M159.4 783.1h0M146.2 805.3h0M163.4 781.9h0M166.8 771.9h0M152.0 799.1h0M165.2 772.9h0M162.5 787.6h0M156.2 798.5h0M147.9 807.9h0M167.7 758.3h0M145.2 808.0h0M164.0 769.0h0M153.9 797.8h0M168.7 763.9h0M151.7 793.6h0M170.9 765.0h0M164.5 785.2h0M162.9 786.0h0M171.5 756.7h0M154.7 808.0h0M174.5 732.1h0M148.8 807.9h0M149.1 807.8h0M147.5 807.9h0M149.7 808.0h0M154.3 804.6h0M149.6 801.3h0M176.6 739.1h0M161.4 778.4h0M152.9 800.7h0M148.5 800.4h0M157.3 797.9h0M168.0 777.9h0M166.5 779.1h0M174.1 753.6h0M167.8 765.3h0M164.4 781.5h0M173.1 751.6h0M150.9 798.6h0M149.5 803.7h0M166.5 779.2h0M151.3 806.9h0M169.3 758.4h0M151.7 807.8h0M148.9 802.4h0M146.4 804.9h0M149.9 807.4h0M145.2 807.8h0M162.5 791.5h0M168.8 759.3h0M170.6 744.4h0M145.3 807.4h0M151.6 808.0h0M167.0 770.2h0M168.5 763.9h0M173.6 745.4h0M153.8 792.5h0M153.2 799.5h0M167.6 761.0h0M155.2 804.7h0M150.9 807.9h0M152.9 806.5h0M155.8 787.8h0M165.4 773.6h0M156.0 803.9h0M166.3 767.3h0M159.9 779.6h0M152.1 793.8h0M166.1 783.5h0M157.1 783.9h0M155.9 794.2h0M150.5 798.6h0M151.1 805.2h0M152.4 807.9h0M149.0 806.0h0M148.4 807.8h0M172.2 743.2h0M148.9 807.8h0M171.7 740.7h0M149.3 803.2h0M163.5 779.2h0M154.6 807.8h0M154.2 803.7h0M158.4 798.1h0M147.5 808.0h0M149.1 805.0h0M169.7 761.1h0M152.5 803.0h0M171.0 757.5h0M156.1 798.1h0M159.8 786.0h0M149.9 799.5h0M158.2 798.8h0M150.5 804.4h0M161.2 787.0h0M150.2 807.2h0M161.9 773.1h0M153.4 807.8h0M169.7 747.8h0M151.9 807.9h0M153.4 805.0h0M150.0 808.0h0M148.9 807.3h0M164.5 777.9h0M173.1 756.3h0M164.4 785.5h0M150.6 807.1h0M153.4 804.0h0M154.8 807.7h0M155.9 802.1h0M176.4 741.1h0M157.0 801.2h0M174.5 730.6h0M169.1 771.4h0M152.2 797.8h0M149.9 807.2h0M172.9 743.1h0M152.7 805.8h0M155.3 798.9h0M152.2 798.0h0M154.0 808.0h0M160.2 781.6h0M156.6 795.2h0M160.1 794.9h0M166.3 767.3h0M153.6 803.3h0M155.5 807.3h0M150.5 808.0h0M151.8 805.3h0M147.5 808.0h0M177.5 732.2h0M150.6 806.5h0M146.3 808.0h0M156.2 806.9h0M149.3 804.2h0M146.2 807.9h0M177.5 730.9h0M175.0 745.1h0M166.0 766.8h0M148.3 807.2h0M147.0 807.9h0M165.7 774.8h0M148.4 808.0h0M173.1 757.0h0M168.6 773.6h0M173.0 746.7h0M153.8 801.6h0M146.6 805.1h0M151.0 805.7h0M146.0 807.7h0M149.9 805.9h0M174.5 738.4h0M172.0 758.9h0M157.9 788.0h0M151.3 801.1h0M165.2 784.1h0M166.7 765.7h0M145.3 807.4h0M156.6 788.7h0M148.3 808.0h0M147.9 806.3h0M163.8 781.1h0M154.2 805.1h0M155.6 806.7h0M151.6 807.7h0M167.4 776.6h0M159.2 796.0h0M163.3 784.6h0M147.1 807.9h0M155.2 797.3h0M153.2 807.8h0M152.2 803.0h0M160.1 793.6h0M152.5 804.5h0M161.9 786.8h0M149.6 804.2h0M155.9 797.0h0M158.4 783.1h0M154.9 798.4h0M146.6 806.9h0M170.5 743.6h0M153.5 795.2h0M148.0 808.0h0M149.7 807.3h0M170.0 747.0h0M154.6 802.8h0M156.4 785.0h0M148.8 806.3h0M171.7 749.5h0M151.2 805.7h0M151.5 796.1h0M165.3 780.8h0M155.4 796.6h0M171.8 768.4h0M156.1 786.2h0M157.6 794.8h0M154.2 803.6h0M154.0 802.2h0M162.4 786.0h0M174.4 744.2h0M167.3 776.1h0M152.4 806.3h0M156.6 785.5h0M164.6 770.5h0M155.7 795.7h0M168.6 774.5h0M159.4 797.2h0M154.9 798.6h0M175.2 731.7h0M170.1 775.5h0M153.6 807.9h0M162.8 782.4h0M171.5 765.8h0M150.6 807.5h0M162.8 785.9h0M176.3 738.1h0M166.6 760.2h0M158.3 799.5h0M175.5 740.5h0M155.2 803.5h0M158.7 792.9h0M165.4 783.8h0M170.2 775.5h0M155.4 795.6h0M163.3 781.8h0M155.6 808.0h0M152.1 804.0h0M147.1 808.0h0M172.0 743.6h0M155.2 804.6h0M153.1 806.1h0M162.6 790.0h0M153.2 796.6h0M149.9 805.7h0M146.3 808.0h0M148.7 807.4h0M171.6 768.7h0M149.9 802.7h0M153.2 804.8h0M151.0 796.5h0M154.3 793.5h0M153.8 807.5h0M149.9 807.8h0M167.9 769.0h0M170.1 753.1h0M171.5 740.4h0M171.6 749.5h0M147.9 808.0h0M177.1 732.3h0M169.6 772.7h0M148.4 808.0h0M159.1 797.3h0M170.3 747.3h0M176.2 732.5h0M147.4 804.5h0M154.1 799.5h0M152.4 798.0h0M174.0 740.2h0M155.0 804.4h0M150.4 806.0h0M147.7 807.8h0M177.0 730.6h0M158.5 793.5h0M163.6 780.2h0M149.0 802.3h0M146.3 808.0h0M148.2 800.5h0M161.9 780.0h0M149.2 806.2h0M152.4 795.6h0M170.5 756.5h0M146.0 807.9h0M172.4 750.3h0M154.1 804.8h0M154.8 808.0h0M174.6 742.2h0M149.7 808.0h0M170.9 758.9h0M148.1 806.7h0M150.8 807.9h0M150.3 807.1h0M174.7 749.4h0M158.4 795.7h0M155.6 807.6h0M171.0 754.4h0M170.4 751.1h0M174.7 733.9h0M175.1 744.4h0M174.9 742.6h0M148.1 807.9h0M166.7 782.0h0M159.2 779.3h0M150.8 803.0h0M147.8 807.2h0M155.0 794.0h0M150.5 805.5h0M174.7 740.3h0M171.1 770.8h0M154.7 808.0h0M147.2 807.8h0M169.1 772.4h0M160.5 786.0h0M165.2 774.5h0M147.9 806.9h0M145.5 807.7h0M176.8 739.4h0M151.5 803.0h0M154.7 805.2h0M152.0 795.6h0M174.6 751.4h0M150.1 808.0h0M152.6 806.5h0M150.5 802.6h0M153.0 804.5h0M155.7 794.9h0M183.8 711.0h0M181.0 705.0h0M176.0 718.0h0M179.0 743.0h0M172.0 740.0h0" stroke="#66b2ee" stroke-width="1.85" stroke-linecap="round" fill="none"/>
<line x1="20.9" y1="804.6" x2="192.0" y2="804.6" stroke="#f06a62" stroke-width="0.6" stroke-dasharray="1,1"/>
<line x1="33.0" y1="656.0" x2="34.1" y2="653.5" stroke="#222" stroke-width="0.35"/><line x1="36.0" y1="680.0" x2="43.7" y2="677.4" stroke="#222" stroke-width="0.35"/><line x1="39.0" y1="697.0" x2="44.4" y2="696.8" stroke="#222" stroke-width="0.35"/><line x1="43.0" y1="726.0" x2="71.7" y2="708.0" stroke="#222" stroke-width="0.35"/><line x1="40.0" y1="733.0" x2="28.0" y2="719.0" stroke="#222" stroke-width="0.35"/><line x1="42.0" y1="728.0" x2="50.5" y2="719.0" stroke="#222" stroke-width="0.35"/><line x1="43.0" y1="731.0" x2="47.8" y2="730.0" stroke="#222" stroke-width="0.35"/><line x1="47.0" y1="746.0" x2="70.0" y2="741.2" stroke="#222" stroke-width="0.35"/><line x1="50.0" y1="753.0" x2="94.9" y2="743.6" stroke="#222" stroke-width="0.35"/><line x1="45.0" y1="756.0" x2="23.2" y2="763.7" stroke="#222" stroke-width="0.35"/><line x1="57.0" y1="778.0" x2="76.8" y2="763.7" stroke="#222" stroke-width="0.35"/><line x1="52.0" y1="779.0" x2="23.2" y2="774.6" stroke="#222" stroke-width="0.35"/><line x1="53.0" y1="782.0" x2="25.6" y2="796.8" stroke="#222" stroke-width="0.35"/><line x1="66.0" y1="802.0" x2="70.0" y2="796.8" stroke="#222" stroke-width="0.35"/><line x1="63.0" y1="803.0" x2="34.1" y2="807.7" stroke="#222" stroke-width="0.35"/><line x1="62.0" y1="806.0" x2="52.9" y2="819.4" stroke="#222" stroke-width="0.35"/><line x1="65.0" y1="805.0" x2="75.8" y2="819.4" stroke="#222" stroke-width="0.35"/><line x1="181.0" y1="709.0" x2="160.4" y2="694.8" stroke="#222" stroke-width="0.35"/><line x1="176.0" y1="722.0" x2="123.5" y2="717.0" stroke="#222" stroke-width="0.35"/><line x1="178.0" y1="715.0" x2="150.2" y2="717.0" stroke="#222" stroke-width="0.35"/><line x1="176.0" y1="733.0" x2="145.0" y2="728.2" stroke="#222" stroke-width="0.35"/><line x1="170.0" y1="756.0" x2="138.9" y2="741.5" stroke="#222" stroke-width="0.35"/><line x1="169.0" y1="757.0" x2="133.1" y2="764.0" stroke="#222" stroke-width="0.35"/><line x1="167.0" y1="769.0" x2="169.6" y2="765.0" stroke="#222" stroke-width="0.35"/><line x1="162.0" y1="781.0" x2="109.9" y2="775.3" stroke="#222" stroke-width="0.35"/><line x1="166.0" y1="774.0" x2="169.6" y2="776.0" stroke="#222" stroke-width="0.35"/><line x1="161.0" y1="784.0" x2="134.8" y2="786.6" stroke="#222" stroke-width="0.35"/><line x1="155.0" y1="795.0" x2="159.7" y2="797.2" stroke="#222" stroke-width="0.35"/><line x1="150.0" y1="802.0" x2="128.0" y2="808.4" stroke="#222" stroke-width="0.35"/><line x1="153.0" y1="803.0" x2="146.1" y2="808.4" stroke="#222" stroke-width="0.35"/><text x="34.1" y="655.5" font-size="5.8" fill="#111">Ccdc85b</text><text x="23.2" y="671.5" font-size="5.8" fill="#111">Hpca</text><text x="43.7" y="679.4" font-size="5.8" fill="#111">Olfr51</text><text x="23.2" y="690.3" font-size="5.8" fill="#111">Wipf3</text><text x="44.4" y="698.8" font-size="5.8" fill="#111">Ppp3ca</text><text x="25.6" y="710.0" font-size="5.8" fill="#111">3110082I17Rik</text><text x="71.7" y="710.0" font-size="5.8" fill="#111">Oxld1</text><text x="28.0" y="721.0" font-size="5.8" fill="#111">Nme2</text><text x="50.5" y="721.0" font-size="5.8" fill="#111">Kcnab2</text><text x="23.2" y="732.0" font-size="5.8" fill="#111">Grin2a</text><text x="47.8" y="732.0" font-size="5.8" fill="#111">Mink1</text><text x="23.2" y="743.2" font-size="5.8" fill="#111">Fpr-rs7</text><text x="70.0" y="743.2" font-size="5.8" fill="#111">Dlgap1</text><text x="94.9" y="745.6" font-size="5.8" fill="#111">Taar7a</text><text x="34.1" y="754.8" font-size="5.8" fill="#111">Srm</text><text x="52.2" y="754.8" font-size="5.8" fill="#111">Bhlhb1</text><text x="23.2" y="765.7" font-size="5.8" fill="#111">Sipa1</text><text x="55.3" y="765.7" font-size="5.8" fill="#111">Grin2b</text><text x="76.8" y="765.7" font-size="5.8" fill="#111">Jph4</text><text x="23.2" y="776.6" font-size="5.8" fill="#111">Itpka</text><text x="43.7" y="776.6" font-size="5.8" fill="#111">Dlg4</text><text x="62.1" y="776.6" font-size="5.8" fill="#111">Slc35e4</text><text x="37.5" y="787.9" font-size="5.8" fill="#111">Atad5</text><text x="60.4" y="787.9" font-size="5.8" fill="#111">Bdnf</text><text x="25.6" y="798.8" font-size="5.8" fill="#111">Oog4</text><text x="46.0" y="798.8" font-size="5.8" fill="#111">Nptx2</text><text x="70.0" y="798.8" font-size="5.8" fill="#111">Slco6d1</text><text x="34.1" y="809.7" font-size="5.8" fill="#111">Fam47e</text><text x="63.1" y="809.7" font-size="5.8" fill="#111">Nrxn3</text><text x="52.9" y="821.4" font-size="5.8" fill="#111">Lrrc3c</text><text x="75.8" y="821.4" font-size="5.8" fill="#111">Ces5a</text><text x="160.4" y="696.8" font-size="5.8" fill="#111">Ppm1b</text><text x="169.6" y="708.0" font-size="5.8" fill="#111">Mrps14</text><text x="123.5" y="719.0" font-size="5.8" fill="#111">Frmpd1</text><text x="150.2" y="719.0" font-size="5.8" fill="#111">Pet100</text><text x="175.1" y="729.5" font-size="5.8" fill="#111">Lrrn1</text><text x="145.0" y="730.2" font-size="5.8" fill="#111">Dcun1d2</text><text x="159.7" y="741.1" font-size="5.8" fill="#111">Prm3</text><text x="180.9" y="741.0" font-size="5.8" fill="#111">Evl</text><text x="138.9" y="743.5" font-size="5.8" fill="#111">Plek2</text><text x="163.8" y="752.4" font-size="5.8" fill="#111">Fam131b</text><text x="146.8" y="754.8" font-size="5.8" fill="#111">Lcmt1</text><text x="133.1" y="766.0" font-size="5.8" fill="#111">Gak</text><text x="150.2" y="766.0" font-size="5.8" fill="#111">Olfr1210</text><text x="169.6" y="767.0" font-size="5.8" fill="#111">Hdac10</text><text x="109.9" y="777.3" font-size="5.8" fill="#111">Arhgef18</text><text x="139.9" y="777.0" font-size="5.8" fill="#111">Cplane1</text><text x="169.6" y="778.0" font-size="5.8" fill="#111">Phf10</text><text x="134.8" y="788.6" font-size="5.8" fill="#111">Plppr1</text><text x="158.7" y="788.6" font-size="5.8" fill="#111">Cxcl5</text><text x="134.1" y="799.2" font-size="5.8" fill="#111">Rph3a</text><text x="159.7" y="799.2" font-size="5.8" fill="#111">Vmn2r1</text><text x="128.0" y="810.4" font-size="5.8" fill="#111">Ift27</text><text x="146.1" y="810.4" font-size="5.8" fill="#111">Tnfrsf18</text>
<text x="196.7" y="323.4" font-size="14.5" font-weight="bold" fill="#000">E</text>
<text x="219.7" y="330.0" font-size="9.7" font-weight="bold" fill="#000">Positively correlated with plaque age</text>
<rect x="213.9" y="334.7" width="182.3" height="87.7" fill="#fff" stroke="none" stroke-width="1"/>
<line x1="224.2" y1="334.7" x2="224.2" y2="422.4" stroke="#f3f3f3" stroke-width="0.4"/>
<line x1="251.6" y1="334.7" x2="251.6" y2="422.4" stroke="#f3f3f3" stroke-width="0.4"/>
<line x1="279.0" y1="334.7" x2="279.0" y2="422.4" stroke="#f3f3f3" stroke-width="0.4"/>
<line x1="306.4" y1="334.7" x2="306.4" y2="422.4" stroke="#f3f3f3" stroke-width="0.4"/>
<line x1="333.9" y1="334.7" x2="333.9" y2="422.4" stroke="#f3f3f3" stroke-width="0.4"/>
<line x1="361.3" y1="334.7" x2="361.3" y2="422.4" stroke="#f3f3f3" stroke-width="0.4"/>
<line x1="388.7" y1="334.7" x2="388.7" y2="422.4" stroke="#f3f3f3" stroke-width="0.4"/>
<line x1="224.2" y1="334.7" x2="224.2" y2="422.4" stroke="#e6e6e6" stroke-width="0.5"/>
<line x1="279.0" y1="334.7" x2="279.0" y2="422.4" stroke="#e6e6e6" stroke-width="0.5"/>
<line x1="333.9" y1="334.7" x2="333.9" y2="422.4" stroke="#e6e6e6" stroke-width="0.5"/>
<line x1="388.7" y1="334.7" x2="388.7" y2="422.4" stroke="#e6e6e6" stroke-width="0.5"/>
<line x1="213.9" y1="347.9" x2="396.2" y2="347.9" stroke="#e6e6e6" stroke-width="0.5"/>
<line x1="213.9" y1="363.2" x2="396.2" y2="363.2" stroke="#e6e6e6" stroke-width="0.5"/>
<line x1="213.9" y1="378.3" x2="396.2" y2="378.3" stroke="#e6e6e6" stroke-width="0.5"/>
<line x1="213.9" y1="393.3" x2="396.2" y2="393.3" stroke="#e6e6e6" stroke-width="0.5"/>
<line x1="213.9" y1="407.7" x2="396.2" y2="407.7" stroke="#e6e6e6" stroke-width="0.5"/>
<rect x="213.9" y="334.7" width="182.3" height="87.7" fill="none" stroke="#6a6a6a" stroke-width="0.9"/>
<text x="209.7" y="350.6" font-size="7.5" text-anchor="end" fill="#111">1</text>
<line x1="224.2" y1="347.9" x2="388.7" y2="347.9" stroke="#333" stroke-width="1.3"/>
<circle cx="388.7" cy="347.9" r="5.20" fill="#ffffcc" stroke="#333" stroke-width="0.5"/>
<text x="209.7" y="365.9" font-size="7.5" text-anchor="end" fill="#111">2</text>
<line x1="224.2" y1="363.2" x2="366.8" y2="363.2" stroke="#333" stroke-width="1.3"/>
<circle cx="366.8" cy="363.2" r="5.00" fill="#2a4ea2" stroke="#333" stroke-width="0.5"/>
<text x="209.7" y="381.0" font-size="7.5" text-anchor="end" fill="#111">3</text>
<line x1="224.2" y1="378.3" x2="355.8" y2="378.3" stroke="#333" stroke-width="1.3"/>
<circle cx="355.8" cy="378.3" r="4.70" fill="#2950a6" stroke="#333" stroke-width="0.5"/>
<text x="209.7" y="396.0" font-size="7.5" text-anchor="end" fill="#111">4</text>
<line x1="224.2" y1="393.3" x2="344.8" y2="393.3" stroke="#333" stroke-width="1.3"/>
<circle cx="344.8" cy="393.3" r="4.50" fill="#b9e2b2" stroke="#333" stroke-width="0.5"/>
<text x="209.7" y="410.4" font-size="7.5" text-anchor="end" fill="#111">5</text>
<line x1="224.2" y1="407.7" x2="344.8" y2="407.7" stroke="#333" stroke-width="1.3"/>
<circle cx="344.8" cy="407.7" r="4.50" fill="#1b2b80" stroke="#333" stroke-width="0.5"/>
<text x="224.2" y="430.2" font-size="7.2" text-anchor="middle" fill="#222">0</text>
<line x1="224.2" y1="422.4" x2="224.2" y2="423.9" stroke="#555" stroke-width="0.5"/>
<text x="279.0" y="430.2" font-size="7.2" text-anchor="middle" fill="#222">5</text>
<line x1="279.0" y1="422.4" x2="279.0" y2="423.9" stroke="#555" stroke-width="0.5"/>
<text x="333.9" y="430.2" font-size="7.2" text-anchor="middle" fill="#222">10</text>
<line x1="333.9" y1="422.4" x2="333.9" y2="423.9" stroke="#555" stroke-width="0.5"/>
<text x="388.7" y="430.2" font-size="7.2" text-anchor="middle" fill="#222">15</text>
<line x1="388.7" y1="422.4" x2="388.7" y2="423.9" stroke="#555" stroke-width="0.5"/>
<text x="304.2" y="437.9" font-size="8.1" text-anchor="middle" fill="#000">Number of genes</text>
<text x="214.6" y="447.6" font-size="7.6" fill="#000"><tspan font-weight="bold">1</tspan> - alpha-beta T cell activation, <tspan font-weight="bold">2</tspan> - lymphocyte activation involved in immune</text>
<text x="214.6" y="455.0" font-size="7.6" fill="#000">response, <tspan font-weight="bold">3, 4, 5</tspan> - (positive) regulation of alpha-beta T cell activation</text>
<text x="403.9" y="349.8" font-size="6.9" fill="#000">Number</text>
<text x="403.9" y="357.0" font-size="6.9" fill="#000">of genes</text>
<circle cx="410.9" cy="365.7" r="3.00" fill="#fff" stroke="#333" stroke-width="0.5"/>
<text x="418.8" y="367.6" font-size="5.3" fill="#111">5.0</text>
<circle cx="410.9" cy="374.9" r="3.80" fill="#fff" stroke="#333" stroke-width="0.5"/>
<text x="418.8" y="376.8" font-size="5.3" fill="#111">7.5</text>
<circle cx="410.9" cy="385.6" r="4.50" fill="#fff" stroke="#333" stroke-width="0.5"/>
<text x="418.8" y="387.5" font-size="5.3" fill="#111">10.0</text>
<circle cx="410.9" cy="397.6" r="5.00" fill="#fff" stroke="#333" stroke-width="0.5"/>
<text x="418.8" y="399.5" font-size="5.3" fill="#111">12.5</text>
<circle cx="410.9" cy="410.7" r="5.40" fill="#fff" stroke="#333" stroke-width="0.5"/>
<text x="418.8" y="412.6" font-size="5.3" fill="#111">15.0</text>
<text x="441.5" y="354.1" font-size="6.9"><tspan font-style="italic">p</tspan>-value</text>
<rect x="439.0" y="360.4" width="11.0" height="53.4" fill="url(#ylgnbu)" stroke="none" stroke-width="1"/>
<line x1="439.0" y1="363.3" x2="440.5" y2="363.3" stroke="#fff" stroke-width="0.4"/>
<line x1="448.5" y1="363.3" x2="450.0" y2="363.3" stroke="#fff" stroke-width="0.4"/>
<text x="454.6" y="364.9" font-size="4.6" fill="#111">1.0e-05</text>
<line x1="439.0" y1="376.2" x2="440.5" y2="376.2" stroke="#fff" stroke-width="0.4"/>
<line x1="448.5" y1="376.2" x2="450.0" y2="376.2" stroke="#fff" stroke-width="0.4"/>
<text x="454.6" y="377.8" font-size="4.6" fill="#111">7.5e-06</text>
<line x1="439.0" y1="389.6" x2="440.5" y2="389.6" stroke="#fff" stroke-width="0.4"/>
<line x1="448.5" y1="389.6" x2="450.0" y2="389.6" stroke="#fff" stroke-width="0.4"/>
<text x="454.6" y="391.2" font-size="4.6" fill="#111">5.0e-06</text>
<line x1="439.0" y1="402.6" x2="440.5" y2="402.6" stroke="#fff" stroke-width="0.4"/>
<line x1="448.5" y1="402.6" x2="450.0" y2="402.6" stroke="#fff" stroke-width="0.4"/>
<text x="454.6" y="404.2" font-size="4.6" fill="#111">2.5e-06</text>
<text x="196.7" y="466.9" font-size="14.5" font-weight="bold" fill="#000">H</text>
<text x="217.0" y="474.0" font-size="9.8" font-weight="bold" fill="#000">Negatively correlated with plaque age</text>
<rect x="214.5" y="475.1" width="184.0" height="84.1" fill="#fff" stroke="none" stroke-width="1"/>
<line x1="223.7" y1="475.1" x2="223.7" y2="559.2" stroke="#f3f3f3" stroke-width="0.4"/>
<line x1="240.6" y1="475.1" x2="240.6" y2="559.2" stroke="#f3f3f3" stroke-width="0.4"/>
<line x1="257.6" y1="475.1" x2="257.6" y2="559.2" stroke="#f3f3f3" stroke-width="0.4"/>
<line x1="274.5" y1="475.1" x2="274.5" y2="559.2" stroke="#f3f3f3" stroke-width="0.4"/>
<line x1="291.4" y1="475.1" x2="291.4" y2="559.2" stroke="#f3f3f3" stroke-width="0.4"/>
<line x1="308.4" y1="475.1" x2="308.4" y2="559.2" stroke="#f3f3f3" stroke-width="0.4"/>
<line x1="325.3" y1="475.1" x2="325.3" y2="559.2" stroke="#f3f3f3" stroke-width="0.4"/>
<line x1="342.2" y1="475.1" x2="342.2" y2="559.2" stroke="#f3f3f3" stroke-width="0.4"/>
<line x1="359.1" y1="475.1" x2="359.1" y2="559.2" stroke="#f3f3f3" stroke-width="0.4"/>
<line x1="376.1" y1="475.1" x2="376.1" y2="559.2" stroke="#f3f3f3" stroke-width="0.4"/>
<line x1="393.0" y1="475.1" x2="393.0" y2="559.2" stroke="#f3f3f3" stroke-width="0.4"/>
<line x1="223.7" y1="475.1" x2="223.7" y2="559.2" stroke="#e6e6e6" stroke-width="0.5"/>
<line x1="257.6" y1="475.1" x2="257.6" y2="559.2" stroke="#e6e6e6" stroke-width="0.5"/>
<line x1="291.4" y1="475.1" x2="291.4" y2="559.2" stroke="#e6e6e6" stroke-width="0.5"/>
<line x1="325.3" y1="475.1" x2="325.3" y2="559.2" stroke="#e6e6e6" stroke-width="0.5"/>
<line x1="359.1" y1="475.1" x2="359.1" y2="559.2" stroke="#e6e6e6" stroke-width="0.5"/>
<line x1="393.0" y1="475.1" x2="393.0" y2="559.2" stroke="#e6e6e6" stroke-width="0.5"/>
<line x1="214.5" y1="488.9" x2="398.5" y2="488.9" stroke="#e6e6e6" stroke-width="0.5"/>
<line x1="214.5" y1="503.3" x2="398.5" y2="503.3" stroke="#e6e6e6" stroke-width="0.5"/>
<line x1="214.5" y1="517.1" x2="398.5" y2="517.1" stroke="#e6e6e6" stroke-width="0.5"/>
<line x1="214.5" y1="531.5" x2="398.5" y2="531.5" stroke="#e6e6e6" stroke-width="0.5"/>
<line x1="214.5" y1="546.0" x2="398.5" y2="546.0" stroke="#e6e6e6" stroke-width="0.5"/>
<rect x="214.5" y="475.1" width="184.0" height="84.1" fill="none" stroke="#6a6a6a" stroke-width="0.9"/>
<text x="210.3" y="491.6" font-size="7.5" text-anchor="end" fill="#111">1</text>
<line x1="223.7" y1="488.9" x2="389.6" y2="488.9" stroke="#333" stroke-width="1.3"/>
<circle cx="389.6" cy="488.9" r="5.20" fill="#ffffcc" stroke="#333" stroke-width="0.5"/>
<text x="210.3" y="506.0" font-size="7.5" text-anchor="end" fill="#111">2</text>
<line x1="223.7" y1="503.3" x2="369.3" y2="503.3" stroke="#333" stroke-width="1.3"/>
<circle cx="369.3" cy="503.3" r="4.90" fill="#ffffcc" stroke="#333" stroke-width="0.5"/>
<text x="210.3" y="519.8" font-size="7.5" text-anchor="end" fill="#111">3</text>
<line x1="223.7" y1="517.1" x2="369.3" y2="517.1" stroke="#333" stroke-width="1.3"/>
<circle cx="369.3" cy="517.1" r="4.90" fill="#ffffcc" stroke="#333" stroke-width="0.5"/>
<text x="210.3" y="534.2" font-size="7.5" text-anchor="end" fill="#111">4</text>
<line x1="223.7" y1="531.5" x2="365.9" y2="531.5" stroke="#333" stroke-width="1.3"/>
<circle cx="365.9" cy="531.5" r="4.80" fill="#ffffcc" stroke="#333" stroke-width="0.5"/>
<text x="210.3" y="548.7" font-size="7.5" text-anchor="end" fill="#111">5</text>
<line x1="223.7" y1="546.0" x2="328.7" y2="546.0" stroke="#333" stroke-width="1.3"/>
<circle cx="328.7" cy="546.0" r="4.20" fill="#ffffcc" stroke="#333" stroke-width="0.5"/>
<text x="223.7" y="568.2" font-size="7.2" text-anchor="middle" fill="#222">0</text>
<line x1="223.7" y1="559.2" x2="223.7" y2="560.7" stroke="#555" stroke-width="0.5"/>
<text x="257.6" y="568.2" font-size="7.2" text-anchor="middle" fill="#222">10</text>
<line x1="257.6" y1="559.2" x2="257.6" y2="560.7" stroke="#555" stroke-width="0.5"/>
<text x="291.4" y="568.2" font-size="7.2" text-anchor="middle" fill="#222">20</text>
<line x1="291.4" y1="559.2" x2="291.4" y2="560.7" stroke="#555" stroke-width="0.5"/>
<text x="325.3" y="568.2" font-size="7.2" text-anchor="middle" fill="#222">30</text>
<line x1="325.3" y1="559.2" x2="325.3" y2="560.7" stroke="#555" stroke-width="0.5"/>
<text x="359.1" y="568.2" font-size="7.2" text-anchor="middle" fill="#222">40</text>
<line x1="359.1" y1="559.2" x2="359.1" y2="560.7" stroke="#555" stroke-width="0.5"/>
<text x="393.0" y="568.2" font-size="7.2" text-anchor="middle" fill="#222">50</text>
<line x1="393.0" y1="559.2" x2="393.0" y2="560.7" stroke="#555" stroke-width="0.5"/>
<text x="301.8" y="575.5" font-size="8.1" text-anchor="middle" fill="#000">Number of genes</text>
<text x="214.6" y="585.6" font-size="7.6" fill="#000"><tspan font-weight="bold">1</tspan> - neuron to neuron synapse, <tspan font-weight="bold">2</tspan> - postsynaptic specialization, <tspan font-weight="bold">3</tspan> - asymmetric</text>
<text x="214.6" y="593.2" font-size="7.6" fill="#000">synapse, <tspan font-weight="bold">4</tspan> - postsynaptic density, <tspan font-weight="bold">5</tspan> - postsynaptic membrane</text>
<text x="404.3" y="499.4" font-size="6.9" fill="#000">Number</text>
<text x="404.3" y="506.6" font-size="6.9" fill="#000">of genes</text>
<circle cx="410.9" cy="516.5" r="3.60" fill="#fff" stroke="#333" stroke-width="0.5"/>
<text x="418.6" y="518.4" font-size="5.3" fill="#111">20</text>
<circle cx="410.9" cy="526.5" r="4.00" fill="#fff" stroke="#333" stroke-width="0.5"/>
<text x="418.6" y="528.4" font-size="5.3" fill="#111">30</text>
<circle cx="410.9" cy="538.0" r="4.60" fill="#fff" stroke="#333" stroke-width="0.5"/>
<text x="418.6" y="539.9" font-size="5.3" fill="#111">40</text>
<text x="442.8" y="499.9" font-size="6.9"><tspan font-style="italic">p</tspan>-value</text>
<rect x="441.3" y="504.5" width="9.8" height="51.1" fill="url(#ylgnbu)" stroke="none" stroke-width="1"/>
<line x1="441.3" y1="519.9" x2="442.8" y2="519.9" stroke="#fff" stroke-width="0.4"/>
<line x1="449.6" y1="519.9" x2="451.1" y2="519.9" stroke="#fff" stroke-width="0.4"/>
<text x="454.0" y="521.5" font-size="4.6" fill="#111">1.0e-07</text>
<line x1="441.3" y1="537.0" x2="442.8" y2="537.0" stroke="#fff" stroke-width="0.4"/>
<line x1="449.6" y1="537.0" x2="451.1" y2="537.0" stroke="#fff" stroke-width="0.4"/>
<text x="454.0" y="538.6" font-size="4.6" fill="#111">5.0e-08</text>
<text x="196.7" y="619.3" font-size="14.5" font-weight="bold" fill="#000">K</text>
<text x="220.7" y="627.0" font-size="9.7" font-weight="bold" fill="#000">Positively correlated with plaque age</text>
<rect x="216.7" y="630.7" width="183.9" height="87.3" fill="#fff" stroke="none" stroke-width="1"/>
<line x1="225.9" y1="630.7" x2="225.9" y2="718.0" stroke="#f3f3f3" stroke-width="0.4"/>
<line x1="243.2" y1="630.7" x2="243.2" y2="718.0" stroke="#f3f3f3" stroke-width="0.4"/>
<line x1="260.4" y1="630.7" x2="260.4" y2="718.0" stroke="#f3f3f3" stroke-width="0.4"/>
<line x1="277.7" y1="630.7" x2="277.7" y2="718.0" stroke="#f3f3f3" stroke-width="0.4"/>
<line x1="295.0" y1="630.7" x2="295.0" y2="718.0" stroke="#f3f3f3" stroke-width="0.4"/>
<line x1="312.3" y1="630.7" x2="312.3" y2="718.0" stroke="#f3f3f3" stroke-width="0.4"/>
<line x1="329.6" y1="630.7" x2="329.6" y2="718.0" stroke="#f3f3f3" stroke-width="0.4"/>
<line x1="346.8" y1="630.7" x2="346.8" y2="718.0" stroke="#f3f3f3" stroke-width="0.4"/>
<line x1="364.1" y1="630.7" x2="364.1" y2="718.0" stroke="#f3f3f3" stroke-width="0.4"/>
<line x1="381.4" y1="630.7" x2="381.4" y2="718.0" stroke="#f3f3f3" stroke-width="0.4"/>
<line x1="398.7" y1="630.7" x2="398.7" y2="718.0" stroke="#f3f3f3" stroke-width="0.4"/>
<line x1="225.9" y1="630.7" x2="225.9" y2="718.0" stroke="#e6e6e6" stroke-width="0.5"/>
<line x1="260.4" y1="630.7" x2="260.4" y2="718.0" stroke="#e6e6e6" stroke-width="0.5"/>
<line x1="295.0" y1="630.7" x2="295.0" y2="718.0" stroke="#e6e6e6" stroke-width="0.5"/>
<line x1="329.6" y1="630.7" x2="329.6" y2="718.0" stroke="#e6e6e6" stroke-width="0.5"/>
<line x1="364.1" y1="630.7" x2="364.1" y2="718.0" stroke="#e6e6e6" stroke-width="0.5"/>
<line x1="398.7" y1="630.7" x2="398.7" y2="718.0" stroke="#e6e6e6" stroke-width="0.5"/>
<line x1="216.7" y1="645.4" x2="400.6" y2="645.4" stroke="#e6e6e6" stroke-width="0.5"/>
<line x1="216.7" y1="659.8" x2="400.6" y2="659.8" stroke="#e6e6e6" stroke-width="0.5"/>
<line x1="216.7" y1="674.5" x2="400.6" y2="674.5" stroke="#e6e6e6" stroke-width="0.5"/>
<line x1="216.7" y1="689.2" x2="400.6" y2="689.2" stroke="#e6e6e6" stroke-width="0.5"/>
<line x1="216.7" y1="703.6" x2="400.6" y2="703.6" stroke="#e6e6e6" stroke-width="0.5"/>
<rect x="216.7" y="630.7" width="183.9" height="87.3" fill="none" stroke="#6a6a6a" stroke-width="0.9"/>
<text x="212.5" y="648.1" font-size="7.5" text-anchor="end" fill="#111">1</text>
<line x1="225.9" y1="645.4" x2="391.7" y2="645.4" stroke="#333" stroke-width="1.3"/>
<circle cx="391.7" cy="645.4" r="5.20" fill="#f1f6c0" stroke="#333" stroke-width="0.5"/>
<text x="212.5" y="662.5" font-size="7.5" text-anchor="end" fill="#111">2</text>
<line x1="225.9" y1="659.8" x2="384.8" y2="659.8" stroke="#333" stroke-width="1.3"/>
<circle cx="384.8" cy="659.8" r="5.00" fill="#edf3b8" stroke="#333" stroke-width="0.5"/>
<text x="212.5" y="677.2" font-size="7.5" text-anchor="end" fill="#111">3</text>
<line x1="225.9" y1="674.5" x2="336.5" y2="674.5" stroke="#333" stroke-width="1.3"/>
<circle cx="336.5" cy="674.5" r="4.60" fill="#2c8fc1" stroke="#333" stroke-width="0.5"/>
<text x="212.5" y="691.9" font-size="7.5" text-anchor="end" fill="#111">4</text>
<line x1="225.9" y1="689.2" x2="322.6" y2="689.2" stroke="#333" stroke-width="1.3"/>
<circle cx="322.6" cy="689.2" r="4.40" fill="#1c2c86" stroke="#333" stroke-width="0.5"/>
<text x="212.5" y="706.3" font-size="7.5" text-anchor="end" fill="#111">5</text>
<line x1="225.9" y1="703.6" x2="308.8" y2="703.6" stroke="#333" stroke-width="1.3"/>
<circle cx="308.8" cy="703.6" r="4.20" fill="#fdfdd6" stroke="#333" stroke-width="0.5"/>
<text x="225.9" y="725.8" font-size="7.2" text-anchor="middle" fill="#222">0</text>
<line x1="225.9" y1="718.0" x2="225.9" y2="719.5" stroke="#555" stroke-width="0.5"/>
<text x="260.4" y="725.8" font-size="7.2" text-anchor="middle" fill="#222">5</text>
<line x1="260.4" y1="718.0" x2="260.4" y2="719.5" stroke="#555" stroke-width="0.5"/>
<text x="295.0" y="725.8" font-size="7.2" text-anchor="middle" fill="#222">10</text>
<line x1="295.0" y1="718.0" x2="295.0" y2="719.5" stroke="#555" stroke-width="0.5"/>
<text x="329.6" y="725.8" font-size="7.2" text-anchor="middle" fill="#222">15</text>
<line x1="329.6" y1="718.0" x2="329.6" y2="719.5" stroke="#555" stroke-width="0.5"/>
<text x="364.1" y="725.8" font-size="7.2" text-anchor="middle" fill="#222">20</text>
<line x1="364.1" y1="718.0" x2="364.1" y2="719.5" stroke="#555" stroke-width="0.5"/>
<text x="398.7" y="725.8" font-size="7.2" text-anchor="middle" fill="#222">25</text>
<line x1="398.7" y1="718.0" x2="398.7" y2="719.5" stroke="#555" stroke-width="0.5"/>
<text x="303.1" y="734.1" font-size="8.1" text-anchor="middle" fill="#000">Number of genes</text>
<text x="217.6" y="743.8" font-size="7.6" fill="#000"><tspan font-weight="bold">1</tspan> - distal axon, <tspan font-weight="bold">2</tspan> - nuclear speckle, <tspan font-weight="bold">3</tspan> - neuron projection terminus,</text>
<text x="217.6" y="751.8" font-size="7.6" fill="#000"><tspan font-weight="bold">4</tspan> - lamellipodium, <tspan font-weight="bold">5</tspan> - acetyltransferase complex</text>
<text x="409.0" y="655.9" font-size="6.9" fill="#000">Number</text>
<text x="409.0" y="663.1" font-size="6.9" fill="#000">of genes</text>
<circle cx="415.4" cy="673.6" r="3.80" fill="#fff" stroke="#333" stroke-width="0.5"/>
<text x="423.4" y="675.5" font-size="5.3" fill="#111">10</text>
<circle cx="415.4" cy="684.3" r="4.30" fill="#fff" stroke="#333" stroke-width="0.5"/>
<text x="423.4" y="686.2" font-size="5.3" fill="#111">15</text>
<circle cx="415.4" cy="696.7" r="4.80" fill="#fff" stroke="#333" stroke-width="0.5"/>
<text x="423.4" y="698.6" font-size="5.3" fill="#111">20</text>
<text x="446.5" y="659.1" font-size="6.9"><tspan font-style="italic">p</tspan>-value</text>
<rect x="446.5" y="665.0" width="9.1" height="44.8" fill="url(#ylgnbu)" stroke="none" stroke-width="1"/>
<line x1="446.5" y1="674.4" x2="448.0" y2="674.4" stroke="#fff" stroke-width="0.4"/>
<line x1="454.1" y1="674.4" x2="455.6" y2="674.4" stroke="#fff" stroke-width="0.4"/>
<text x="459.0" y="676.0" font-size="4.6" fill="#111">6e-05</text>
<line x1="446.5" y1="686.0" x2="448.0" y2="686.0" stroke="#fff" stroke-width="0.4"/>
<line x1="454.1" y1="686.0" x2="455.6" y2="686.0" stroke="#fff" stroke-width="0.4"/>
<text x="459.0" y="687.6" font-size="4.6" fill="#111">4e-05</text>
<line x1="446.5" y1="699.4" x2="448.0" y2="699.4" stroke="#fff" stroke-width="0.4"/>
<line x1="454.1" y1="699.4" x2="455.6" y2="699.4" stroke="#fff" stroke-width="0.4"/>
<text x="459.0" y="701.0" font-size="4.6" fill="#111">2e-05</text>
<text x="196.7" y="763.4" font-size="14.5" font-weight="bold" fill="#000">N</text>
<text x="219.1" y="771.0" font-size="9.8" font-weight="bold" fill="#000">Negatively correlated with plaque age</text>
<rect x="213.9" y="774.1" width="186.2" height="85.9" fill="#fff" stroke="none" stroke-width="1"/>
<line x1="224.6" y1="774.1" x2="224.6" y2="860.0" stroke="#f3f3f3" stroke-width="0.4"/>
<line x1="245.1" y1="774.1" x2="245.1" y2="860.0" stroke="#f3f3f3" stroke-width="0.4"/>
<line x1="265.5" y1="774.1" x2="265.5" y2="860.0" stroke="#f3f3f3" stroke-width="0.4"/>
<line x1="286.0" y1="774.1" x2="286.0" y2="860.0" stroke="#f3f3f3" stroke-width="0.4"/>
<line x1="306.4" y1="774.1" x2="306.4" y2="860.0" stroke="#f3f3f3" stroke-width="0.4"/>
<line x1="326.9" y1="774.1" x2="326.9" y2="860.0" stroke="#f3f3f3" stroke-width="0.4"/>
<line x1="347.4" y1="774.1" x2="347.4" y2="860.0" stroke="#f3f3f3" stroke-width="0.4"/>
<line x1="367.8" y1="774.1" x2="367.8" y2="860.0" stroke="#f3f3f3" stroke-width="0.4"/>
<line x1="388.3" y1="774.1" x2="388.3" y2="860.0" stroke="#f3f3f3" stroke-width="0.4"/>
<line x1="224.6" y1="774.1" x2="224.6" y2="860.0" stroke="#e6e6e6" stroke-width="0.5"/>
<line x1="265.5" y1="774.1" x2="265.5" y2="860.0" stroke="#e6e6e6" stroke-width="0.5"/>
<line x1="306.4" y1="774.1" x2="306.4" y2="860.0" stroke="#e6e6e6" stroke-width="0.5"/>
<line x1="347.4" y1="774.1" x2="347.4" y2="860.0" stroke="#e6e6e6" stroke-width="0.5"/>
<line x1="388.3" y1="774.1" x2="388.3" y2="860.0" stroke="#e6e6e6" stroke-width="0.5"/>
<line x1="213.9" y1="787.9" x2="400.1" y2="787.9" stroke="#e6e6e6" stroke-width="0.5"/>
<line x1="213.9" y1="802.3" x2="400.1" y2="802.3" stroke="#e6e6e6" stroke-width="0.5"/>
<line x1="213.9" y1="817.0" x2="400.1" y2="817.0" stroke="#e6e6e6" stroke-width="0.5"/>
<line x1="213.9" y1="831.5" x2="400.1" y2="831.5" stroke="#e6e6e6" stroke-width="0.5"/>
<line x1="213.9" y1="845.6" x2="400.1" y2="845.6" stroke="#e6e6e6" stroke-width="0.5"/>
<rect x="213.9" y="774.1" width="186.2" height="85.9" fill="none" stroke="#6a6a6a" stroke-width="0.9"/>
<text x="209.7" y="790.6" font-size="7.5" text-anchor="end" fill="#111">1</text>
<line x1="224.6" y1="787.9" x2="392.4" y2="787.9" stroke="#333" stroke-width="1.3"/>
<circle cx="392.4" cy="787.9" r="5.20" fill="#ffffcc" stroke="#333" stroke-width="0.5"/>
<text x="209.7" y="805.0" font-size="7.5" text-anchor="end" fill="#111">2</text>
<line x1="224.6" y1="802.3" x2="388.3" y2="802.3" stroke="#333" stroke-width="1.3"/>
<circle cx="388.3" cy="802.3" r="5.00" fill="#fbfcc6" stroke="#333" stroke-width="0.5"/>
<text x="209.7" y="819.7" font-size="7.5" text-anchor="end" fill="#111">3</text>
<line x1="224.6" y1="817.0" x2="376.0" y2="817.0" stroke="#333" stroke-width="1.3"/>
<circle cx="376.0" cy="817.0" r="4.80" fill="#f4f8be" stroke="#333" stroke-width="0.5"/>
<text x="209.7" y="834.2" font-size="7.5" text-anchor="end" fill="#111">4</text>
<line x1="224.6" y1="831.5" x2="363.7" y2="831.5" stroke="#333" stroke-width="1.3"/>
<circle cx="363.7" cy="831.5" r="4.60" fill="#edf5b6" stroke="#333" stroke-width="0.5"/>
<text x="209.7" y="848.3" font-size="7.5" text-anchor="end" fill="#111">5</text>
<line x1="224.6" y1="845.6" x2="347.4" y2="845.6" stroke="#333" stroke-width="1.3"/>
<circle cx="347.4" cy="845.6" r="4.40" fill="#0c1f62" stroke="#333" stroke-width="0.5"/>
<text x="224.6" y="867.8" font-size="7.2" text-anchor="middle" fill="#222">0</text>
<line x1="224.6" y1="860.0" x2="224.6" y2="861.5" stroke="#555" stroke-width="0.5"/>
<text x="265.5" y="867.8" font-size="7.2" text-anchor="middle" fill="#222">10</text>
<line x1="265.5" y1="860.0" x2="265.5" y2="861.5" stroke="#555" stroke-width="0.5"/>
<text x="306.4" y="867.8" font-size="7.2" text-anchor="middle" fill="#222">20</text>
<line x1="306.4" y1="860.0" x2="306.4" y2="861.5" stroke="#555" stroke-width="0.5"/>
<text x="347.4" y="867.8" font-size="7.2" text-anchor="middle" fill="#222">30</text>
<line x1="347.4" y1="860.0" x2="347.4" y2="861.5" stroke="#555" stroke-width="0.5"/>
<text x="388.3" y="867.8" font-size="7.2" text-anchor="middle" fill="#222">40</text>
<line x1="388.3" y1="860.0" x2="388.3" y2="861.5" stroke="#555" stroke-width="0.5"/>
<text x="298.7" y="876.0" font-size="8.1" text-anchor="middle" fill="#000">Number of genes</text>
<text x="214.6" y="886.1" font-size="7.6" fill="#000"><tspan font-weight="bold">1</tspan> - neuron to neuron synapse, <tspan font-weight="bold">2</tspan> - postsynaptic spezialization, <tspan font-weight="bold">3</tspan> - asymmetric</text>
<text x="214.6" y="893.7" font-size="7.6" fill="#000">synapse, <tspan font-weight="bold">4</tspan> - postsynaptic density, <tspan font-weight="bold">5</tspan> - postsynaptic membrane</text>
<text x="406.8" y="787.3" font-size="6.9" fill="#000">Number</text>
<text x="406.8" y="794.5" font-size="6.9" fill="#000">of genes</text>
<circle cx="414.9" cy="804.2" r="3.50" fill="#fff" stroke="#333" stroke-width="0.5"/>
<text x="423.4" y="806.1" font-size="5.3" fill="#111">20</text>
<circle cx="414.9" cy="813.8" r="3.80" fill="#fff" stroke="#333" stroke-width="0.5"/>
<text x="423.4" y="815.7" font-size="5.3" fill="#111">25</text>
<circle cx="414.9" cy="825.1" r="4.30" fill="#fff" stroke="#333" stroke-width="0.5"/>
<text x="423.4" y="827.0" font-size="5.3" fill="#111">30</text>
<circle cx="414.9" cy="837.2" r="4.60" fill="#fff" stroke="#333" stroke-width="0.5"/>
<text x="423.4" y="839.1" font-size="5.3" fill="#111">35</text>
<circle cx="414.9" cy="849.8" r="5.00" fill="#fff" stroke="#333" stroke-width="0.5"/>
<text x="423.4" y="851.7" font-size="5.3" fill="#111">40</text>
<text x="446.5" y="793.2" font-size="6.9"><tspan font-style="italic">p</tspan>-value</text>
<rect x="447.6" y="800.2" width="9.4" height="50.9" fill="url(#ylgnbu)" stroke="none" stroke-width="1"/>
<line x1="447.6" y1="802.3" x2="449.1" y2="802.3" stroke="#fff" stroke-width="0.4"/>
<line x1="455.5" y1="802.3" x2="457.0" y2="802.3" stroke="#fff" stroke-width="0.4"/>
<text x="460.4" y="803.9" font-size="4.6" fill="#111">6e-06</text>
<line x1="447.6" y1="810.3" x2="449.1" y2="810.3" stroke="#fff" stroke-width="0.4"/>
<line x1="455.5" y1="810.3" x2="457.0" y2="810.3" stroke="#fff" stroke-width="0.4"/>
<text x="460.4" y="811.9" font-size="4.6" fill="#111">5e-06</text>
<line x1="447.6" y1="818.6" x2="449.1" y2="818.6" stroke="#fff" stroke-width="0.4"/>
<line x1="455.5" y1="818.6" x2="457.0" y2="818.6" stroke="#fff" stroke-width="0.4"/>
<text x="460.4" y="820.2" font-size="4.6" fill="#111">4e-06</text>
<line x1="447.6" y1="827.0" x2="449.1" y2="827.0" stroke="#fff" stroke-width="0.4"/>
<line x1="455.5" y1="827.0" x2="457.0" y2="827.0" stroke="#fff" stroke-width="0.4"/>
<text x="460.4" y="828.6" font-size="4.6" fill="#111">3e-06</text>
<line x1="447.6" y1="835.3" x2="449.1" y2="835.3" stroke="#fff" stroke-width="0.4"/>
<line x1="455.5" y1="835.3" x2="457.0" y2="835.3" stroke="#fff" stroke-width="0.4"/>
<text x="460.4" y="836.9" font-size="4.6" fill="#111">2e-06</text>
<line x1="447.6" y1="843.0" x2="449.1" y2="843.0" stroke="#fff" stroke-width="0.4"/>
<line x1="455.5" y1="843.0" x2="457.0" y2="843.0" stroke="#fff" stroke-width="0.4"/>
<text x="460.4" y="844.6" font-size="4.6" fill="#111">1e-06</text>
<text x="477.9" y="323.0" font-size="14.5" font-weight="bold" fill="#000">F</text>
<text x="532.7" y="328.9" font-size="8.0" font-weight="bold" font-style="italic" fill="#000">Anxa1</text>
<rect x="506.4" y="331.3" width="77.5" height="95.8" fill="#fff" stroke="none" stroke-width="1"/>
<line x1="506.4" y1="346.9" x2="583.9" y2="346.9" stroke="#f2f2f2" stroke-width="0.45"/>
<line x1="506.4" y1="371.1" x2="583.9" y2="371.1" stroke="#f2f2f2" stroke-width="0.45"/>
<line x1="506.4" y1="395.3" x2="583.9" y2="395.3" stroke="#f2f2f2" stroke-width="0.45"/>
<line x1="506.4" y1="419.5" x2="583.9" y2="419.5" stroke="#f2f2f2" stroke-width="0.45"/>
<line x1="520.5" y1="331.3" x2="520.5" y2="427.1" stroke="#f2f2f2" stroke-width="0.45"/>
<line x1="545.0" y1="331.3" x2="545.0" y2="427.1" stroke="#f2f2f2" stroke-width="0.45"/>
<line x1="569.5" y1="331.3" x2="569.5" y2="427.1" stroke="#f2f2f2" stroke-width="0.45"/>
<line x1="506.4" y1="334.8" x2="583.9" y2="334.8" stroke="#e4e4e4" stroke-width="0.6"/>
<line x1="506.4" y1="359.0" x2="583.9" y2="359.0" stroke="#e4e4e4" stroke-width="0.6"/>
<line x1="506.4" y1="383.0" x2="583.9" y2="383.0" stroke="#e4e4e4" stroke-width="0.6"/>
<line x1="506.4" y1="407.0" x2="583.9" y2="407.0" stroke="#e4e4e4" stroke-width="0.6"/>
<line x1="508.2" y1="331.3" x2="508.2" y2="427.1" stroke="#e4e4e4" stroke-width="0.6"/>
<line x1="532.7" y1="331.3" x2="532.7" y2="427.1" stroke="#e4e4e4" stroke-width="0.6"/>
<line x1="557.0" y1="331.3" x2="557.0" y2="427.1" stroke="#e4e4e4" stroke-width="0.6"/>
<line x1="580.4" y1="331.3" x2="580.4" y2="427.1" stroke="#e4e4e4" stroke-width="0.6"/>
<path d="M510.0,390.0 L511.7,389.5 L513.5,389.1 L515.2,388.6 L517.0,388.1 L518.7,387.5 L520.4,386.9 L522.2,386.3 L523.9,385.6 L525.6,384.8 L527.4,384.0 L529.1,383.1 L530.9,382.1 L532.6,381.1 L534.3,379.9 L536.1,378.7 L537.8,377.3 L539.5,376.0 L541.3,374.5 L543.0,373.0 L544.8,371.4 L546.5,369.8 L548.2,368.1 L550.0,366.5 L551.7,364.8 L553.4,363.0 L555.2,361.3 L556.9,359.5 L558.6,357.7 L560.4,355.9 L562.1,354.1 L563.9,352.3 L565.6,350.5 L567.3,348.7 L569.1,346.8 L570.8,345.0 L572.5,343.1 L574.3,341.3 L576.0,339.4 L577.8,337.6 L579.5,335.7 L579.5,382.1 L577.8,382.4 L576.0,382.8 L574.3,383.1 L572.5,383.5 L570.8,383.8 L569.1,384.2 L567.3,384.5 L565.6,384.9 L563.9,385.3 L562.1,385.6 L560.4,386.0 L558.6,386.4 L556.9,386.9 L555.2,387.3 L553.4,387.7 L551.7,388.2 L550.0,388.7 L548.2,389.2 L546.5,389.8 L544.8,390.3 L543.0,391.0 L541.3,391.7 L539.5,392.4 L537.8,393.2 L536.1,394.1 L534.3,395.0 L532.6,396.1 L530.9,397.2 L529.1,398.4 L527.4,399.7 L525.6,401.1 L523.9,402.5 L522.2,404.1 L520.4,405.6 L518.7,407.2 L517.0,408.9 L515.2,410.5 L513.5,412.2 L511.7,414.0 L510.0,415.7 Z" fill="#c9c9c9" stroke="none" stroke-width="1" fill-opacity="0.8"/>
<line x1="510.0" y1="402.2" x2="579.5" y2="359.0" stroke="#000" stroke-width="1.35"/>
<circle cx="509.9" cy="395.7" r="1.55" fill="#5ab0f0"/><circle cx="514.7" cy="395.2" r="1.55" fill="#5ab0f0"/><circle cx="519.4" cy="367.7" r="1.55" fill="#5ab0f0"/><circle cx="514.7" cy="409.2" r="1.55" fill="#5ab0f0"/><circle cx="524.0" cy="404.0" r="1.55" fill="#5ab0f0"/><circle cx="524.3" cy="419.8" r="1.55" fill="#5ab0f0"/><circle cx="524.0" cy="423.6" r="1.55" fill="#5ab0f0"/><circle cx="528.7" cy="380.3" r="1.55" fill="#5ab0f0"/><circle cx="529.2" cy="381.6" r="1.55" fill="#5ab0f0"/><circle cx="528.7" cy="398.2" r="1.55" fill="#5ab0f0"/><circle cx="533.4" cy="394.3" r="1.55" fill="#5ab0f0"/><circle cx="538.0" cy="376.8" r="1.55" fill="#5ab0f0"/><circle cx="547.1" cy="362.5" r="1.55" fill="#5ab0f0"/><circle cx="570.2" cy="369.3" r="1.55" fill="#5ab0f0"/><circle cx="579.5" cy="361.1" r="1.55" fill="#5ab0f0"/>
<rect x="506.4" y="331.3" width="77.5" height="95.8" fill="none" stroke="#333" stroke-width="0.8"/>
<text x="504.2" y="337.5" font-size="7.6" text-anchor="end" fill="#222">−80</text>
<line x1="504.9" y1="334.8" x2="506.4" y2="334.8" stroke="#333" stroke-width="0.5"/>
<text x="504.2" y="361.7" font-size="7.6" text-anchor="end" fill="#222">−90</text>
<line x1="504.9" y1="359.0" x2="506.4" y2="359.0" stroke="#333" stroke-width="0.5"/>
<text x="504.2" y="385.7" font-size="7.6" text-anchor="end" fill="#222">−100</text>
<line x1="504.9" y1="383.0" x2="506.4" y2="383.0" stroke="#333" stroke-width="0.5"/>
<text x="504.2" y="409.7" font-size="7.6" text-anchor="end" fill="#222">−110</text>
<line x1="504.9" y1="407.0" x2="506.4" y2="407.0" stroke="#333" stroke-width="0.5"/>
<text x="508.2" y="433.5" font-size="7.6" text-anchor="middle" fill="#222">7</text>
<line x1="508.2" y1="427.1" x2="508.2" y2="428.6" stroke="#333" stroke-width="0.5"/>
<text x="532.7" y="433.5" font-size="7.6" text-anchor="middle" fill="#222">8</text>
<line x1="532.7" y1="427.1" x2="532.7" y2="428.6" stroke="#333" stroke-width="0.5"/>
<text x="557.0" y="433.5" font-size="7.6" text-anchor="middle" fill="#222">9</text>
<line x1="557.0" y1="427.1" x2="557.0" y2="428.6" stroke="#333" stroke-width="0.5"/>
<text x="580.4" y="433.5" font-size="7.6" text-anchor="middle" fill="#222">10</text>
<line x1="580.4" y1="427.1" x2="580.4" y2="428.6" stroke="#333" stroke-width="0.5"/>
<text x="544.9" y="443.5" font-size="7.55" text-anchor="middle" fill="#000">Nitrogen Index LP</text>
<text transform="translate(487.5,378.5) rotate(-90)" font-size="7.55" text-anchor="middle">normalized gene expression*</text>
<text x="510.6" y="340.2" font-size="6.6"><tspan font-style="italic">R</tspan>=0.63</text>
<text x="510.6" y="346.7" font-size="6.6"><tspan font-style="italic">p</tspan>=0.0094</text>
<text x="594.7" y="322.8" font-size="14.5" font-weight="bold" fill="#000">G</text>
<text x="640.0" y="328.6" font-size="8.0" font-weight="bold" font-style="italic" fill="#000">Axl</text>
<rect x="607.7" y="330.1" width="76.3" height="95.9" fill="#fff" stroke="none" stroke-width="1"/>
<line x1="607.7" y1="334.4" x2="684.0" y2="334.4" stroke="#f2f2f2" stroke-width="0.45"/>
<line x1="607.7" y1="361.4" x2="684.0" y2="361.4" stroke="#f2f2f2" stroke-width="0.45"/>
<line x1="607.7" y1="388.4" x2="684.0" y2="388.4" stroke="#f2f2f2" stroke-width="0.45"/>
<line x1="607.7" y1="415.4" x2="684.0" y2="415.4" stroke="#f2f2f2" stroke-width="0.45"/>
<line x1="621.6" y1="330.1" x2="621.6" y2="426.0" stroke="#f2f2f2" stroke-width="0.45"/>
<line x1="644.8" y1="330.1" x2="644.8" y2="426.0" stroke="#f2f2f2" stroke-width="0.45"/>
<line x1="667.9" y1="330.1" x2="667.9" y2="426.0" stroke="#f2f2f2" stroke-width="0.45"/>
<line x1="607.7" y1="347.9" x2="684.0" y2="347.9" stroke="#e4e4e4" stroke-width="0.6"/>
<line x1="607.7" y1="374.9" x2="684.0" y2="374.9" stroke="#e4e4e4" stroke-width="0.6"/>
<line x1="607.7" y1="401.8" x2="684.0" y2="401.8" stroke="#e4e4e4" stroke-width="0.6"/>
<line x1="610.1" y1="330.1" x2="610.1" y2="426.0" stroke="#e4e4e4" stroke-width="0.6"/>
<line x1="633.2" y1="330.1" x2="633.2" y2="426.0" stroke="#e4e4e4" stroke-width="0.6"/>
<line x1="657.0" y1="330.1" x2="657.0" y2="426.0" stroke="#e4e4e4" stroke-width="0.6"/>
<path d="M611.2,380.7 L612.9,380.5 L614.7,380.3 L616.4,380.1 L618.2,379.9 L619.9,379.6 L621.6,379.3 L623.4,378.9 L625.1,378.5 L626.9,378.0 L628.6,377.5 L630.3,376.9 L632.1,376.1 L633.8,375.3 L635.6,374.4 L637.3,373.4 L639.0,372.3 L640.8,371.1 L642.5,369.9 L644.3,368.6 L646.0,367.2 L647.7,365.8 L649.5,364.3 L651.2,362.8 L653.0,361.3 L654.7,359.8 L656.4,358.2 L658.2,356.6 L659.9,355.0 L661.7,353.4 L663.4,351.7 L665.1,350.1 L666.9,348.4 L668.6,346.8 L670.4,345.1 L672.1,343.4 L673.8,341.8 L675.6,340.1 L677.3,338.4 L679.1,336.7 L680.8,335.0 L680.8,384.6 L679.1,384.6 L677.3,384.7 L675.6,384.8 L673.8,384.8 L672.1,384.9 L670.4,384.9 L668.6,385.0 L666.9,385.1 L665.1,385.2 L663.4,385.3 L661.7,385.4 L659.9,385.5 L658.2,385.7 L656.4,385.8 L654.7,386.0 L653.0,386.2 L651.2,386.4 L649.5,386.6 L647.7,386.9 L646.0,387.2 L644.3,387.6 L642.5,388.0 L640.8,388.5 L639.0,389.1 L637.3,389.8 L635.6,390.5 L633.8,391.3 L632.1,392.3 L630.3,393.3 L628.6,394.4 L626.9,395.6 L625.1,396.8 L623.4,398.2 L621.6,399.5 L619.9,401.0 L618.2,402.4 L616.4,403.9 L614.7,405.5 L612.9,407.0 L611.2,408.6 Z" fill="#c9c9c9" stroke="none" stroke-width="1" fill-opacity="0.8"/>
<line x1="611.2" y1="394.8" x2="680.8" y2="360.0" stroke="#000" stroke-width="1.35"/>
<circle cx="611.2" cy="422.0" r="1.55" fill="#5ab0f0"/><circle cx="615.7" cy="368.1" r="1.55" fill="#5ab0f0"/><circle cx="615.7" cy="395.3" r="1.55" fill="#5ab0f0"/><circle cx="620.6" cy="394.0" r="1.55" fill="#5ab0f0"/><circle cx="625.1" cy="373.3" r="1.55" fill="#5ab0f0"/><circle cx="625.5" cy="379.4" r="1.55" fill="#5ab0f0"/><circle cx="630.0" cy="360.5" r="1.55" fill="#5ab0f0"/><circle cx="630.3" cy="380.7" r="1.55" fill="#5ab0f0"/><circle cx="630.3" cy="384.0" r="1.55" fill="#5ab0f0"/><circle cx="634.8" cy="404.0" r="1.55" fill="#5ab0f0"/><circle cx="630.0" cy="407.8" r="1.55" fill="#5ab0f0"/><circle cx="639.2" cy="385.1" r="1.55" fill="#5ab0f0"/><circle cx="648.4" cy="393.5" r="1.55" fill="#5ab0f0"/><circle cx="671.9" cy="343.8" r="1.55" fill="#5ab0f0"/><circle cx="681.0" cy="369.7" r="1.55" fill="#5ab0f0"/>
<rect x="607.7" y="330.1" width="76.3" height="95.9" fill="none" stroke="#333" stroke-width="0.8"/>
<text x="606.0" y="350.6" font-size="7.6" text-anchor="end" fill="#222">−80</text>
<line x1="606.2" y1="347.9" x2="607.7" y2="347.9" stroke="#333" stroke-width="0.5"/>
<text x="606.0" y="377.6" font-size="7.6" text-anchor="end" fill="#222">−100</text>
<line x1="606.2" y1="374.9" x2="607.7" y2="374.9" stroke="#333" stroke-width="0.5"/>
<text x="606.0" y="404.5" font-size="7.6" text-anchor="end" fill="#222">−120</text>
<line x1="606.2" y1="401.8" x2="607.7" y2="401.8" stroke="#333" stroke-width="0.5"/>
<text x="610.1" y="433.1" font-size="7.6" text-anchor="middle" fill="#222">7</text>
<line x1="610.1" y1="426.0" x2="610.1" y2="427.5" stroke="#333" stroke-width="0.5"/>
<text x="633.2" y="433.1" font-size="7.6" text-anchor="middle" fill="#222">8</text>
<line x1="633.2" y1="426.0" x2="633.2" y2="427.5" stroke="#333" stroke-width="0.5"/>
<text x="657.0" y="433.1" font-size="7.6" text-anchor="middle" fill="#222">9</text>
<line x1="657.0" y1="426.0" x2="657.0" y2="427.5" stroke="#333" stroke-width="0.5"/>
<text x="646.0" y="443.3" font-size="7.55" text-anchor="middle" fill="#000">Nitrogen Index LP</text>
<text x="615.0" y="341.3" font-size="6.6"><tspan font-style="italic">R</tspan>=0.5</text>
<text x="615.0" y="347.8" font-size="6.6"><tspan font-style="italic">p</tspan>=0.047</text>
<text x="480.4" y="465.4" font-size="14.5" font-weight="bold" fill="#000">I</text>
<text x="535.7" y="471.3" font-size="8.0" font-weight="bold" font-style="italic" fill="#000">Nptx2</text>
<rect x="507.3" y="474.2" width="77.5" height="95.8" fill="#fff" stroke="none" stroke-width="1"/>
<line x1="507.3" y1="489.8" x2="584.8" y2="489.8" stroke="#f2f2f2" stroke-width="0.45"/>
<line x1="507.3" y1="508.1" x2="584.8" y2="508.1" stroke="#f2f2f2" stroke-width="0.45"/>
<line x1="507.3" y1="526.5" x2="584.8" y2="526.5" stroke="#f2f2f2" stroke-width="0.45"/>
<line x1="507.3" y1="544.8" x2="584.8" y2="544.8" stroke="#f2f2f2" stroke-width="0.45"/>
<line x1="507.3" y1="563.0" x2="584.8" y2="563.0" stroke="#f2f2f2" stroke-width="0.45"/>
<line x1="521.1" y1="474.2" x2="521.1" y2="570.0" stroke="#f2f2f2" stroke-width="0.45"/>
<line x1="545.6" y1="474.2" x2="545.6" y2="570.0" stroke="#f2f2f2" stroke-width="0.45"/>
<line x1="570.1" y1="474.2" x2="570.1" y2="570.0" stroke="#f2f2f2" stroke-width="0.45"/>
<line x1="507.3" y1="480.7" x2="584.8" y2="480.7" stroke="#e4e4e4" stroke-width="0.6"/>
<line x1="507.3" y1="499.0" x2="584.8" y2="499.0" stroke="#e4e4e4" stroke-width="0.6"/>
<line x1="507.3" y1="517.8" x2="584.8" y2="517.8" stroke="#e4e4e4" stroke-width="0.6"/>
<line x1="507.3" y1="536.4" x2="584.8" y2="536.4" stroke="#e4e4e4" stroke-width="0.6"/>
<line x1="507.3" y1="555.1" x2="584.8" y2="555.1" stroke="#e4e4e4" stroke-width="0.6"/>
<line x1="508.9" y1="474.2" x2="508.9" y2="570.0" stroke="#e4e4e4" stroke-width="0.6"/>
<line x1="533.4" y1="474.2" x2="533.4" y2="570.0" stroke="#e4e4e4" stroke-width="0.6"/>
<line x1="557.6" y1="474.2" x2="557.6" y2="570.0" stroke="#e4e4e4" stroke-width="0.6"/>
<line x1="580.7" y1="474.2" x2="580.7" y2="570.0" stroke="#e4e4e4" stroke-width="0.6"/>
<path d="M510.6,478.9 L512.4,480.7 L514.1,482.4 L515.9,484.1 L517.6,485.8 L519.4,487.5 L521.1,489.1 L522.9,490.6 L524.6,492.2 L526.4,493.6 L528.1,495.0 L529.9,496.3 L531.6,497.5 L533.4,498.6 L535.1,499.7 L536.9,500.7 L538.6,501.6 L540.4,502.4 L542.1,503.1 L543.9,503.8 L545.7,504.5 L547.4,505.1 L549.2,505.6 L550.9,506.1 L552.7,506.6 L554.4,507.1 L556.2,507.5 L557.9,507.9 L559.7,508.3 L561.4,508.7 L563.2,509.1 L564.9,509.4 L566.7,509.8 L568.4,510.1 L570.2,510.4 L571.9,510.7 L573.7,511.0 L575.4,511.3 L577.2,511.6 L578.9,511.9 L580.7,512.2 L580.7,563.9 L578.9,562.0 L577.2,560.0 L575.4,558.1 L573.7,556.2 L571.9,554.3 L570.2,552.4 L568.4,550.5 L566.7,548.6 L564.9,546.8 L563.2,544.9 L561.4,543.1 L559.7,541.2 L557.9,539.4 L556.2,537.6 L554.4,535.8 L552.7,534.1 L550.9,532.3 L549.2,530.6 L547.4,529.0 L545.7,527.4 L543.9,525.8 L542.1,524.3 L540.4,522.8 L538.6,521.4 L536.9,520.1 L535.1,518.9 L533.4,517.7 L531.6,516.7 L529.9,515.7 L528.1,514.8 L526.4,513.9 L524.6,513.1 L522.9,512.4 L521.1,511.8 L519.4,511.2 L517.6,510.6 L515.9,510.1 L514.1,509.6 L512.4,509.1 L510.6,508.7 Z" fill="#c9c9c9" stroke="none" stroke-width="1" fill-opacity="0.8"/>
<line x1="510.6" y1="492.6" x2="580.7" y2="538.5" stroke="#000" stroke-width="1.35"/>
<circle cx="510.6" cy="491.7" r="1.55" fill="#f03c22"/><circle cx="515.9" cy="498.7" r="1.55" fill="#f03c22"/><circle cx="515.9" cy="506.1" r="1.55" fill="#f03c22"/><circle cx="520.5" cy="507.5" r="1.55" fill="#f03c22"/><circle cx="525.2" cy="486.8" r="1.55" fill="#f03c22"/><circle cx="525.2" cy="515.3" r="1.55" fill="#f03c22"/><circle cx="525.7" cy="524.5" r="1.55" fill="#f03c22"/><circle cx="529.6" cy="481.5" r="1.55" fill="#f03c22"/><circle cx="529.6" cy="497.7" r="1.55" fill="#f03c22"/><circle cx="529.9" cy="502.2" r="1.55" fill="#f03c22"/><circle cx="529.9" cy="511.0" r="1.55" fill="#f03c22"/><circle cx="534.5" cy="519.2" r="1.55" fill="#f03c22"/><circle cx="538.9" cy="488.2" r="1.55" fill="#f03c22"/><circle cx="548.3" cy="492.0" r="1.55" fill="#f03c22"/><circle cx="580.4" cy="529.2" r="1.55" fill="#f03c22"/><circle cx="571.3" cy="566.0" r="1.55" fill="#f03c22"/>
<rect x="507.3" y="474.2" width="77.5" height="95.8" fill="none" stroke="#333" stroke-width="0.8"/>
<text x="505.4" y="483.4" font-size="7.6" text-anchor="end" fill="#222">−100</text>
<line x1="505.8" y1="480.7" x2="507.3" y2="480.7" stroke="#333" stroke-width="0.5"/>
<text x="505.4" y="501.7" font-size="7.6" text-anchor="end" fill="#222">−150</text>
<line x1="505.8" y1="499.0" x2="507.3" y2="499.0" stroke="#333" stroke-width="0.5"/>
<text x="505.4" y="520.5" font-size="7.6" text-anchor="end" fill="#222">−200</text>
<line x1="505.8" y1="517.8" x2="507.3" y2="517.8" stroke="#333" stroke-width="0.5"/>
<text x="505.4" y="539.1" font-size="7.6" text-anchor="end" fill="#222">−250</text>
<line x1="505.8" y1="536.4" x2="507.3" y2="536.4" stroke="#333" stroke-width="0.5"/>
<text x="505.4" y="557.8" font-size="7.6" text-anchor="end" fill="#222">−300</text>
<line x1="505.8" y1="555.1" x2="507.3" y2="555.1" stroke="#333" stroke-width="0.5"/>
<text x="508.9" y="576.7" font-size="7.6" text-anchor="middle" fill="#222">7</text>
<line x1="508.9" y1="570.0" x2="508.9" y2="571.5" stroke="#333" stroke-width="0.5"/>
<text x="533.4" y="576.7" font-size="7.6" text-anchor="middle" fill="#222">8</text>
<line x1="533.4" y1="570.0" x2="533.4" y2="571.5" stroke="#333" stroke-width="0.5"/>
<text x="557.6" y="576.7" font-size="7.6" text-anchor="middle" fill="#222">9</text>
<line x1="557.6" y1="570.0" x2="557.6" y2="571.5" stroke="#333" stroke-width="0.5"/>
<text x="580.7" y="576.7" font-size="7.6" text-anchor="middle" fill="#222">10</text>
<line x1="580.7" y1="570.0" x2="580.7" y2="571.5" stroke="#333" stroke-width="0.5"/>
<text x="546.2" y="585.8" font-size="7.55" text-anchor="middle" fill="#000">Nitrogen Index LP</text>
<text transform="translate(486.6,522.3) rotate(-90)" font-size="7.55" text-anchor="middle">normalized gene expression*</text>
<text x="582.0" y="483.0" font-size="6.6" text-anchor="end"><tspan font-style="italic">R</tspan>=-0.59</text>
<text x="582.0" y="489.1" font-size="6.6" text-anchor="end"><tspan font-style="italic">p</tspan>=0.015</text>
<text x="596.0" y="465.6" font-size="14.5" font-weight="bold" fill="#000">J</text>
<text x="636.3" y="471.7" font-size="8.0" font-weight="bold" font-style="italic" fill="#000">Dlg4</text>
<rect x="608.1" y="473.8" width="75.7" height="95.7" fill="#fff" stroke="none" stroke-width="1"/>
<line x1="608.1" y1="485.2" x2="683.8" y2="485.2" stroke="#f2f2f2" stroke-width="0.45"/>
<line x1="608.1" y1="499.9" x2="683.8" y2="499.9" stroke="#f2f2f2" stroke-width="0.45"/>
<line x1="608.1" y1="514.5" x2="683.8" y2="514.5" stroke="#f2f2f2" stroke-width="0.45"/>
<line x1="608.1" y1="529.2" x2="683.8" y2="529.2" stroke="#f2f2f2" stroke-width="0.45"/>
<line x1="608.1" y1="544.0" x2="683.8" y2="544.0" stroke="#f2f2f2" stroke-width="0.45"/>
<line x1="608.1" y1="558.7" x2="683.8" y2="558.7" stroke="#f2f2f2" stroke-width="0.45"/>
<line x1="621.1" y1="473.8" x2="621.1" y2="569.5" stroke="#f2f2f2" stroke-width="0.45"/>
<line x1="645.0" y1="473.8" x2="645.0" y2="569.5" stroke="#f2f2f2" stroke-width="0.45"/>
<line x1="668.9" y1="473.8" x2="668.9" y2="569.5" stroke="#f2f2f2" stroke-width="0.45"/>
<line x1="608.1" y1="477.8" x2="683.8" y2="477.8" stroke="#e4e4e4" stroke-width="0.6"/>
<line x1="608.1" y1="492.5" x2="683.8" y2="492.5" stroke="#e4e4e4" stroke-width="0.6"/>
<line x1="608.1" y1="508.3" x2="683.8" y2="508.3" stroke="#e4e4e4" stroke-width="0.6"/>
<line x1="608.1" y1="524.2" x2="683.8" y2="524.2" stroke="#e4e4e4" stroke-width="0.6"/>
<line x1="608.1" y1="539.8" x2="683.8" y2="539.8" stroke="#e4e4e4" stroke-width="0.6"/>
<line x1="608.1" y1="555.8" x2="683.8" y2="555.8" stroke="#e4e4e4" stroke-width="0.6"/>
<line x1="609.2" y1="473.8" x2="609.2" y2="569.5" stroke="#e4e4e4" stroke-width="0.6"/>
<line x1="633.1" y1="473.8" x2="633.1" y2="569.5" stroke="#e4e4e4" stroke-width="0.6"/>
<line x1="657.2" y1="473.8" x2="657.2" y2="569.5" stroke="#e4e4e4" stroke-width="0.6"/>
<line x1="680.6" y1="473.8" x2="680.6" y2="569.5" stroke="#e4e4e4" stroke-width="0.6"/>
<path d="M610.8,489.0 L612.5,490.6 L614.3,492.3 L616.0,493.9 L617.8,495.4 L619.5,497.0 L621.3,498.5 L623.0,499.9 L624.8,501.3 L626.5,502.7 L628.2,504.0 L630.0,505.2 L631.7,506.3 L633.5,507.4 L635.2,508.4 L637.0,509.3 L638.7,510.1 L640.5,510.9 L642.2,511.6 L644.0,512.3 L645.7,512.9 L647.4,513.5 L649.2,514.0 L650.9,514.6 L652.7,515.0 L654.4,515.5 L656.2,515.9 L657.9,516.4 L659.7,516.8 L661.4,517.2 L663.1,517.5 L664.9,517.9 L666.6,518.3 L668.4,518.6 L670.1,519.0 L671.9,519.3 L673.6,519.7 L675.4,520.0 L677.1,520.3 L678.9,520.7 L680.6,521.0 L680.6,565.6 L678.9,563.8 L677.1,562.1 L675.4,560.3 L673.6,558.6 L671.9,556.8 L670.1,555.1 L668.4,553.3 L666.6,551.6 L664.9,549.9 L663.1,548.2 L661.4,546.5 L659.7,544.8 L657.9,543.1 L656.2,541.4 L654.4,539.8 L652.7,538.1 L650.9,536.5 L649.2,534.9 L647.4,533.4 L645.7,531.9 L644.0,530.4 L642.2,529.0 L640.5,527.6 L638.7,526.3 L637.0,525.0 L635.2,523.9 L633.5,522.8 L631.7,521.8 L630.0,520.8 L628.2,519.9 L626.5,519.1 L624.8,518.4 L623.0,517.7 L621.3,517.1 L619.5,516.5 L617.8,515.9 L616.0,515.4 L614.3,514.9 L612.5,514.4 L610.8,514.0 Z" fill="#c9c9c9" stroke="none" stroke-width="1" fill-opacity="0.8"/>
<line x1="610.8" y1="501.3" x2="680.6" y2="543.8" stroke="#000" stroke-width="1.35"/>
<circle cx="610.5" cy="478.4" r="1.55" fill="#f03c22"/><circle cx="615.2" cy="515.6" r="1.55" fill="#f03c22"/><circle cx="615.2" cy="523.1" r="1.55" fill="#f03c22"/><circle cx="619.7" cy="507.0" r="1.55" fill="#f03c22"/><circle cx="624.5" cy="506.6" r="1.55" fill="#f03c22"/><circle cx="624.5" cy="515.6" r="1.55" fill="#f03c22"/><circle cx="629.2" cy="496.6" r="1.55" fill="#f03c22"/><circle cx="629.2" cy="508.3" r="1.55" fill="#f03c22"/><circle cx="629.2" cy="514.4" r="1.55" fill="#f03c22"/><circle cx="629.2" cy="528.9" r="1.55" fill="#f03c22"/><circle cx="634.2" cy="515.3" r="1.55" fill="#f03c22"/><circle cx="638.4" cy="535.2" r="1.55" fill="#f03c22"/><circle cx="647.5" cy="489.4" r="1.55" fill="#f03c22"/><circle cx="670.6" cy="549.2" r="1.55" fill="#f03c22"/><circle cx="680.0" cy="544.1" r="1.55" fill="#f03c22"/>
<rect x="608.1" y="473.8" width="75.7" height="95.7" fill="none" stroke="#333" stroke-width="0.8"/>
<text x="606.1" y="480.5" font-size="7.6" text-anchor="end" fill="#222">−300</text>
<line x1="606.6" y1="477.8" x2="608.1" y2="477.8" stroke="#333" stroke-width="0.5"/>
<text x="606.1" y="495.2" font-size="7.6" text-anchor="end" fill="#222">−400</text>
<line x1="606.6" y1="492.5" x2="608.1" y2="492.5" stroke="#333" stroke-width="0.5"/>
<text x="606.1" y="511.0" font-size="7.6" text-anchor="end" fill="#222">−500</text>
<line x1="606.6" y1="508.3" x2="608.1" y2="508.3" stroke="#333" stroke-width="0.5"/>
<text x="606.1" y="526.9" font-size="7.6" text-anchor="end" fill="#222">−600</text>
<line x1="606.6" y1="524.2" x2="608.1" y2="524.2" stroke="#333" stroke-width="0.5"/>
<text x="606.1" y="542.5" font-size="7.6" text-anchor="end" fill="#222">−700</text>
<line x1="606.6" y1="539.8" x2="608.1" y2="539.8" stroke="#333" stroke-width="0.5"/>
<text x="606.1" y="558.5" font-size="7.6" text-anchor="end" fill="#222">−800</text>
<line x1="606.6" y1="555.8" x2="608.1" y2="555.8" stroke="#333" stroke-width="0.5"/>
<text x="609.2" y="576.9" font-size="7.6" text-anchor="middle" fill="#222">7</text>
<line x1="609.2" y1="569.5" x2="609.2" y2="571.0" stroke="#333" stroke-width="0.5"/>
<text x="633.1" y="576.9" font-size="7.6" text-anchor="middle" fill="#222">8</text>
<line x1="633.1" y1="569.5" x2="633.1" y2="571.0" stroke="#333" stroke-width="0.5"/>
<text x="657.2" y="576.9" font-size="7.6" text-anchor="middle" fill="#222">9</text>
<line x1="657.2" y1="569.5" x2="657.2" y2="571.0" stroke="#333" stroke-width="0.5"/>
<text x="680.6" y="576.9" font-size="7.6" text-anchor="middle" fill="#222">10</text>
<line x1="680.6" y1="569.5" x2="680.6" y2="571.0" stroke="#333" stroke-width="0.5"/>
<text x="646.0" y="585.2" font-size="7.55" text-anchor="middle" fill="#000">Nitrogen Index LP</text>
<text x="-100.0" y="-97.7" font-size="6.6"><tspan font-style="italic">R</tspan>=</text>
<text x="-100.0" y="-97.7" font-size="6.6"><tspan font-style="italic">p</tspan>=</text>
<text x="477.9" y="619.6" font-size="14.5" font-weight="bold" fill="#000">L</text>
<text x="531.0" y="624.8" font-size="8.0" font-weight="bold" font-style="italic" fill="#000">Csf1</text>
<rect x="504.5" y="627.2" width="76.7" height="102.8" fill="#fff" stroke="none" stroke-width="1"/>
<line x1="504.5" y1="651.1" x2="581.2" y2="651.1" stroke="#f2f2f2" stroke-width="0.45"/>
<line x1="504.5" y1="675.6" x2="581.2" y2="675.6" stroke="#f2f2f2" stroke-width="0.45"/>
<line x1="504.5" y1="700.1" x2="581.2" y2="700.1" stroke="#f2f2f2" stroke-width="0.45"/>
<line x1="504.5" y1="724.6" x2="581.2" y2="724.6" stroke="#f2f2f2" stroke-width="0.45"/>
<line x1="507.7" y1="627.2" x2="507.7" y2="730.0" stroke="#f2f2f2" stroke-width="0.45"/>
<line x1="528.7" y1="627.2" x2="528.7" y2="730.0" stroke="#f2f2f2" stroke-width="0.45"/>
<line x1="549.7" y1="627.2" x2="549.7" y2="730.0" stroke="#f2f2f2" stroke-width="0.45"/>
<line x1="570.7" y1="627.2" x2="570.7" y2="730.0" stroke="#f2f2f2" stroke-width="0.45"/>
<line x1="504.5" y1="638.9" x2="581.2" y2="638.9" stroke="#e4e4e4" stroke-width="0.6"/>
<line x1="504.5" y1="663.4" x2="581.2" y2="663.4" stroke="#e4e4e4" stroke-width="0.6"/>
<line x1="504.5" y1="687.6" x2="581.2" y2="687.6" stroke="#e4e4e4" stroke-width="0.6"/>
<line x1="504.5" y1="711.6" x2="581.2" y2="711.6" stroke="#e4e4e4" stroke-width="0.6"/>
<line x1="518.2" y1="627.2" x2="518.2" y2="730.0" stroke="#e4e4e4" stroke-width="0.6"/>
<line x1="539.2" y1="627.2" x2="539.2" y2="730.0" stroke="#e4e4e4" stroke-width="0.6"/>
<line x1="559.3" y1="627.2" x2="559.3" y2="730.0" stroke="#e4e4e4" stroke-width="0.6"/>
<line x1="578.6" y1="627.2" x2="578.6" y2="730.0" stroke="#e4e4e4" stroke-width="0.6"/>
<path d="M507.7,677.0 L509.4,676.8 L511.2,676.7 L512.9,676.5 L514.6,676.3 L516.4,676.2 L518.1,676.0 L519.9,675.8 L521.6,675.6 L523.3,675.4 L525.1,675.2 L526.8,675.0 L528.5,674.7 L530.3,674.5 L532.0,674.2 L533.8,673.9 L535.5,673.6 L537.2,673.3 L539.0,672.9 L540.7,672.5 L542.5,672.1 L544.2,671.6 L545.9,671.0 L547.7,670.4 L549.4,669.6 L551.1,668.8 L552.9,667.9 L554.6,666.9 L556.4,665.8 L558.1,664.5 L559.8,663.2 L561.6,661.9 L563.3,660.4 L565.0,658.9 L566.8,657.3 L568.5,655.7 L570.2,654.1 L572.0,652.4 L573.7,650.7 L575.5,649.0 L577.2,647.3 L577.2,675.7 L575.5,676.0 L573.7,676.2 L572.0,676.5 L570.2,676.8 L568.5,677.2 L566.8,677.6 L565.0,678.0 L563.3,678.5 L561.6,679.0 L559.8,679.6 L558.1,680.3 L556.4,681.0 L554.6,681.9 L552.9,682.8 L551.1,683.9 L549.4,685.1 L547.7,686.3 L545.9,687.7 L544.2,689.1 L542.5,690.6 L540.7,692.1 L539.0,693.7 L537.2,695.3 L535.5,696.9 L533.8,698.6 L532.0,700.3 L530.3,702.0 L528.5,703.8 L526.8,705.5 L525.1,707.3 L523.3,709.1 L521.6,710.8 L519.9,712.6 L518.1,714.4 L516.4,716.2 L514.6,718.0 L512.9,719.8 L511.2,721.7 L509.4,723.5 L507.7,725.3 Z" fill="#c9c9c9" stroke="none" stroke-width="1" fill-opacity="0.8"/>
<line x1="507.7" y1="701.6" x2="577.2" y2="661.3" stroke="#000" stroke-width="1.35"/>
<circle cx="507.7" cy="702.5" r="1.55" fill="#5ab0f0"/><circle cx="532.7" cy="690.2" r="1.55" fill="#5ab0f0"/><circle cx="540.1" cy="695.0" r="1.55" fill="#5ab0f0"/><circle cx="546.2" cy="691.5" r="1.55" fill="#5ab0f0"/><circle cx="546.2" cy="661.3" r="1.55" fill="#5ab0f0"/><circle cx="546.6" cy="680.2" r="1.55" fill="#5ab0f0"/><circle cx="548.0" cy="674.5" r="1.55" fill="#5ab0f0"/><circle cx="554.1" cy="687.2" r="1.55" fill="#5ab0f0"/><circle cx="554.1" cy="666.6" r="1.55" fill="#5ab0f0"/><circle cx="555.5" cy="661.0" r="1.55" fill="#5ab0f0"/><circle cx="555.5" cy="632.1" r="1.55" fill="#5ab0f0"/><circle cx="561.6" cy="677.4" r="1.55" fill="#5ab0f0"/><circle cx="561.6" cy="685.3" r="1.55" fill="#5ab0f0"/><circle cx="561.6" cy="696.4" r="1.55" fill="#5ab0f0"/><circle cx="569.5" cy="655.2" r="1.55" fill="#5ab0f0"/><circle cx="569.5" cy="667.4" r="1.55" fill="#5ab0f0"/><circle cx="570.7" cy="658.7" r="1.55" fill="#5ab0f0"/><circle cx="577.2" cy="668.3" r="1.55" fill="#5ab0f0"/>
<rect x="504.5" y="627.2" width="76.7" height="102.8" fill="none" stroke="#333" stroke-width="0.8"/>
<text x="502.4" y="641.6" font-size="7.6" text-anchor="end" fill="#222">140</text>
<line x1="503.0" y1="638.9" x2="504.5" y2="638.9" stroke="#333" stroke-width="0.5"/>
<text x="502.4" y="666.1" font-size="7.6" text-anchor="end" fill="#222">120</text>
<line x1="503.0" y1="663.4" x2="504.5" y2="663.4" stroke="#333" stroke-width="0.5"/>
<text x="502.4" y="690.3" font-size="7.6" text-anchor="end" fill="#222">100</text>
<line x1="503.0" y1="687.6" x2="504.5" y2="687.6" stroke="#333" stroke-width="0.5"/>
<text x="502.4" y="714.3" font-size="7.6" text-anchor="end" fill="#222">80</text>
<line x1="503.0" y1="711.6" x2="504.5" y2="711.6" stroke="#333" stroke-width="0.5"/>
<text x="518.2" y="737.6" font-size="7.6" text-anchor="middle" fill="#222">6.0</text>
<line x1="518.2" y1="730.0" x2="518.2" y2="731.5" stroke="#333" stroke-width="0.5"/>
<text x="539.2" y="737.6" font-size="7.6" text-anchor="middle" fill="#222">6.5</text>
<line x1="539.2" y1="730.0" x2="539.2" y2="731.5" stroke="#333" stroke-width="0.5"/>
<text x="559.3" y="737.6" font-size="7.6" text-anchor="middle" fill="#222">7.0</text>
<line x1="559.3" y1="730.0" x2="559.3" y2="731.5" stroke="#333" stroke-width="0.5"/>
<text x="578.6" y="737.6" font-size="7.6" text-anchor="middle" fill="#222">7.5</text>
<line x1="578.6" y1="730.0" x2="578.6" y2="731.5" stroke="#333" stroke-width="0.5"/>
<text x="546.6" y="747.7" font-size="7.55" text-anchor="middle" fill="#000">Nitrogen Index LP</text>
<text transform="translate(488.0,680.1) rotate(-90)" font-size="7.55" text-anchor="middle">normalized gene expression</text>
<text x="507.7" y="637.3" font-size="6.6"><tspan font-style="italic">R</tspan>=0.52</text>
<text x="507.7" y="643.8" font-size="6.6"><tspan font-style="italic">p</tspan>=0.025</text>
<text x="594.2" y="619.6" font-size="14.5" font-weight="bold" fill="#000">M</text>
<text x="629.9" y="624.7" font-size="8.0" font-weight="bold" font-style="italic" fill="#000">Ctsd</text>
<rect x="602.6" y="626.5" width="77.0" height="103.8" fill="#fff" stroke="none" stroke-width="1"/>
<line x1="602.6" y1="634.9" x2="679.6" y2="634.9" stroke="#f2f2f2" stroke-width="0.45"/>
<line x1="602.6" y1="668.4" x2="679.6" y2="668.4" stroke="#f2f2f2" stroke-width="0.45"/>
<line x1="602.6" y1="701.9" x2="679.6" y2="701.9" stroke="#f2f2f2" stroke-width="0.45"/>
<line x1="607.7" y1="626.5" x2="607.7" y2="730.3" stroke="#f2f2f2" stroke-width="0.45"/>
<line x1="627.8" y1="626.5" x2="627.8" y2="730.3" stroke="#f2f2f2" stroke-width="0.45"/>
<line x1="647.8" y1="626.5" x2="647.8" y2="730.3" stroke="#f2f2f2" stroke-width="0.45"/>
<line x1="667.9" y1="626.5" x2="667.9" y2="730.3" stroke="#f2f2f2" stroke-width="0.45"/>
<line x1="602.6" y1="651.6" x2="679.6" y2="651.6" stroke="#e4e4e4" stroke-width="0.6"/>
<line x1="602.6" y1="685.1" x2="679.6" y2="685.1" stroke="#e4e4e4" stroke-width="0.6"/>
<line x1="602.6" y1="718.9" x2="679.6" y2="718.9" stroke="#e4e4e4" stroke-width="0.6"/>
<line x1="617.7" y1="626.5" x2="617.7" y2="730.3" stroke="#e4e4e4" stroke-width="0.6"/>
<line x1="637.8" y1="626.5" x2="637.8" y2="730.3" stroke="#e4e4e4" stroke-width="0.6"/>
<line x1="657.4" y1="626.5" x2="657.4" y2="730.3" stroke="#e4e4e4" stroke-width="0.6"/>
<line x1="676.8" y1="626.5" x2="676.8" y2="730.3" stroke="#e4e4e4" stroke-width="0.6"/>
<path d="M605.9,677.4 L607.7,676.9 L609.4,676.3 L611.2,675.8 L612.9,675.2 L614.7,674.6 L616.5,674.1 L618.2,673.5 L620.0,672.9 L621.7,672.3 L623.5,671.7 L625.3,671.1 L627.0,670.5 L628.8,669.8 L630.5,669.2 L632.3,668.5 L634.1,667.8 L635.8,667.1 L637.6,666.3 L639.3,665.5 L641.1,664.7 L642.9,663.7 L644.6,662.8 L646.4,661.7 L648.1,660.6 L649.9,659.4 L651.7,658.1 L653.4,656.7 L655.2,655.1 L656.9,653.5 L658.7,651.9 L660.5,650.1 L662.2,648.3 L664.0,646.4 L665.7,644.5 L667.5,642.5 L669.3,640.5 L671.0,638.4 L672.8,636.4 L674.5,634.3 L676.3,632.2 L676.3,661.1 L674.5,661.7 L672.8,662.4 L671.0,663.1 L669.3,663.8 L667.5,664.5 L665.7,665.3 L664.0,666.1 L662.2,667.0 L660.5,667.9 L658.7,668.9 L656.9,669.9 L655.2,671.1 L653.4,672.3 L651.7,673.6 L649.9,675.1 L648.1,676.6 L646.4,678.2 L644.6,679.9 L642.9,681.7 L641.1,683.5 L639.3,685.4 L637.6,687.3 L635.8,689.3 L634.1,691.3 L632.3,693.4 L630.5,695.4 L628.8,697.5 L627.0,699.6 L625.3,701.7 L623.5,703.9 L621.7,706.0 L620.0,708.2 L618.2,710.3 L616.5,712.5 L614.7,714.7 L612.9,716.8 L611.2,719.0 L609.4,721.2 L607.7,723.4 L605.9,725.6 Z" fill="#c9c9c9" stroke="none" stroke-width="1" fill-opacity="0.8"/>
<line x1="605.9" y1="701.3" x2="676.3" y2="646.1" stroke="#000" stroke-width="1.35"/>
<circle cx="605.9" cy="705.2" r="1.55" fill="#5ab0f0"/><circle cx="631.1" cy="696.3" r="1.55" fill="#5ab0f0"/><circle cx="638.6" cy="645.6" r="1.55" fill="#5ab0f0"/><circle cx="644.8" cy="686.8" r="1.55" fill="#5ab0f0"/><circle cx="645.0" cy="666.7" r="1.55" fill="#5ab0f0"/><circle cx="645.0" cy="670.0" r="1.55" fill="#5ab0f0"/><circle cx="646.5" cy="646.9" r="1.55" fill="#5ab0f0"/><circle cx="652.5" cy="675.0" r="1.55" fill="#5ab0f0"/><circle cx="652.5" cy="681.2" r="1.55" fill="#5ab0f0"/><circle cx="654.0" cy="655.3" r="1.55" fill="#5ab0f0"/><circle cx="654.0" cy="664.5" r="1.55" fill="#5ab0f0"/><circle cx="660.4" cy="631.5" r="1.55" fill="#5ab0f0"/><circle cx="660.4" cy="666.5" r="1.55" fill="#5ab0f0"/><circle cx="660.4" cy="683.4" r="1.55" fill="#5ab0f0"/><circle cx="667.9" cy="645.6" r="1.55" fill="#5ab0f0"/><circle cx="668.2" cy="659.0" r="1.55" fill="#5ab0f0"/><circle cx="669.3" cy="645.6" r="1.55" fill="#5ab0f0"/><circle cx="676.0" cy="649.9" r="1.55" fill="#5ab0f0"/>
<rect x="602.6" y="626.5" width="77.0" height="103.8" fill="none" stroke="#333" stroke-width="0.8"/>
<text x="600.4" y="654.3" font-size="7.6" text-anchor="end" fill="#222">400</text>
<line x1="601.1" y1="651.6" x2="602.6" y2="651.6" stroke="#333" stroke-width="0.5"/>
<text x="600.4" y="687.8" font-size="7.6" text-anchor="end" fill="#222">300</text>
<line x1="601.1" y1="685.1" x2="602.6" y2="685.1" stroke="#333" stroke-width="0.5"/>
<text x="600.4" y="721.6" font-size="7.6" text-anchor="end" fill="#222">200</text>
<line x1="601.1" y1="718.9" x2="602.6" y2="718.9" stroke="#333" stroke-width="0.5"/>
<text x="617.7" y="737.5" font-size="7.6" text-anchor="middle" fill="#222">6.0</text>
<line x1="617.7" y1="730.3" x2="617.7" y2="731.8" stroke="#333" stroke-width="0.5"/>
<text x="637.8" y="737.5" font-size="7.6" text-anchor="middle" fill="#222">6.5</text>
<line x1="637.8" y1="730.3" x2="637.8" y2="731.8" stroke="#333" stroke-width="0.5"/>
<text x="657.4" y="737.5" font-size="7.6" text-anchor="middle" fill="#222">7.0</text>
<line x1="657.4" y1="730.3" x2="657.4" y2="731.8" stroke="#333" stroke-width="0.5"/>
<text x="676.8" y="737.5" font-size="7.6" text-anchor="middle" fill="#222">7.5</text>
<line x1="676.8" y1="730.3" x2="676.8" y2="731.8" stroke="#333" stroke-width="0.5"/>
<text x="639.5" y="747.1" font-size="7.55" text-anchor="middle" fill="#000">Nitrogen Index LP</text>
<text x="606.0" y="637.1" font-size="6.6"><tspan font-style="italic">R</tspan>=0.65</text>
<text x="606.0" y="642.8" font-size="6.6"><tspan font-style="italic">p</tspan>=0.0036</text>
<text x="476.1" y="763.1" font-size="14.5" font-weight="bold" fill="#000">O</text>
<text x="532.2" y="768.3" font-size="8.0" font-weight="bold" font-style="italic" fill="#000">Nptx2</text>
<rect x="505.9" y="770.7" width="76.2" height="102.8" fill="#fff" stroke="none" stroke-width="1"/>
<line x1="505.9" y1="787.7" x2="582.1" y2="787.7" stroke="#f2f2f2" stroke-width="0.45"/>
<line x1="505.9" y1="822.7" x2="582.1" y2="822.7" stroke="#f2f2f2" stroke-width="0.45"/>
<line x1="505.9" y1="857.7" x2="582.1" y2="857.7" stroke="#f2f2f2" stroke-width="0.45"/>
<line x1="510.3" y1="770.7" x2="510.3" y2="873.5" stroke="#f2f2f2" stroke-width="0.45"/>
<line x1="531.3" y1="770.7" x2="531.3" y2="873.5" stroke="#f2f2f2" stroke-width="0.45"/>
<line x1="552.3" y1="770.7" x2="552.3" y2="873.5" stroke="#f2f2f2" stroke-width="0.45"/>
<line x1="573.3" y1="770.7" x2="573.3" y2="873.5" stroke="#f2f2f2" stroke-width="0.45"/>
<line x1="505.9" y1="805.2" x2="582.1" y2="805.2" stroke="#e4e4e4" stroke-width="0.6"/>
<line x1="505.9" y1="840.2" x2="582.1" y2="840.2" stroke="#e4e4e4" stroke-width="0.6"/>
<line x1="520.8" y1="770.7" x2="520.8" y2="873.5" stroke="#e4e4e4" stroke-width="0.6"/>
<line x1="541.8" y1="770.7" x2="541.8" y2="873.5" stroke="#e4e4e4" stroke-width="0.6"/>
<line x1="562.0" y1="770.7" x2="562.0" y2="873.5" stroke="#e4e4e4" stroke-width="0.6"/>
<line x1="579.0" y1="770.7" x2="579.0" y2="873.5" stroke="#e4e4e4" stroke-width="0.6"/>
<path d="M509.4,774.5 L511.1,776.7 L512.9,779.0 L514.6,781.2 L516.4,783.4 L518.1,785.6 L519.8,787.8 L521.6,790.1 L523.3,792.3 L525.1,794.5 L526.8,796.7 L528.5,798.9 L530.3,801.0 L532.0,803.2 L533.8,805.4 L535.5,807.5 L537.2,809.6 L539.0,811.7 L540.7,813.8 L542.5,815.8 L544.2,817.8 L545.9,819.7 L547.7,821.5 L549.4,823.3 L551.2,824.9 L552.9,826.3 L554.6,827.6 L556.4,828.8 L558.1,829.7 L559.9,830.6 L561.6,831.2 L563.3,831.8 L565.1,832.3 L566.8,832.8 L568.6,833.2 L570.3,833.6 L572.0,833.9 L573.8,834.2 L575.5,834.5 L577.3,834.7 L579.0,835.0 L579.0,867.0 L577.3,864.8 L575.5,862.7 L573.8,860.5 L572.0,858.4 L570.3,856.3 L568.6,854.3 L566.8,852.2 L565.1,850.3 L563.3,848.4 L561.6,846.5 L559.9,844.8 L558.1,843.2 L556.4,841.7 L554.6,840.4 L552.9,839.3 L551.2,838.4 L549.4,837.6 L547.7,836.9 L545.9,836.3 L544.2,835.8 L542.5,835.3 L540.7,834.9 L539.0,834.6 L537.2,834.2 L535.5,833.9 L533.8,833.7 L532.0,833.4 L530.3,833.1 L528.5,832.9 L526.8,832.7 L525.1,832.4 L523.3,832.2 L521.6,832.0 L519.8,831.8 L518.1,831.6 L516.4,831.4 L514.6,831.2 L512.9,831.0 L511.1,830.8 L509.4,830.6 Z" fill="#c9c9c9" stroke="none" stroke-width="1" fill-opacity="0.8"/>
<line x1="509.4" y1="802.6" x2="579.0" y2="851.6" stroke="#000" stroke-width="1.35"/>
<circle cx="508.9" cy="824.5" r="1.55" fill="#f03c22"/><circle cx="534.5" cy="778.9" r="1.55" fill="#f03c22"/><circle cx="541.5" cy="801.7" r="1.55" fill="#f03c22"/><circle cx="547.6" cy="812.2" r="1.55" fill="#f03c22"/><circle cx="547.6" cy="830.9" r="1.55" fill="#f03c22"/><circle cx="547.6" cy="849.0" r="1.55" fill="#f03c22"/><circle cx="549.7" cy="830.2" r="1.55" fill="#f03c22"/><circle cx="555.5" cy="832.0" r="1.55" fill="#f03c22"/><circle cx="555.5" cy="847.2" r="1.55" fill="#f03c22"/><circle cx="556.7" cy="840.6" r="1.55" fill="#f03c22"/><circle cx="556.7" cy="858.6" r="1.55" fill="#f03c22"/><circle cx="563.2" cy="842.0" r="1.55" fill="#f03c22"/><circle cx="563.2" cy="849.0" r="1.55" fill="#f03c22"/><circle cx="563.2" cy="863.5" r="1.55" fill="#f03c22"/><circle cx="570.7" cy="840.6" r="1.55" fill="#f03c22"/><circle cx="571.1" cy="859.0" r="1.55" fill="#f03c22"/><circle cx="572.1" cy="840.6" r="1.55" fill="#f03c22"/><circle cx="579.0" cy="831.5" r="1.55" fill="#f03c22"/>
<rect x="505.9" y="770.7" width="76.2" height="102.8" fill="none" stroke="#333" stroke-width="0.8"/>
<text x="506.5" y="807.9" font-size="7.6" text-anchor="end" fill="#222">200</text>
<line x1="504.4" y1="805.2" x2="505.9" y2="805.2" stroke="#333" stroke-width="0.5"/>
<text x="506.5" y="842.9" font-size="7.6" text-anchor="end" fill="#222">150</text>
<line x1="504.4" y1="840.2" x2="505.9" y2="840.2" stroke="#333" stroke-width="0.5"/>
<text x="520.8" y="880.9" font-size="7.6" text-anchor="middle" fill="#222">6.0</text>
<line x1="520.8" y1="873.5" x2="520.8" y2="875.0" stroke="#333" stroke-width="0.5"/>
<text x="541.8" y="880.9" font-size="7.6" text-anchor="middle" fill="#222">6.5</text>
<line x1="541.8" y1="873.5" x2="541.8" y2="875.0" stroke="#333" stroke-width="0.5"/>
<text x="562.0" y="880.9" font-size="7.6" text-anchor="middle" fill="#222">7.0</text>
<line x1="562.0" y1="873.5" x2="562.0" y2="875.0" stroke="#333" stroke-width="0.5"/>
<text x="579.0" y="880.9" font-size="7.6" text-anchor="middle" fill="#222">7.5</text>
<line x1="579.0" y1="873.5" x2="579.0" y2="875.0" stroke="#333" stroke-width="0.5"/>
<text x="546.8" y="891.1" font-size="7.55" text-anchor="middle" fill="#000">Nitrogen Index LP</text>
<text transform="translate(490.1,824.0) rotate(-90)" font-size="7.55" text-anchor="middle">normalized gene expression</text>
<text x="508.9" y="784.7" font-size="6.6"><tspan font-style="italic">R</tspan>=-0.55</text>
<text x="508.9" y="790.8" font-size="6.6"><tspan font-style="italic">p</tspan>=0.019</text>
<text x="595.6" y="762.7" font-size="14.5" font-weight="bold" fill="#000">P</text>
<text x="632.2" y="768.4" font-size="8.0" font-weight="bold" font-style="italic" fill="#000">Dlg4</text>
<rect x="604.5" y="770.8" width="76.6" height="102.7" fill="#fff" stroke="none" stroke-width="1"/>
<line x1="604.5" y1="784.6" x2="681.1" y2="784.6" stroke="#f2f2f2" stroke-width="0.45"/>
<line x1="604.5" y1="805.0" x2="681.1" y2="805.0" stroke="#f2f2f2" stroke-width="0.45"/>
<line x1="604.5" y1="825.4" x2="681.1" y2="825.4" stroke="#f2f2f2" stroke-width="0.45"/>
<line x1="604.5" y1="845.8" x2="681.1" y2="845.8" stroke="#f2f2f2" stroke-width="0.45"/>
<line x1="604.5" y1="866.2" x2="681.1" y2="866.2" stroke="#f2f2f2" stroke-width="0.45"/>
<line x1="608.2" y1="770.8" x2="608.2" y2="873.5" stroke="#f2f2f2" stroke-width="0.45"/>
<line x1="628.6" y1="770.8" x2="628.6" y2="873.5" stroke="#f2f2f2" stroke-width="0.45"/>
<line x1="648.9" y1="770.8" x2="648.9" y2="873.5" stroke="#f2f2f2" stroke-width="0.45"/>
<line x1="669.2" y1="770.8" x2="669.2" y2="873.5" stroke="#f2f2f2" stroke-width="0.45"/>
<line x1="604.5" y1="774.4" x2="681.1" y2="774.4" stroke="#e4e4e4" stroke-width="0.6"/>
<line x1="604.5" y1="794.8" x2="681.1" y2="794.8" stroke="#e4e4e4" stroke-width="0.6"/>
<line x1="604.5" y1="815.5" x2="681.1" y2="815.5" stroke="#e4e4e4" stroke-width="0.6"/>
<line x1="604.5" y1="836.0" x2="681.1" y2="836.0" stroke="#e4e4e4" stroke-width="0.6"/>
<line x1="604.5" y1="856.7" x2="681.1" y2="856.7" stroke="#e4e4e4" stroke-width="0.6"/>
<line x1="618.4" y1="770.8" x2="618.4" y2="873.5" stroke="#e4e4e4" stroke-width="0.6"/>
<line x1="638.7" y1="770.8" x2="638.7" y2="873.5" stroke="#e4e4e4" stroke-width="0.6"/>
<line x1="659.1" y1="770.8" x2="659.1" y2="873.5" stroke="#e4e4e4" stroke-width="0.6"/>
<line x1="678.6" y1="770.8" x2="678.6" y2="873.5" stroke="#e4e4e4" stroke-width="0.6"/>
<path d="M608.1,785.0 L609.8,786.5 L611.6,788.0 L613.3,789.5 L615.1,791.0 L616.8,792.4 L618.6,793.9 L620.3,795.3 L622.0,796.8 L623.8,798.2 L625.5,799.6 L627.3,801.0 L629.0,802.4 L630.8,803.8 L632.5,805.2 L634.2,806.5 L636.0,807.9 L637.7,809.2 L639.5,810.5 L641.2,811.8 L643.0,813.0 L644.7,814.3 L646.4,815.5 L648.2,816.7 L649.9,817.9 L651.7,819.1 L653.4,820.2 L655.1,821.4 L656.9,822.5 L658.6,823.6 L660.4,824.7 L662.1,825.7 L663.9,826.7 L665.6,827.8 L667.3,828.8 L669.1,829.7 L670.8,830.7 L672.6,831.7 L674.3,832.6 L676.1,833.5 L677.8,834.4 L677.8,864.0 L676.1,862.6 L674.3,861.3 L672.6,859.9 L670.8,858.6 L669.1,857.3 L667.3,856.0 L665.6,854.7 L663.9,853.5 L662.1,852.2 L660.4,851.0 L658.6,849.8 L656.9,848.6 L655.1,847.5 L653.4,846.3 L651.7,845.2 L649.9,844.1 L648.2,843.0 L646.4,842.0 L644.7,840.9 L643.0,839.9 L641.2,838.9 L639.5,837.9 L637.7,837.0 L636.0,836.0 L634.2,835.1 L632.5,834.1 L630.8,833.2 L629.0,832.3 L627.3,831.5 L625.5,830.6 L623.8,829.7 L622.0,828.9 L620.3,828.1 L618.6,827.2 L616.8,826.4 L615.1,825.6 L613.3,824.8 L611.6,824.1 L609.8,823.3 L608.1,822.5 Z" fill="#c9c9c9" stroke="none" stroke-width="1" fill-opacity="0.8"/>
<line x1="608.1" y1="798.9" x2="677.8" y2="850.2" stroke="#000" stroke-width="1.35"/>
<circle cx="608.1" cy="776.4" r="1.55" fill="#f03c22"/><circle cx="633.0" cy="839.9" r="1.55" fill="#f03c22"/><circle cx="640.7" cy="850.2" r="1.55" fill="#f03c22"/><circle cx="646.6" cy="814.8" r="1.55" fill="#f03c22"/><circle cx="646.6" cy="822.0" r="1.55" fill="#f03c22"/><circle cx="646.9" cy="829.8" r="1.55" fill="#f03c22"/><circle cx="654.5" cy="832.2" r="1.55" fill="#f03c22"/><circle cx="654.5" cy="838.3" r="1.55" fill="#f03c22"/><circle cx="655.8" cy="820.0" r="1.55" fill="#f03c22"/><circle cx="655.8" cy="844.5" r="1.55" fill="#f03c22"/><circle cx="662.4" cy="823.0" r="1.55" fill="#f03c22"/><circle cx="662.4" cy="846.9" r="1.55" fill="#f03c22"/><circle cx="662.4" cy="847.4" r="1.55" fill="#f03c22"/><circle cx="669.7" cy="826.2" r="1.55" fill="#f03c22"/><circle cx="669.7" cy="841.7" r="1.55" fill="#f03c22"/><circle cx="671.0" cy="869.2" r="1.55" fill="#f03c22"/><circle cx="677.5" cy="835.0" r="1.55" fill="#f03c22"/>
<rect x="604.5" y="770.8" width="76.6" height="102.7" fill="none" stroke="#333" stroke-width="0.8"/>
<text x="602.0" y="777.1" font-size="7.6" text-anchor="end" fill="#222">900</text>
<line x1="603.0" y1="774.4" x2="604.5" y2="774.4" stroke="#333" stroke-width="0.5"/>
<text x="602.0" y="797.5" font-size="7.6" text-anchor="end" fill="#222">800</text>
<line x1="603.0" y1="794.8" x2="604.5" y2="794.8" stroke="#333" stroke-width="0.5"/>
<text x="602.0" y="818.2" font-size="7.6" text-anchor="end" fill="#222">700</text>
<line x1="603.0" y1="815.5" x2="604.5" y2="815.5" stroke="#333" stroke-width="0.5"/>
<text x="602.0" y="838.7" font-size="7.6" text-anchor="end" fill="#222">600</text>
<line x1="603.0" y1="836.0" x2="604.5" y2="836.0" stroke="#333" stroke-width="0.5"/>
<text x="602.0" y="859.4" font-size="7.6" text-anchor="end" fill="#222">500</text>
<line x1="603.0" y1="856.7" x2="604.5" y2="856.7" stroke="#333" stroke-width="0.5"/>
<text x="618.4" y="881.4" font-size="7.6" text-anchor="middle" fill="#222">6.0</text>
<line x1="618.4" y1="873.5" x2="618.4" y2="875.0" stroke="#333" stroke-width="0.5"/>
<text x="638.7" y="881.4" font-size="7.6" text-anchor="middle" fill="#222">6.5</text>
<line x1="638.7" y1="873.5" x2="638.7" y2="875.0" stroke="#333" stroke-width="0.5"/>
<text x="659.1" y="881.4" font-size="7.6" text-anchor="middle" fill="#222">7.0</text>
<line x1="659.1" y1="873.5" x2="659.1" y2="875.0" stroke="#333" stroke-width="0.5"/>
<text x="678.6" y="881.4" font-size="7.6" text-anchor="middle" fill="#222">7.5</text>
<line x1="678.6" y1="873.5" x2="678.6" y2="875.0" stroke="#333" stroke-width="0.5"/>
<text x="641.5" y="890.3" font-size="7.55" text-anchor="middle" fill="#000">Nitrogen Index LP</text>
<text x="608.1" y="782.4" font-size="6.6"><tspan font-style="italic">R</tspan>=-0.62</text>
<text x="608.1" y="788.5" font-size="6.6"><tspan font-style="italic">p</tspan>=0.0056</text>
</svg>
</body></html>
